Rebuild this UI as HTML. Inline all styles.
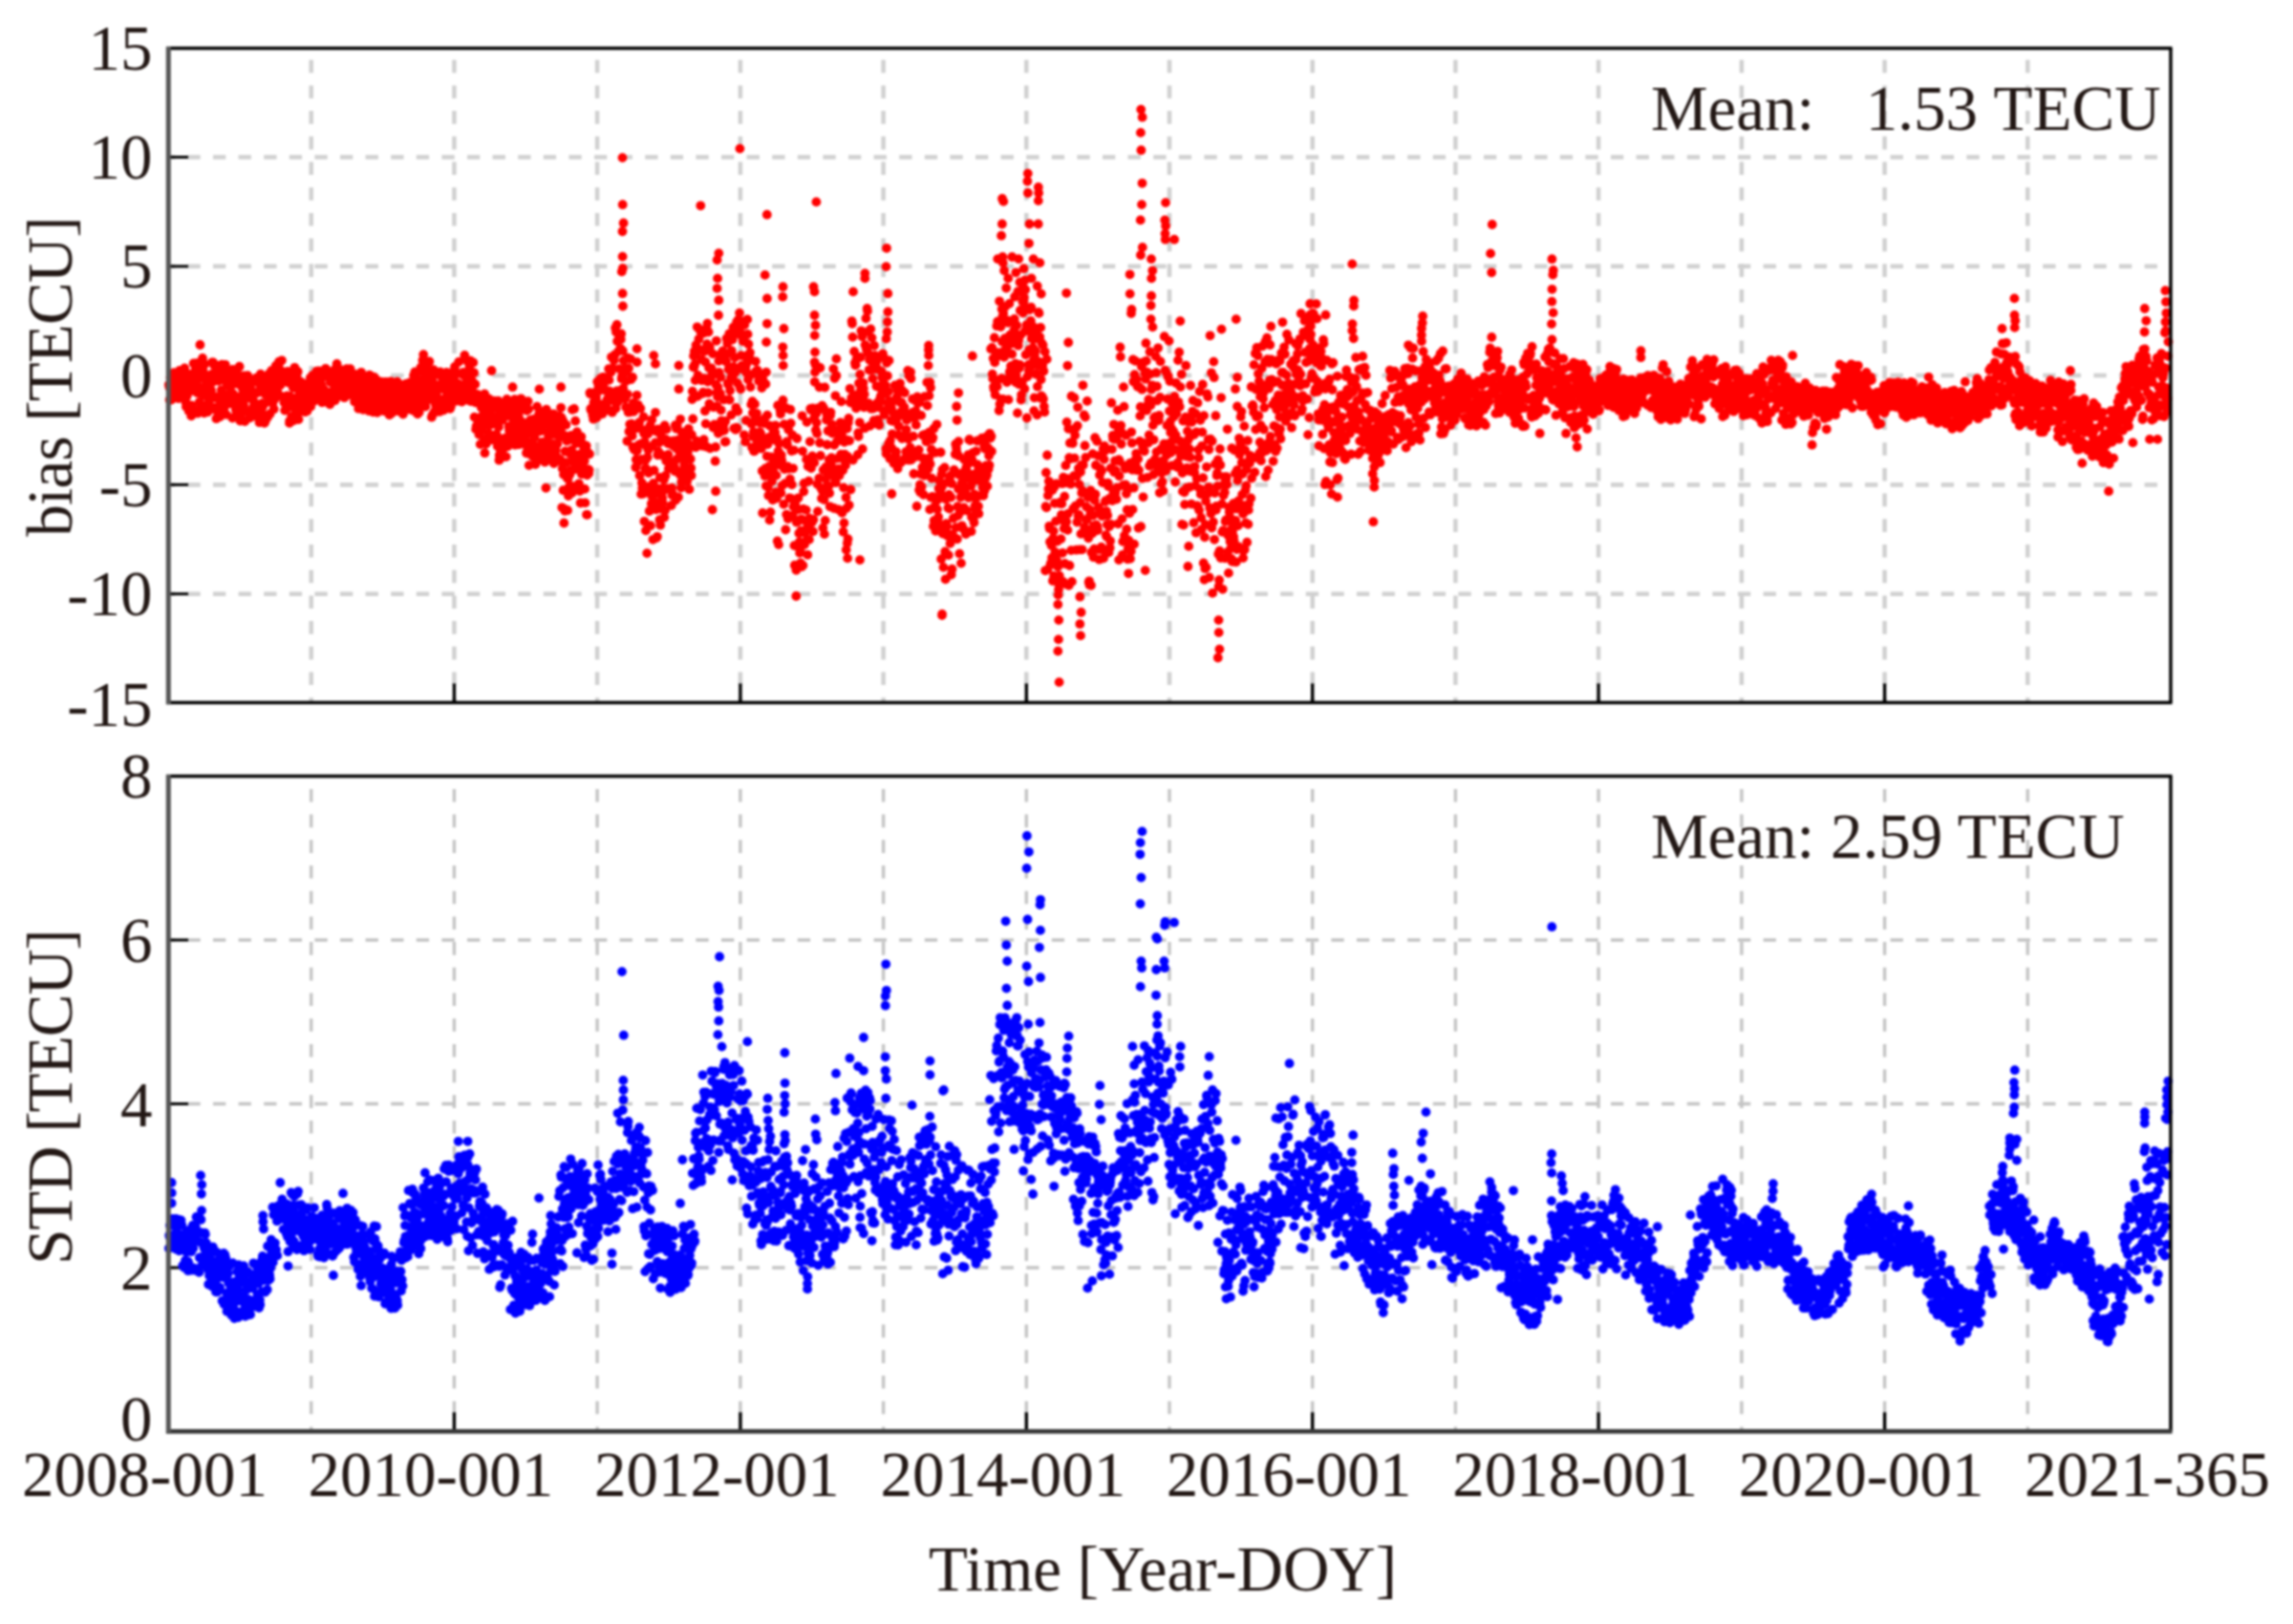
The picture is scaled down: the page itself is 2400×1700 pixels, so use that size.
<!DOCTYPE html>
<html lang="en"><head><meta charset="utf-8"><title>bias and STD time series</title>
<style>
html,body{margin:0;padding:0;background:#fff}
body{width:2400px;height:1700px;overflow:hidden}
svg{display:block;filter:blur(0.85px)}
text{font-family:"Liberation Serif",serif;font-size:67px;fill:#231815;white-space:pre}
</style></head><body>
<svg width="2400" height="1700" viewBox="0 0 2400 1700">
<rect width="2400" height="1700" fill="#fff"/>
<g id="grid-top">
<line x1="325.7" y1="50.5" x2="325.7" y2="735.5" stroke="#d0d0d0" stroke-width="4.5" stroke-dasharray="13.6 13.1" stroke-dashoffset="14.5"/>
<line x1="475.4" y1="50.5" x2="475.4" y2="735.5" stroke="#d0d0d0" stroke-width="4.5" stroke-dasharray="13.6 13.1" stroke-dashoffset="14.5"/>
<line x1="625.1" y1="50.5" x2="625.1" y2="735.5" stroke="#d0d0d0" stroke-width="4.5" stroke-dasharray="13.6 13.1" stroke-dashoffset="14.5"/>
<line x1="774.9" y1="50.5" x2="774.9" y2="735.5" stroke="#d0d0d0" stroke-width="4.5" stroke-dasharray="13.6 13.1" stroke-dashoffset="14.5"/>
<line x1="924.6" y1="50.5" x2="924.6" y2="735.5" stroke="#d0d0d0" stroke-width="4.5" stroke-dasharray="13.6 13.1" stroke-dashoffset="14.5"/>
<line x1="1074.3" y1="50.5" x2="1074.3" y2="735.5" stroke="#d0d0d0" stroke-width="4.5" stroke-dasharray="13.6 13.1" stroke-dashoffset="14.5"/>
<line x1="1224.0" y1="50.5" x2="1224.0" y2="735.5" stroke="#d0d0d0" stroke-width="4.5" stroke-dasharray="13.6 13.1" stroke-dashoffset="14.5"/>
<line x1="1373.7" y1="50.5" x2="1373.7" y2="735.5" stroke="#d0d0d0" stroke-width="4.5" stroke-dasharray="13.6 13.1" stroke-dashoffset="14.5"/>
<line x1="1523.4" y1="50.5" x2="1523.4" y2="735.5" stroke="#d0d0d0" stroke-width="4.5" stroke-dasharray="13.6 13.1" stroke-dashoffset="14.5"/>
<line x1="1673.1" y1="50.5" x2="1673.1" y2="735.5" stroke="#d0d0d0" stroke-width="4.5" stroke-dasharray="13.6 13.1" stroke-dashoffset="14.5"/>
<line x1="1822.9" y1="50.5" x2="1822.9" y2="735.5" stroke="#d0d0d0" stroke-width="4.5" stroke-dasharray="13.6 13.1" stroke-dashoffset="14.5"/>
<line x1="1972.6" y1="50.5" x2="1972.6" y2="735.5" stroke="#d0d0d0" stroke-width="4.5" stroke-dasharray="13.6 13.1" stroke-dashoffset="14.5"/>
<line x1="2122.3" y1="50.5" x2="2122.3" y2="735.5" stroke="#d0d0d0" stroke-width="4.5" stroke-dasharray="13.6 13.1" stroke-dashoffset="14.5"/>
<line x1="176.0" y1="164.5" x2="2272.0" y2="164.5" stroke="#d0d0d0" stroke-width="4.5" stroke-dasharray="13.3 13.3" stroke-dashoffset="6.2"/>
<line x1="176.0" y1="278.8" x2="2272.0" y2="278.8" stroke="#d0d0d0" stroke-width="4.5" stroke-dasharray="13.3 13.3" stroke-dashoffset="6.2"/>
<line x1="176.0" y1="393.0" x2="2272.0" y2="393.0" stroke="#d0d0d0" stroke-width="4.5" stroke-dasharray="13.3 13.3" stroke-dashoffset="6.2"/>
<line x1="176.0" y1="507.4" x2="2272.0" y2="507.4" stroke="#d0d0d0" stroke-width="4.5" stroke-dasharray="13.3 13.3" stroke-dashoffset="6.2"/>
<line x1="176.0" y1="621.7" x2="2272.0" y2="621.7" stroke="#d0d0d0" stroke-width="4.5" stroke-dasharray="13.3 13.3" stroke-dashoffset="6.2"/>
</g>
<g id="grid-bot">
<line x1="325.7" y1="812.5" x2="325.7" y2="1498.4" stroke="#c4c4c4" stroke-width="3.4" stroke-dasharray="13.6 13.1" stroke-dashoffset="13.3"/>
<line x1="475.4" y1="812.5" x2="475.4" y2="1498.4" stroke="#c4c4c4" stroke-width="3.4" stroke-dasharray="13.6 13.1" stroke-dashoffset="13.3"/>
<line x1="625.1" y1="812.5" x2="625.1" y2="1498.4" stroke="#c4c4c4" stroke-width="3.4" stroke-dasharray="13.6 13.1" stroke-dashoffset="13.3"/>
<line x1="774.9" y1="812.5" x2="774.9" y2="1498.4" stroke="#c4c4c4" stroke-width="3.4" stroke-dasharray="13.6 13.1" stroke-dashoffset="13.3"/>
<line x1="924.6" y1="812.5" x2="924.6" y2="1498.4" stroke="#c4c4c4" stroke-width="3.4" stroke-dasharray="13.6 13.1" stroke-dashoffset="13.3"/>
<line x1="1074.3" y1="812.5" x2="1074.3" y2="1498.4" stroke="#c4c4c4" stroke-width="3.4" stroke-dasharray="13.6 13.1" stroke-dashoffset="13.3"/>
<line x1="1224.0" y1="812.5" x2="1224.0" y2="1498.4" stroke="#c4c4c4" stroke-width="3.4" stroke-dasharray="13.6 13.1" stroke-dashoffset="13.3"/>
<line x1="1373.7" y1="812.5" x2="1373.7" y2="1498.4" stroke="#c4c4c4" stroke-width="3.4" stroke-dasharray="13.6 13.1" stroke-dashoffset="13.3"/>
<line x1="1523.4" y1="812.5" x2="1523.4" y2="1498.4" stroke="#c4c4c4" stroke-width="3.4" stroke-dasharray="13.6 13.1" stroke-dashoffset="13.3"/>
<line x1="1673.1" y1="812.5" x2="1673.1" y2="1498.4" stroke="#c4c4c4" stroke-width="3.4" stroke-dasharray="13.6 13.1" stroke-dashoffset="13.3"/>
<line x1="1822.9" y1="812.5" x2="1822.9" y2="1498.4" stroke="#c4c4c4" stroke-width="3.4" stroke-dasharray="13.6 13.1" stroke-dashoffset="13.3"/>
<line x1="1972.6" y1="812.5" x2="1972.6" y2="1498.4" stroke="#c4c4c4" stroke-width="3.4" stroke-dasharray="13.6 13.1" stroke-dashoffset="13.3"/>
<line x1="2122.3" y1="812.5" x2="2122.3" y2="1498.4" stroke="#c4c4c4" stroke-width="3.4" stroke-dasharray="13.6 13.1" stroke-dashoffset="13.3"/>
<line x1="176.0" y1="984.0" x2="2272.0" y2="984.0" stroke="#c4c4c4" stroke-width="3.3" stroke-dasharray="13.3 13.3" stroke-dashoffset="6.2"/>
<line x1="176.0" y1="1155.5" x2="2272.0" y2="1155.5" stroke="#c4c4c4" stroke-width="3.3" stroke-dasharray="13.3 13.3" stroke-dashoffset="6.2"/>
<line x1="176.0" y1="1327.0" x2="2272.0" y2="1327.0" stroke="#c4c4c4" stroke-width="3.3" stroke-dasharray="13.3 13.3" stroke-dashoffset="6.2"/>
</g>
<g id="ticks">
<line x1="176.0" y1="164.5" x2="197.0" y2="164.5" stroke="#000" stroke-width="3"/>
<line x1="176.0" y1="278.8" x2="197.0" y2="278.8" stroke="#000" stroke-width="3"/>
<line x1="176.0" y1="393.0" x2="197.0" y2="393.0" stroke="#000" stroke-width="3"/>
<line x1="176.0" y1="507.4" x2="197.0" y2="507.4" stroke="#000" stroke-width="3"/>
<line x1="176.0" y1="621.7" x2="197.0" y2="621.7" stroke="#000" stroke-width="3"/>
<line x1="475.4" y1="735.5" x2="475.4" y2="715.5" stroke="#000" stroke-width="3.4"/>
<line x1="774.9" y1="735.5" x2="774.9" y2="715.5" stroke="#000" stroke-width="3.4"/>
<line x1="1074.3" y1="735.5" x2="1074.3" y2="715.5" stroke="#000" stroke-width="3.4"/>
<line x1="1373.7" y1="735.5" x2="1373.7" y2="715.5" stroke="#000" stroke-width="3.4"/>
<line x1="1673.1" y1="735.5" x2="1673.1" y2="715.5" stroke="#000" stroke-width="3.4"/>
<line x1="1972.6" y1="735.5" x2="1972.6" y2="715.5" stroke="#000" stroke-width="3.4"/>
<line x1="176.0" y1="984.0" x2="197.0" y2="984.0" stroke="#000" stroke-width="3"/>
<line x1="176.0" y1="1155.5" x2="197.0" y2="1155.5" stroke="#000" stroke-width="3"/>
<line x1="176.0" y1="1327.0" x2="197.0" y2="1327.0" stroke="#000" stroke-width="3"/>
<line x1="475.4" y1="1498.4" x2="475.4" y2="1478.4" stroke="#000" stroke-width="3.4"/>
<line x1="774.9" y1="1498.4" x2="774.9" y2="1478.4" stroke="#000" stroke-width="3.4"/>
<line x1="1074.3" y1="1498.4" x2="1074.3" y2="1478.4" stroke="#000" stroke-width="3.4"/>
<line x1="1373.7" y1="1498.4" x2="1373.7" y2="1478.4" stroke="#000" stroke-width="3.4"/>
<line x1="1673.1" y1="1498.4" x2="1673.1" y2="1478.4" stroke="#000" stroke-width="3.4"/>
<line x1="1972.6" y1="1498.4" x2="1972.6" y2="1478.4" stroke="#000" stroke-width="3.4"/>
</g>
<path id="red" fill="none" stroke="#ff0000" stroke-width="9.8" stroke-linecap="round" d="M176.8 402.8h.01M177.2 404.7h.01M177.6 418.5h.01M178.0 406.5h.01M178.5 395.3h.01M178.9 399.1h.01M179.3 418.6h.01M179.7 417.2h.01M180.1 407.8h.01M180.5 415.6h.01M180.9 417.4h.01M181.3 414.9h.01M181.7 395.7h.01M182.1 390.2h.01M182.6 398.9h.01M183.0 400.3h.01M183.4 410.1h.01M183.8 393.2h.01M184.2 410.7h.01M184.6 411.5h.01M185.0 397.6h.01M185.4 394.2h.01M185.8 408.0h.01M186.2 397.6h.01M186.7 417.0h.01M187.1 397.4h.01M187.5 398.2h.01M187.9 387.9h.01M188.3 408.3h.01M188.7 410.2h.01M189.1 402.6h.01M189.5 409.2h.01M189.9 393.9h.01M190.3 388.3h.01M190.8 389.1h.01M191.2 390.0h.01M191.6 401.7h.01M192.0 415.3h.01M192.4 388.7h.01M192.8 398.7h.01M193.2 385.5h.01M193.6 411.0h.01M194.0 411.2h.01M194.4 421.0h.01M194.9 425.7h.01M195.3 404.9h.01M195.7 414.5h.01M196.1 406.8h.01M196.5 399.8h.01M196.9 399.0h.01M197.3 401.5h.01M197.7 430.4h.01M198.1 425.4h.01M198.5 394.4h.01M199.0 392.0h.01M199.4 425.2h.01M199.8 409.3h.01M200.2 401.6h.01M200.6 424.5h.01M201.0 434.1h.01M201.4 429.6h.01M201.8 401.7h.01M202.2 403.4h.01M202.6 380.4h.01M203.1 390.8h.01M203.5 393.9h.01M203.9 432.1h.01M204.3 394.4h.01M204.7 385.5h.01M205.1 390.7h.01M205.5 385.5h.01M205.9 380.1h.01M206.3 411.0h.01M206.7 403.6h.01M207.1 432.6h.01M207.6 405.2h.01M208.0 408.2h.01M208.4 411.2h.01M208.8 420.8h.01M209.2 428.0h.01M209.6 388.1h.01M210.0 395.9h.01M210.4 411.9h.01M210.8 424.0h.01M211.2 387.7h.01M211.7 392.9h.01M212.1 378.1h.01M212.5 388.1h.01M212.9 393.9h.01M213.3 406.0h.01M213.7 432.3h.01M214.1 381.6h.01M214.5 414.0h.01M214.9 408.6h.01M215.3 404.6h.01M215.8 402.2h.01M216.2 430.8h.01M216.6 412.5h.01M217.0 408.5h.01M217.4 431.2h.01M217.8 394.9h.01M218.2 422.4h.01M218.6 421.1h.01M219.0 411.9h.01M219.4 426.4h.01M219.9 401.5h.01M220.3 407.2h.01M220.7 392.3h.01M221.1 408.7h.01M221.5 415.1h.01M221.9 379.4h.01M222.3 391.4h.01M222.7 399.7h.01M223.1 379.5h.01M223.5 393.2h.01M224.0 382.3h.01M224.4 427.0h.01M224.8 416.3h.01M225.2 392.1h.01M225.6 429.0h.01M226.0 416.3h.01M226.4 438.2h.01M226.8 437.8h.01M227.2 394.3h.01M227.6 415.5h.01M228.1 425.9h.01M228.5 383.9h.01M228.9 398.8h.01M229.3 387.5h.01M229.7 382.7h.01M230.1 436.4h.01M230.5 419.1h.01M230.9 434.2h.01M231.3 416.6h.01M231.7 408.3h.01M232.2 381.7h.01M232.6 396.7h.01M233.0 390.2h.01M233.4 383.6h.01M233.8 382.4h.01M234.2 387.7h.01M234.6 394.7h.01M235.0 426.2h.01M235.4 420.7h.01M235.8 381.8h.01M236.2 415.5h.01M236.7 433.9h.01M237.1 423.1h.01M237.5 402.7h.01M237.9 390.8h.01M238.3 401.5h.01M238.7 404.0h.01M239.1 401.4h.01M239.5 390.2h.01M239.9 413.7h.01M240.3 412.2h.01M240.8 413.7h.01M241.2 398.1h.01M241.6 422.4h.01M242.0 403.8h.01M242.4 415.7h.01M242.8 395.4h.01M243.2 400.8h.01M243.6 386.8h.01M244.0 412.1h.01M244.4 397.7h.01M244.9 397.7h.01M245.3 390.1h.01M245.7 419.1h.01M246.1 399.4h.01M246.5 425.4h.01M246.9 429.1h.01M247.3 400.0h.01M247.7 426.1h.01M248.1 387.3h.01M248.5 392.3h.01M249.0 429.5h.01M249.4 402.0h.01M249.8 436.9h.01M250.2 395.7h.01M250.6 383.7h.01M251.0 415.7h.01M251.4 440.6h.01M251.8 422.9h.01M252.2 427.2h.01M252.6 414.6h.01M253.1 429.1h.01M253.5 431.4h.01M253.9 406.9h.01M254.3 400.7h.01M254.7 410.2h.01M255.1 424.2h.01M255.5 393.5h.01M255.9 394.6h.01M256.3 441.1h.01M256.7 396.2h.01M257.2 401.3h.01M257.6 393.4h.01M258.0 430.5h.01M258.4 416.3h.01M258.8 404.4h.01M259.2 393.1h.01M259.6 399.8h.01M260.0 399.2h.01M260.4 416.7h.01M260.8 396.1h.01M261.2 432.9h.01M261.7 437.4h.01M262.1 405.7h.01M262.5 402.1h.01M262.9 399.2h.01M263.3 413.7h.01M263.7 414.4h.01M264.1 410.5h.01M264.5 416.7h.01M264.9 426.4h.01M265.3 427.6h.01M265.8 420.5h.01M266.2 425.3h.01M266.6 421.8h.01M267.0 431.4h.01M267.4 424.5h.01M267.8 430.9h.01M268.2 395.7h.01M268.6 430.1h.01M269.0 429.8h.01M269.4 411.2h.01M269.9 436.9h.01M270.3 410.6h.01M270.7 428.6h.01M271.1 409.3h.01M271.5 442.2h.01M271.9 402.6h.01M272.3 437.3h.01M272.7 391.6h.01M273.1 409.6h.01M273.5 401.8h.01M274.0 432.2h.01M274.4 422.1h.01M274.8 426.1h.01M275.2 408.0h.01M275.6 422.8h.01M276.0 396.7h.01M276.4 397.6h.01M276.8 442.9h.01M277.2 422.2h.01M277.6 412.7h.01M278.1 436.1h.01M278.5 406.6h.01M278.9 404.7h.01M279.3 397.7h.01M279.7 402.5h.01M280.1 436.7h.01M280.5 418.7h.01M280.9 414.3h.01M281.3 411.3h.01M281.7 391.1h.01M282.2 418.7h.01M282.6 433.2h.01M283.0 399.8h.01M283.4 417.2h.01M283.8 396.9h.01M284.2 387.9h.01M284.6 392.6h.01M285.0 398.7h.01M285.4 422.0h.01M285.8 408.0h.01M286.3 389.6h.01M286.7 428.3h.01M287.1 412.9h.01M287.5 417.8h.01M287.9 410.9h.01M288.3 402.3h.01M288.7 383.0h.01M289.1 392.6h.01M289.5 398.7h.01M289.9 389.7h.01M290.3 409.8h.01M290.8 397.8h.01M291.2 382.8h.01M291.6 395.4h.01M292.0 378.6h.01M292.4 403.7h.01M292.8 379.4h.01M293.2 403.4h.01M293.6 401.9h.01M294.0 387.9h.01M294.4 388.4h.01M294.9 377.3h.01M295.3 415.2h.01M295.7 400.3h.01M296.1 389.9h.01M296.5 395.3h.01M296.9 393.8h.01M297.3 421.3h.01M297.7 421.8h.01M298.1 429.6h.01M298.5 394.0h.01M299.0 415.7h.01M299.4 399.3h.01M299.8 419.5h.01M300.2 393.6h.01M300.6 414.3h.01M301.0 389.0h.01M301.4 400.4h.01M301.8 395.6h.01M302.2 426.3h.01M302.6 394.5h.01M303.1 440.8h.01M303.5 415.0h.01M303.9 415.7h.01M304.3 422.7h.01M304.7 389.1h.01M305.1 435.9h.01M305.5 424.7h.01M305.9 398.7h.01M306.3 401.1h.01M306.7 405.8h.01M307.2 440.2h.01M307.6 417.1h.01M308.0 422.5h.01M308.4 384.8h.01M308.8 406.0h.01M309.2 401.7h.01M309.6 431.6h.01M310.0 425.4h.01M310.4 394.4h.01M310.8 416.8h.01M311.3 405.7h.01M311.7 389.0h.01M312.1 421.3h.01M312.5 439.1h.01M312.9 414.3h.01M313.3 423.1h.01M313.7 431.1h.01M314.1 408.2h.01M314.5 399.6h.01M314.9 406.0h.01M315.4 416.5h.01M315.8 400.4h.01M316.2 423.6h.01M316.6 402.2h.01M317.0 415.7h.01M317.4 409.8h.01M317.8 418.4h.01M318.2 430.2h.01M318.6 420.1h.01M319.0 411.3h.01M319.4 431.2h.01M319.9 410.9h.01M320.3 403.5h.01M320.7 424.8h.01M321.1 407.7h.01M321.5 430.2h.01M321.9 401.8h.01M322.3 409.3h.01M322.7 415.1h.01M323.1 413.5h.01M323.5 419.1h.01M324.0 410.9h.01M324.4 407.7h.01M324.8 395.4h.01M325.2 425.5h.01M325.6 416.6h.01M326.0 401.9h.01M326.4 396.7h.01M326.8 400.7h.01M327.2 392.8h.01M327.6 407.7h.01M328.1 420.2h.01M328.5 402.7h.01M328.9 406.5h.01M329.3 408.5h.01M329.7 396.3h.01M330.1 412.8h.01M330.5 414.6h.01M330.9 397.9h.01M331.3 388.6h.01M331.7 399.3h.01M332.2 402.8h.01M332.6 392.4h.01M333.0 409.8h.01M333.4 416.9h.01M333.8 388.5h.01M334.2 398.2h.01M334.6 391.9h.01M335.0 418.7h.01M335.4 399.6h.01M335.8 389.4h.01M336.3 402.8h.01M336.7 410.8h.01M337.1 421.2h.01M337.5 407.3h.01M337.9 410.5h.01M338.3 416.2h.01M338.7 389.6h.01M339.1 407.6h.01M339.5 388.7h.01M339.9 391.2h.01M340.4 411.3h.01M340.8 385.8h.01M341.2 417.8h.01M341.6 390.4h.01M342.0 390.5h.01M342.4 417.3h.01M342.8 394.5h.01M343.2 410.6h.01M343.6 421.5h.01M344.0 395.1h.01M344.5 419.9h.01M344.9 388.9h.01M345.3 423.3h.01M345.7 400.1h.01M346.1 395.8h.01M346.5 414.4h.01M346.9 411.7h.01M347.3 413.1h.01M347.7 395.8h.01M348.1 393.0h.01M348.5 393.1h.01M349.0 394.1h.01M349.4 408.0h.01M349.8 415.7h.01M350.2 402.0h.01M350.6 419.2h.01M351.0 392.8h.01M351.4 385.6h.01M351.8 385.7h.01M352.2 399.3h.01M352.6 380.9h.01M353.1 404.1h.01M353.5 415.4h.01M353.9 390.5h.01M354.3 407.0h.01M354.7 410.9h.01M355.1 414.1h.01M355.5 390.5h.01M355.9 405.5h.01M356.3 399.7h.01M356.7 403.9h.01M357.2 410.2h.01M357.6 392.8h.01M358.0 387.4h.01M358.4 404.0h.01M358.8 391.8h.01M359.2 412.7h.01M359.6 411.0h.01M360.0 404.7h.01M360.4 416.2h.01M360.8 397.0h.01M361.3 415.2h.01M361.7 409.1h.01M362.1 401.3h.01M362.5 390.1h.01M362.9 386.2h.01M363.3 402.0h.01M363.7 410.3h.01M364.1 399.0h.01M364.5 402.5h.01M364.9 396.3h.01M365.4 412.5h.01M365.8 411.3h.01M366.2 387.2h.01M366.6 386.1h.01M367.0 397.9h.01M367.4 405.2h.01M367.8 413.6h.01M368.2 410.1h.01M368.6 393.1h.01M369.0 395.5h.01M369.5 410.3h.01M369.9 412.8h.01M370.3 398.5h.01M370.7 409.3h.01M371.1 420.5h.01M371.5 392.0h.01M371.9 414.8h.01M372.3 409.9h.01M372.7 418.8h.01M373.1 420.3h.01M373.6 400.6h.01M374.0 393.5h.01M374.4 418.9h.01M374.8 422.1h.01M375.2 427.7h.01M375.6 403.5h.01M376.0 393.5h.01M376.4 405.3h.01M376.8 407.0h.01M377.2 406.4h.01M377.6 416.7h.01M378.1 389.8h.01M378.5 411.3h.01M378.9 412.6h.01M379.3 412.8h.01M379.7 409.9h.01M380.1 428.8h.01M380.5 403.1h.01M380.9 419.7h.01M381.3 399.7h.01M381.7 395.4h.01M382.2 425.5h.01M382.6 408.8h.01M383.0 412.4h.01M383.4 397.1h.01M383.8 418.4h.01M384.2 411.7h.01M384.6 399.1h.01M385.0 425.1h.01M385.4 403.0h.01M385.8 399.8h.01M386.3 430.2h.01M386.7 392.7h.01M387.1 427.7h.01M387.5 426.4h.01M387.9 419.8h.01M388.3 407.9h.01M388.7 393.9h.01M389.1 413.8h.01M389.5 407.3h.01M389.9 404.9h.01M390.4 431.4h.01M390.8 428.7h.01M391.2 412.2h.01M391.6 394.9h.01M392.0 422.0h.01M392.4 414.3h.01M392.8 396.3h.01M393.2 424.8h.01M393.6 409.2h.01M394.0 411.5h.01M394.5 421.9h.01M394.9 431.8h.01M395.3 398.9h.01M395.7 400.6h.01M396.1 412.2h.01M396.5 404.4h.01M396.9 407.2h.01M397.3 405.1h.01M397.7 406.0h.01M398.1 402.2h.01M398.6 399.6h.01M399.0 414.7h.01M399.4 399.8h.01M399.8 423.7h.01M400.2 407.7h.01M400.6 415.7h.01M401.0 403.0h.01M401.4 412.8h.01M401.8 430.2h.01M402.2 425.7h.01M402.6 402.9h.01M403.1 409.2h.01M403.5 400.0h.01M403.9 426.4h.01M404.3 406.1h.01M404.7 402.9h.01M405.1 430.3h.01M405.5 416.8h.01M405.9 400.2h.01M406.3 413.1h.01M406.7 429.0h.01M407.2 418.9h.01M407.6 434.4h.01M408.0 409.0h.01M408.4 423.1h.01M408.8 406.2h.01M409.2 399.3h.01M409.6 432.9h.01M410.0 418.6h.01M410.4 420.6h.01M410.8 408.8h.01M411.3 422.5h.01M411.7 424.6h.01M412.1 413.9h.01M412.5 425.0h.01M412.9 407.3h.01M413.3 423.2h.01M413.7 418.6h.01M414.1 405.9h.01M414.5 419.3h.01M414.9 423.1h.01M415.4 410.5h.01M415.8 399.7h.01M416.2 430.2h.01M416.6 421.8h.01M417.0 422.3h.01M417.4 404.0h.01M417.8 415.9h.01M418.2 402.3h.01M418.6 420.8h.01M419.0 419.6h.01M419.5 427.2h.01M419.9 416.6h.01M420.3 424.2h.01M420.7 428.6h.01M421.1 405.1h.01M421.5 419.6h.01M421.9 433.5h.01M422.3 425.2h.01M422.7 422.4h.01M423.1 419.5h.01M423.6 411.6h.01M424.0 411.3h.01M424.4 402.5h.01M424.8 401.9h.01M425.2 413.3h.01M425.6 425.6h.01M426.0 419.2h.01M426.4 411.6h.01M426.8 409.3h.01M427.2 407.9h.01M427.7 409.8h.01M428.1 416.1h.01M428.5 400.7h.01M428.9 428.5h.01M429.3 428.2h.01M429.7 421.7h.01M430.1 422.3h.01M430.5 405.9h.01M430.9 412.1h.01M431.3 426.7h.01M431.7 402.6h.01M432.2 429.6h.01M432.6 408.3h.01M433.0 393.0h.01M433.4 430.0h.01M433.8 420.5h.01M434.2 389.5h.01M434.6 390.6h.01M435.0 423.2h.01M435.4 415.2h.01M435.8 396.3h.01M436.3 415.2h.01M436.7 419.8h.01M437.1 433.4h.01M437.5 403.2h.01M437.9 411.8h.01M438.3 401.8h.01M438.7 431.5h.01M439.1 421.7h.01M439.5 407.3h.01M439.9 415.6h.01M440.4 384.6h.01M440.8 423.7h.01M441.2 411.1h.01M441.6 420.3h.01M442.0 411.3h.01M442.4 377.2h.01M442.8 389.5h.01M443.2 371.1h.01M443.6 396.9h.01M444.0 385.2h.01M444.5 411.9h.01M444.9 422.6h.01M445.3 425.5h.01M445.7 380.7h.01M446.1 401.7h.01M446.5 382.2h.01M446.9 417.0h.01M447.3 395.4h.01M447.7 399.9h.01M448.1 387.1h.01M448.6 408.7h.01M449.0 412.4h.01M449.4 378.5h.01M449.8 400.3h.01M450.2 395.4h.01M450.6 417.8h.01M451.0 397.4h.01M451.4 404.9h.01M451.8 436.7h.01M452.2 418.4h.01M452.7 434.1h.01M453.1 400.2h.01M453.5 393.7h.01M453.9 387.2h.01M454.3 406.9h.01M454.7 431.0h.01M455.1 417.7h.01M455.5 411.5h.01M455.9 423.6h.01M456.3 425.1h.01M456.8 411.7h.01M457.2 415.1h.01M457.6 416.0h.01M458.0 427.6h.01M458.4 430.9h.01M458.8 407.0h.01M459.2 418.7h.01M459.6 427.9h.01M460.0 419.8h.01M460.4 430.9h.01M460.8 389.5h.01M461.3 392.8h.01M461.7 401.9h.01M462.1 394.3h.01M462.5 424.8h.01M462.9 423.6h.01M463.3 396.7h.01M463.7 401.5h.01M464.1 407.3h.01M464.5 429.4h.01M464.9 402.7h.01M465.4 407.4h.01M465.8 428.0h.01M466.2 405.5h.01M466.6 416.0h.01M467.0 407.4h.01M467.4 389.9h.01M467.8 398.4h.01M468.2 416.4h.01M468.6 390.4h.01M469.0 424.1h.01M469.5 390.4h.01M469.9 414.4h.01M470.3 409.1h.01M470.7 405.5h.01M471.1 427.8h.01M471.5 422.5h.01M471.9 425.6h.01M472.3 404.0h.01M472.7 405.3h.01M473.1 415.7h.01M473.6 405.3h.01M474.0 402.6h.01M474.4 407.1h.01M474.8 411.7h.01M475.2 397.3h.01M475.6 388.7h.01M476.0 383.9h.01M476.4 405.4h.01M476.8 390.8h.01M477.2 419.7h.01M477.7 419.7h.01M478.1 406.3h.01M478.5 390.8h.01M478.9 412.4h.01M479.3 417.9h.01M479.7 401.6h.01M480.1 378.9h.01M480.5 407.7h.01M480.9 403.1h.01M481.3 416.1h.01M481.8 414.4h.01M482.2 418.8h.01M482.6 406.4h.01M483.0 415.9h.01M483.4 420.5h.01M483.8 404.8h.01M484.2 392.3h.01M484.6 390.0h.01M485.0 415.4h.01M485.4 392.8h.01M485.9 410.2h.01M486.3 372.0h.01M486.7 392.5h.01M487.1 394.2h.01M487.5 391.8h.01M487.9 392.6h.01M488.3 400.1h.01M488.7 390.6h.01M489.1 377.5h.01M489.5 413.5h.01M489.9 379.0h.01M490.4 402.3h.01M490.8 419.2h.01M491.2 385.8h.01M491.6 394.7h.01M492.0 391.1h.01M492.4 377.7h.01M492.8 420.1h.01M493.2 405.4h.01M493.6 397.9h.01M494.0 407.1h.01M494.5 415.1h.01M494.9 411.0h.01M495.3 379.5h.01M495.7 418.5h.01M496.1 390.2h.01M496.5 436.6h.01M496.9 401.9h.01M497.3 402.3h.01M497.7 421.3h.01M498.1 449.4h.01M498.6 446.3h.01M499.0 415.0h.01M499.4 444.9h.01M499.8 412.9h.01M500.2 441.3h.01M500.6 417.6h.01M501.0 415.8h.01M501.4 454.9h.01M501.8 422.3h.01M502.2 437.5h.01M502.7 465.1h.01M503.1 444.2h.01M503.5 445.2h.01M503.9 426.8h.01M504.3 441.2h.01M504.7 450.4h.01M505.1 434.9h.01M505.5 420.9h.01M505.9 440.1h.01M506.3 437.8h.01M506.8 459.4h.01M507.2 412.5h.01M507.6 427.0h.01M508.0 442.7h.01M508.4 445.0h.01M508.8 464.6h.01M509.2 438.0h.01M509.6 437.4h.01M510.0 418.2h.01M510.4 428.9h.01M510.9 444.8h.01M511.3 418.0h.01M511.7 417.5h.01M512.1 454.2h.01M512.5 424.2h.01M512.9 460.7h.01M513.3 429.6h.01M513.7 444.5h.01M514.1 438.0h.01M514.5 427.4h.01M515.0 435.9h.01M515.4 440.6h.01M515.8 441.0h.01M516.2 425.7h.01M516.6 439.0h.01M517.0 419.6h.01M517.4 460.6h.01M517.8 441.9h.01M518.2 457.3h.01M518.6 436.5h.01M519.0 437.4h.01M519.5 454.6h.01M519.9 462.4h.01M520.3 440.2h.01M520.7 467.1h.01M521.1 427.9h.01M521.5 419.6h.01M521.9 447.0h.01M522.3 458.6h.01M522.7 476.5h.01M523.1 468.4h.01M523.6 470.7h.01M524.0 474.2h.01M524.4 479.2h.01M524.8 461.8h.01M525.2 425.7h.01M525.6 439.9h.01M526.0 432.4h.01M526.4 436.4h.01M526.8 463.1h.01M527.2 469.4h.01M527.7 427.7h.01M528.1 467.5h.01M528.5 461.8h.01M528.9 436.3h.01M529.3 458.3h.01M529.7 478.1h.01M530.1 435.9h.01M530.5 418.0h.01M530.9 421.4h.01M531.3 467.2h.01M531.8 463.2h.01M532.2 430.7h.01M532.6 446.5h.01M533.0 450.6h.01M533.4 448.9h.01M533.8 454.0h.01M534.2 435.9h.01M534.6 458.8h.01M535.0 452.1h.01M535.4 432.0h.01M535.9 422.4h.01M536.3 452.0h.01M536.7 443.7h.01M537.1 457.3h.01M537.5 433.8h.01M537.9 432.3h.01M538.3 425.6h.01M538.7 418.1h.01M539.1 465.7h.01M539.5 464.3h.01M540.0 442.2h.01M540.4 463.2h.01M540.8 457.6h.01M541.2 436.1h.01M541.6 429.7h.01M542.0 419.9h.01M542.4 447.8h.01M542.8 436.0h.01M543.2 465.2h.01M543.6 447.9h.01M544.1 430.0h.01M544.5 455.5h.01M544.9 422.9h.01M545.3 417.3h.01M545.7 441.2h.01M546.1 457.6h.01M546.5 453.6h.01M546.9 446.8h.01M547.3 443.5h.01M547.7 419.9h.01M548.1 444.8h.01M548.6 464.7h.01M549.0 421.4h.01M549.4 458.4h.01M549.8 462.2h.01M550.2 462.3h.01M550.6 427.8h.01M551.0 474.3h.01M551.4 429.9h.01M551.8 452.6h.01M552.2 470.6h.01M552.7 420.1h.01M553.1 428.5h.01M553.5 453.3h.01M553.9 441.3h.01M554.3 442.5h.01M554.7 448.9h.01M555.1 439.7h.01M555.5 475.9h.01M555.9 452.5h.01M556.3 473.5h.01M556.8 462.7h.01M557.2 454.0h.01M557.6 477.8h.01M558.0 473.1h.01M558.4 438.9h.01M558.8 450.7h.01M559.2 478.4h.01M559.6 457.9h.01M560.0 468.9h.01M560.4 486.0h.01M560.9 481.8h.01M561.3 440.4h.01M561.7 467.4h.01M562.1 425.6h.01M562.5 444.3h.01M562.9 473.9h.01M563.3 438.8h.01M563.7 440.8h.01M564.1 433.2h.01M564.5 471.2h.01M565.0 439.2h.01M565.4 451.3h.01M565.8 451.2h.01M566.2 435.7h.01M566.6 481.4h.01M567.0 450.9h.01M567.4 463.0h.01M567.8 472.6h.01M568.2 440.8h.01M568.6 433.4h.01M569.1 480.5h.01M569.5 443.3h.01M569.9 475.4h.01M570.3 483.7h.01M570.7 429.7h.01M571.1 465.1h.01M571.5 429.0h.01M571.9 428.7h.01M572.3 442.7h.01M572.7 436.3h.01M573.1 467.0h.01M573.6 479.7h.01M574.0 456.5h.01M574.4 452.4h.01M574.8 467.5h.01M575.2 465.9h.01M575.6 446.2h.01M576.0 477.9h.01M576.4 473.5h.01M576.8 472.1h.01M577.2 455.1h.01M577.7 453.7h.01M578.1 447.8h.01M578.5 454.8h.01M578.9 464.8h.01M579.3 433.3h.01M579.7 485.0h.01M580.1 442.0h.01M580.5 436.1h.01M580.9 454.9h.01M581.3 469.6h.01M581.8 471.2h.01M582.2 443.1h.01M582.6 477.9h.01M583.0 479.5h.01M583.4 464.6h.01M583.8 446.7h.01M584.2 448.6h.01M584.6 456.2h.01M585.0 452.1h.01M585.4 435.6h.01M585.9 457.6h.01M586.3 480.9h.01M586.7 452.4h.01M587.1 449.1h.01M587.5 437.0h.01M587.9 437.7h.01M588.3 484.0h.01M588.7 490.4h.01M589.1 440.1h.01M589.5 513.2h.01M590.0 496.7h.01M590.4 532.7h.01M590.8 456.0h.01M591.2 534.8h.01M591.6 472.5h.01M592.0 456.3h.01M592.4 444.7h.01M592.8 484.1h.01M593.2 461.6h.01M593.6 500.2h.01M594.1 534.2h.01M594.5 501.3h.01M594.9 519.1h.01M595.3 460.0h.01M595.7 509.8h.01M596.1 460.3h.01M596.5 496.5h.01M596.9 475.1h.01M597.3 492.5h.01M597.7 456.0h.01M598.2 471.1h.01M598.6 516.1h.01M599.0 509.2h.01M599.4 482.0h.01M599.8 491.9h.01M600.2 483.9h.01M600.6 511.6h.01M601.0 428.0h.01M601.4 490.1h.01M601.8 456.5h.01M602.2 440.7h.01M602.7 510.2h.01M603.1 464.1h.01M603.5 478.1h.01M603.9 452.1h.01M604.3 455.5h.01M604.7 480.1h.01M605.1 491.3h.01M605.5 475.9h.01M605.9 506.3h.01M606.3 461.9h.01M606.8 514.1h.01M607.2 492.3h.01M607.6 526.5h.01M608.0 483.1h.01M608.4 457.2h.01M608.8 496.3h.01M609.2 488.5h.01M609.6 484.0h.01M610.0 473.7h.01M610.4 466.6h.01M610.9 465.4h.01M611.3 468.1h.01M611.7 482.5h.01M612.1 511.9h.01M612.5 526.4h.01M612.9 493.3h.01M613.3 470.7h.01M613.7 466.6h.01M614.1 494.4h.01M614.5 497.3h.01M615.0 493.6h.01M615.4 473.6h.01M615.8 491.4h.01M616.2 495.6h.01M616.6 492.0h.01M617.0 475.3h.01M617.4 411.2h.01M617.8 412.3h.01M618.2 428.0h.01M618.6 429.3h.01M619.1 427.3h.01M619.5 429.4h.01M619.9 413.1h.01M620.3 434.5h.01M620.7 430.9h.01M621.1 438.7h.01M621.5 421.1h.01M621.9 420.5h.01M622.3 426.7h.01M622.7 410.8h.01M623.2 423.0h.01M623.6 415.7h.01M624.0 415.9h.01M624.4 437.2h.01M624.8 425.6h.01M625.2 399.6h.01M625.6 423.0h.01M626.0 422.3h.01M626.4 404.1h.01M626.8 409.2h.01M627.3 434.3h.01M627.7 404.3h.01M628.1 404.7h.01M628.5 396.1h.01M628.9 400.7h.01M629.3 424.7h.01M629.7 426.7h.01M630.1 426.5h.01M630.5 433.2h.01M630.9 394.9h.01M631.3 430.1h.01M631.8 405.1h.01M632.2 429.5h.01M632.6 429.9h.01M633.0 395.2h.01M633.4 422.1h.01M633.8 423.4h.01M634.2 409.1h.01M634.6 423.2h.01M635.0 429.2h.01M635.4 418.1h.01M635.9 409.3h.01M636.3 428.6h.01M636.7 397.9h.01M637.1 386.1h.01M637.5 397.9h.01M637.9 409.5h.01M638.3 419.0h.01M638.7 418.6h.01M639.1 413.2h.01M639.5 389.5h.01M640.0 373.8h.01M640.4 414.5h.01M640.8 431.7h.01M641.2 385.4h.01M641.6 418.5h.01M642.0 415.2h.01M642.4 376.7h.01M642.8 377.0h.01M643.2 420.0h.01M643.6 371.3h.01M644.1 343.2h.01M644.5 427.5h.01M644.9 347.5h.01M645.3 409.5h.01M645.7 339.9h.01M646.1 357.2h.01M646.5 420.9h.01M646.9 349.2h.01M647.3 367.6h.01M647.7 409.1h.01M648.2 386.1h.01M648.6 366.6h.01M649.0 413.4h.01M649.4 364.8h.01M649.8 355.2h.01M650.2 349.4h.01M650.6 396.6h.01M651.0 393.9h.01M651.4 396.7h.01M651.8 367.2h.01M652.3 406.4h.01M652.7 377.4h.01M653.1 413.7h.01M653.5 386.1h.01M653.9 417.5h.01M654.3 413.0h.01M654.7 416.0h.01M655.1 426.3h.01M655.5 398.9h.01M655.9 389.1h.01M656.4 461.8h.01M656.8 412.8h.01M657.2 374.6h.01M657.6 431.6h.01M658.0 385.5h.01M658.4 451.8h.01M658.8 427.8h.01M659.2 444.1h.01M659.6 431.4h.01M660.0 375.7h.01M660.4 397.2h.01M660.9 443.7h.01M661.3 444.4h.01M661.7 456.2h.01M662.1 395.0h.01M662.5 468.0h.01M662.9 421.8h.01M663.3 430.8h.01M663.7 470.5h.01M664.1 470.3h.01M664.5 446.8h.01M665.0 448.6h.01M665.4 489.3h.01M665.8 481.1h.01M666.2 472.3h.01M666.6 413.8h.01M667.0 471.5h.01M667.4 483.0h.01M667.8 423.8h.01M668.2 483.5h.01M668.6 465.7h.01M669.1 442.2h.01M669.5 497.8h.01M669.9 448.2h.01M670.3 427.5h.01M670.7 464.7h.01M671.1 517.2h.01M671.5 480.9h.01M671.9 505.4h.01M672.3 511.0h.01M672.7 511.8h.01M673.2 516.9h.01M673.6 436.5h.01M674.0 453.7h.01M674.4 545.8h.01M674.8 462.4h.01M675.2 490.6h.01M675.6 481.7h.01M676.0 555.4h.01M676.4 490.6h.01M676.8 467.4h.01M677.3 449.6h.01M677.7 478.8h.01M678.1 454.2h.01M678.5 471.1h.01M678.9 495.0h.01M679.3 509.3h.01M679.7 535.0h.01M680.1 516.3h.01M680.5 445.2h.01M680.9 550.2h.01M681.4 449.5h.01M681.8 527.2h.01M682.2 439.4h.01M682.6 519.9h.01M683.0 466.9h.01M683.4 564.8h.01M683.8 506.0h.01M684.2 513.4h.01M684.6 492.5h.01M685.0 517.4h.01M685.5 527.8h.01M685.9 463.4h.01M686.3 451.4h.01M686.7 533.4h.01M687.1 563.1h.01M687.5 526.5h.01M687.9 561.8h.01M688.3 476.3h.01M688.7 449.3h.01M689.1 472.6h.01M689.5 511.7h.01M690.0 463.2h.01M690.4 544.2h.01M690.8 500.0h.01M691.2 549.7h.01M691.6 454.9h.01M692.0 532.7h.01M692.4 518.4h.01M692.8 476.5h.01M693.2 521.3h.01M693.6 526.5h.01M694.1 510.9h.01M694.5 513.5h.01M694.9 502.1h.01M695.3 541.6h.01M695.7 445.5h.01M696.1 534.3h.01M696.5 497.9h.01M696.9 460.0h.01M697.3 482.6h.01M697.7 449.4h.01M698.2 511.3h.01M698.6 511.7h.01M699.0 464.0h.01M699.4 476.0h.01M699.8 490.6h.01M700.2 464.6h.01M700.6 490.1h.01M701.0 483.2h.01M701.4 461.8h.01M701.8 489.0h.01M702.3 486.7h.01M702.7 529.0h.01M703.1 510.8h.01M703.5 518.2h.01M703.9 516.8h.01M704.3 485.0h.01M704.7 466.7h.01M705.1 486.2h.01M705.5 461.3h.01M705.9 488.6h.01M706.4 493.2h.01M706.8 445.1h.01M707.2 523.5h.01M707.6 469.1h.01M708.0 448.7h.01M708.4 480.7h.01M708.8 445.1h.01M709.2 466.6h.01M709.6 460.7h.01M710.0 520.4h.01M710.5 469.7h.01M710.9 472.2h.01M711.3 493.9h.01M711.7 496.7h.01M712.1 438.8h.01M712.5 469.8h.01M712.9 510.6h.01M713.3 504.5h.01M713.7 452.4h.01M714.1 460.7h.01M714.5 493.3h.01M715.0 476.6h.01M715.4 479.1h.01M715.8 501.3h.01M716.2 486.8h.01M716.6 480.7h.01M717.0 453.9h.01M717.4 454.6h.01M717.8 458.7h.01M718.2 468.6h.01M718.6 500.8h.01M719.1 504.0h.01M719.5 463.1h.01M719.9 473.1h.01M720.3 497.1h.01M720.7 448.8h.01M721.1 495.1h.01M721.5 512.2h.01M721.9 480.1h.01M722.3 466.7h.01M722.7 480.5h.01M723.2 490.0h.01M723.6 497.8h.01M724.0 455.1h.01M724.4 418.0h.01M724.8 409.6h.01M725.2 438.5h.01M725.6 384.3h.01M726.0 372.6h.01M726.4 384.6h.01M726.8 367.8h.01M727.3 381.3h.01M727.7 398.1h.01M728.1 468.2h.01M728.5 361.3h.01M728.9 369.1h.01M729.3 461.7h.01M729.7 342.3h.01M730.1 414.9h.01M730.5 392.9h.01M730.9 463.4h.01M731.4 355.0h.01M731.8 344.4h.01M732.2 465.5h.01M732.6 462.8h.01M733.0 345.4h.01M733.4 347.1h.01M733.8 366.3h.01M734.2 376.3h.01M734.6 398.2h.01M735.0 466.7h.01M735.5 411.9h.01M735.9 410.6h.01M736.3 348.7h.01M736.7 460.2h.01M737.1 396.2h.01M737.5 367.7h.01M737.9 430.2h.01M738.3 379.0h.01M738.7 443.6h.01M739.1 467.5h.01M739.6 343.6h.01M740.0 360.1h.01M740.4 338.6h.01M740.8 399.5h.01M741.2 411.2h.01M741.6 347.6h.01M742.0 385.1h.01M742.4 422.6h.01M742.8 363.5h.01M743.2 469.3h.01M743.6 395.3h.01M744.1 395.2h.01M744.5 385.3h.01M744.9 425.5h.01M745.3 389.0h.01M745.7 390.7h.01M746.1 370.4h.01M746.5 447.6h.01M746.9 426.2h.01M747.3 391.6h.01M747.7 444.4h.01M748.2 390.5h.01M748.6 482.7h.01M749.0 468.0h.01M749.4 402.7h.01M749.8 356.8h.01M750.2 410.9h.01M750.6 425.1h.01M751.0 415.4h.01M751.4 405.1h.01M751.8 453.6h.01M752.3 377.9h.01M752.7 390.0h.01M753.1 446.2h.01M753.5 371.4h.01M753.9 411.9h.01M754.3 394.9h.01M754.7 429.3h.01M755.1 440.4h.01M755.5 451.3h.01M755.9 442.0h.01M756.4 367.5h.01M756.8 371.2h.01M757.2 445.9h.01M757.6 418.3h.01M758.0 450.6h.01M758.4 369.5h.01M758.8 462.5h.01M759.2 441.0h.01M759.6 462.4h.01M760.0 378.5h.01M760.5 354.3h.01M760.9 370.9h.01M761.3 359.3h.01M761.7 401.3h.01M762.1 402.4h.01M762.5 386.6h.01M762.9 418.2h.01M763.3 349.3h.01M763.7 418.6h.01M764.1 408.7h.01M764.6 386.2h.01M765.0 395.6h.01M765.4 434.3h.01M765.8 367.2h.01M766.2 390.7h.01M766.6 355.6h.01M767.0 396.1h.01M767.4 342.7h.01M767.8 383.9h.01M768.2 448.4h.01M768.7 350.0h.01M769.1 374.4h.01M769.5 390.0h.01M769.9 449.7h.01M770.3 426.8h.01M770.7 447.7h.01M771.1 337.0h.01M771.5 448.2h.01M771.9 401.1h.01M772.3 430.5h.01M772.7 334.6h.01M773.2 343.0h.01M773.6 348.5h.01M774.0 327.6h.01M774.4 350.3h.01M774.8 406.0h.01M775.2 407.4h.01M775.6 372.1h.01M776.0 349.2h.01M776.4 382.7h.01M776.8 386.4h.01M777.3 353.6h.01M777.7 357.2h.01M778.1 336.7h.01M778.5 354.8h.01M778.9 455.3h.01M779.3 340.0h.01M779.7 373.0h.01M780.1 462.4h.01M780.5 384.6h.01M780.9 440.1h.01M781.4 390.2h.01M781.8 380.1h.01M782.2 334.4h.01M782.6 349.9h.01M783.0 397.3h.01M783.4 360.2h.01M783.8 376.6h.01M784.2 373.4h.01M784.6 393.0h.01M785.0 369.1h.01M785.5 405.1h.01M785.9 392.3h.01M786.3 423.4h.01M786.7 443.9h.01M787.1 468.3h.01M787.5 420.1h.01M787.9 432.3h.01M788.3 457.2h.01M788.7 452.2h.01M789.1 472.4h.01M789.6 472.2h.01M790.0 423.0h.01M790.4 438.6h.01M790.8 378.3h.01M791.2 388.7h.01M791.6 433.1h.01M792.0 432.8h.01M792.4 461.4h.01M792.8 387.6h.01M793.2 392.2h.01M793.7 440.3h.01M794.1 398.7h.01M794.5 467.8h.01M794.9 442.3h.01M795.3 452.1h.01M795.7 459.5h.01M796.1 453.8h.01M796.5 459.9h.01M796.9 469.5h.01M797.3 406.0h.01M797.8 493.0h.01M798.2 396.1h.01M798.6 440.4h.01M799.0 465.9h.01M799.4 459.5h.01M799.8 443.0h.01M800.2 438.4h.01M800.6 498.2h.01M801.0 490.5h.01M801.4 402.0h.01M801.8 508.6h.01M802.3 493.2h.01M802.7 477.6h.01M803.1 434.6h.01M803.5 465.0h.01M803.9 510.1h.01M804.3 518.7h.01M804.7 458.0h.01M805.1 488.2h.01M805.5 544.4h.01M805.9 445.7h.01M806.4 536.1h.01M806.8 495.5h.01M807.2 478.5h.01M807.6 490.2h.01M808.0 503.9h.01M808.4 490.3h.01M808.8 523.4h.01M809.2 493.1h.01M809.6 451.7h.01M810.0 483.2h.01M810.5 482.1h.01M810.9 460.5h.01M811.3 452.7h.01M811.7 445.5h.01M812.1 515.2h.01M812.5 497.6h.01M812.9 521.5h.01M813.3 459.0h.01M813.7 566.4h.01M814.1 424.4h.01M814.6 472.3h.01M815.0 570.1h.01M815.4 464.2h.01M815.8 478.3h.01M816.2 486.8h.01M816.6 429.7h.01M817.0 433.4h.01M817.4 516.1h.01M817.8 476.5h.01M818.2 482.0h.01M818.7 508.3h.01M819.1 488.0h.01M819.5 418.9h.01M819.9 427.8h.01M820.3 527.9h.01M820.7 444.1h.01M821.1 491.1h.01M821.5 506.1h.01M821.9 426.8h.01M822.3 554.5h.01M822.8 427.1h.01M823.2 538.6h.01M823.6 462.3h.01M824.0 465.8h.01M824.4 488.5h.01M824.8 543.1h.01M825.2 449.8h.01M825.6 490.6h.01M826.0 541.0h.01M826.4 521.3h.01M826.9 501.5h.01M827.3 428.7h.01M827.7 443.1h.01M828.1 522.0h.01M828.5 472.1h.01M828.9 507.4h.01M829.3 455.3h.01M829.7 539.7h.01M830.1 490.3h.01M830.5 530.4h.01M830.9 471.3h.01M831.4 571.1h.01M831.8 591.7h.01M832.2 526.3h.01M832.6 531.8h.01M833.0 530.9h.01M833.4 596.8h.01M833.8 546.7h.01M834.2 459.0h.01M834.6 546.2h.01M835.0 594.6h.01M835.5 521.3h.01M835.9 533.4h.01M836.3 558.2h.01M836.7 567.4h.01M837.1 578.9h.01M837.5 576.8h.01M837.9 589.4h.01M838.3 555.6h.01M838.7 543.3h.01M839.1 593.2h.01M839.6 435.3h.01M840.0 472.3h.01M840.4 591.9h.01M840.8 532.8h.01M841.2 514.5h.01M841.6 505.9h.01M842.0 570.1h.01M842.4 557.9h.01M842.8 545.3h.01M843.2 566.6h.01M843.7 533.9h.01M844.1 480.9h.01M844.5 441.8h.01M844.9 552.7h.01M845.3 580.8h.01M845.7 488.1h.01M846.1 550.2h.01M846.5 503.7h.01M846.9 564.9h.01M847.3 542.6h.01M847.8 462.3h.01M848.2 427.9h.01M848.6 429.1h.01M849.0 490.1h.01M849.4 480.0h.01M849.8 546.8h.01M850.2 477.4h.01M850.6 427.4h.01M851.0 556.4h.01M851.4 544.0h.01M851.9 438.2h.01M852.3 484.4h.01M852.7 399.8h.01M853.1 434.2h.01M853.5 381.8h.01M853.9 450.2h.01M854.3 433.0h.01M854.7 442.4h.01M855.1 453.7h.01M855.5 506.9h.01M855.9 535.4h.01M856.4 427.2h.01M856.8 385.0h.01M857.2 500.6h.01M857.6 405.3h.01M858.0 463.5h.01M858.4 385.0h.01M858.8 477.0h.01M859.2 510.8h.01M859.6 428.0h.01M860.0 521.8h.01M860.5 424.7h.01M860.9 513.9h.01M861.3 552.6h.01M861.7 492.0h.01M862.1 427.2h.01M862.5 523.0h.01M862.9 559.1h.01M863.3 405.5h.01M863.7 544.9h.01M864.1 501.3h.01M864.6 488.8h.01M865.0 439.5h.01M865.4 433.7h.01M865.8 465.5h.01M866.2 508.3h.01M866.6 451.0h.01M867.0 497.0h.01M867.4 508.8h.01M867.8 481.3h.01M868.2 516.3h.01M868.7 530.3h.01M869.1 434.8h.01M869.5 431.6h.01M869.9 486.3h.01M870.3 479.1h.01M870.7 444.2h.01M871.1 453.6h.01M871.5 481.1h.01M871.9 494.7h.01M872.3 386.1h.01M872.8 532.0h.01M873.2 465.8h.01M873.6 396.0h.01M874.0 501.8h.01M874.4 414.3h.01M874.8 505.2h.01M875.2 451.8h.01M875.6 451.3h.01M876.0 462.1h.01M876.4 497.8h.01M876.9 479.9h.01M877.3 533.4h.01M877.7 491.0h.01M878.1 533.6h.01M878.5 497.8h.01M878.9 457.4h.01M879.3 448.6h.01M879.7 442.3h.01M880.1 475.6h.01M880.5 420.4h.01M881.0 454.3h.01M881.4 536.8h.01M881.8 458.8h.01M882.2 492.3h.01M882.6 556.7h.01M883.0 510.5h.01M883.4 547.5h.01M883.8 462.8h.01M884.2 475.7h.01M884.6 483.4h.01M885.0 487.1h.01M885.5 520.7h.01M885.9 532.1h.01M886.3 460.7h.01M886.7 448.5h.01M887.1 477.8h.01M887.5 564.2h.01M887.9 442.3h.01M888.3 437.9h.01M888.7 528.8h.01M889.1 461.3h.01M889.6 406.8h.01M890.0 421.3h.01M890.4 512.5h.01M890.8 421.5h.01M891.2 416.4h.01M891.6 336.2h.01M892.0 338.8h.01M892.4 352.9h.01M892.8 481.5h.01M893.2 421.5h.01M893.7 421.3h.01M894.1 368.0h.01M894.5 413.7h.01M894.9 379.9h.01M895.3 382.3h.01M895.7 381.9h.01M896.1 427.3h.01M896.5 376.0h.01M896.9 415.1h.01M897.3 419.0h.01M897.8 476.0h.01M898.2 453.2h.01M898.6 456.8h.01M899.0 401.2h.01M899.4 415.2h.01M899.8 442.3h.01M900.2 391.9h.01M900.6 374.0h.01M901.0 408.0h.01M901.4 346.3h.01M901.9 419.8h.01M902.3 352.3h.01M902.7 470.0h.01M903.1 416.8h.01M903.5 400.8h.01M903.9 406.6h.01M904.3 426.3h.01M904.7 412.7h.01M905.1 448.2h.01M905.5 361.1h.01M906.0 361.8h.01M906.4 333.3h.01M906.8 365.0h.01M907.2 366.6h.01M907.6 323.0h.01M908.0 325.6h.01M908.4 347.1h.01M908.8 369.9h.01M909.2 422.2h.01M909.6 387.3h.01M910.1 376.8h.01M910.5 445.8h.01M910.9 374.5h.01M911.3 344.4h.01M911.7 427.9h.01M912.1 378.3h.01M912.5 353.6h.01M912.9 386.9h.01M913.3 396.4h.01M913.7 386.7h.01M914.1 427.5h.01M914.6 440.1h.01M915.0 361.8h.01M915.4 443.0h.01M915.8 372.2h.01M916.2 426.0h.01M916.6 380.3h.01M917.0 378.7h.01M917.4 404.3h.01M917.8 378.0h.01M918.2 421.8h.01M918.7 439.4h.01M919.1 386.7h.01M919.5 442.2h.01M919.9 426.4h.01M920.3 445.1h.01M920.7 404.2h.01M921.1 417.4h.01M921.5 420.6h.01M921.9 414.5h.01M922.3 407.1h.01M922.8 389.0h.01M923.2 395.2h.01M923.6 373.8h.01M924.0 370.3h.01M924.4 396.3h.01M924.8 374.0h.01M925.2 430.2h.01M925.6 434.1h.01M926.0 412.0h.01M926.4 394.3h.01M926.9 403.4h.01M927.3 469.7h.01M927.7 475.0h.01M928.1 379.9h.01M928.5 428.7h.01M928.9 393.5h.01M929.3 421.8h.01M929.7 410.2h.01M930.1 464.1h.01M930.5 377.4h.01M931.0 419.7h.01M931.4 480.1h.01M931.8 461.2h.01M932.2 467.6h.01M932.6 440.4h.01M933.0 427.0h.01M933.4 469.3h.01M933.8 454.3h.01M934.2 420.4h.01M934.6 440.9h.01M935.1 432.1h.01M935.5 485.0h.01M935.9 482.2h.01M936.3 439.1h.01M936.7 403.5h.01M937.1 485.3h.01M937.5 476.4h.01M937.9 472.9h.01M938.3 438.5h.01M938.7 415.7h.01M939.2 408.6h.01M939.6 490.5h.01M940.0 403.4h.01M940.4 455.5h.01M940.8 446.2h.01M941.2 410.4h.01M941.6 432.8h.01M942.0 401.3h.01M942.4 421.4h.01M942.8 484.4h.01M943.2 431.0h.01M943.7 421.4h.01M944.1 459.1h.01M944.5 409.0h.01M944.9 458.4h.01M945.3 429.5h.01M945.7 435.0h.01M946.1 481.0h.01M946.5 426.1h.01M946.9 411.1h.01M947.3 456.8h.01M947.8 454.2h.01M948.2 472.9h.01M948.6 449.8h.01M949.0 439.7h.01M949.4 481.3h.01M949.8 433.2h.01M950.2 387.9h.01M950.6 459.6h.01M951.0 433.9h.01M951.4 393.3h.01M951.9 481.6h.01M952.3 470.1h.01M952.7 468.5h.01M953.1 389.5h.01M953.5 396.3h.01M953.9 481.3h.01M954.3 474.7h.01M954.7 436.8h.01M955.1 417.7h.01M955.5 431.7h.01M956.0 456.7h.01M956.4 496.0h.01M956.8 437.5h.01M957.2 474.4h.01M957.6 419.0h.01M958.0 477.3h.01M958.4 430.2h.01M958.8 444.7h.01M959.2 435.6h.01M959.6 477.9h.01M960.1 415.4h.01M960.5 477.1h.01M960.9 422.0h.01M961.3 420.7h.01M961.7 470.9h.01M962.1 512.9h.01M962.5 421.2h.01M962.9 507.4h.01M963.3 515.2h.01M963.7 496.3h.01M964.2 434.9h.01M964.6 509.5h.01M965.0 494.6h.01M965.4 489.2h.01M965.8 455.7h.01M966.2 479.7h.01M966.6 517.8h.01M967.0 497.5h.01M967.4 497.8h.01M967.8 415.1h.01M968.3 484.3h.01M968.7 454.6h.01M969.1 496.3h.01M969.5 462.2h.01M969.9 481.6h.01M970.3 400.3h.01M970.7 424.6h.01M971.1 460.6h.01M971.5 490.9h.01M971.9 366.2h.01M972.3 479.6h.01M972.8 452.3h.01M973.2 533.4h.01M973.6 485.7h.01M974.0 405.8h.01M974.4 520.7h.01M974.8 470.5h.01M975.2 500.7h.01M975.6 460.0h.01M976.0 519.8h.01M976.4 458.1h.01M976.9 550.9h.01M977.3 448.7h.01M977.7 545.0h.01M978.1 530.4h.01M978.5 522.2h.01M978.9 473.8h.01M979.3 555.8h.01M979.7 550.0h.01M980.1 524.2h.01M980.5 444.3h.01M981.0 533.1h.01M981.4 544.5h.01M981.8 522.8h.01M982.2 541.1h.01M982.6 511.4h.01M983.0 502.7h.01M983.4 518.0h.01M983.8 550.0h.01M984.2 514.0h.01M984.6 473.5h.01M985.1 585.2h.01M985.5 496.6h.01M985.9 509.6h.01M986.3 491.6h.01M986.7 558.6h.01M987.1 519.5h.01M987.5 593.9h.01M987.9 555.1h.01M988.3 550.0h.01M988.7 489.4h.01M989.2 577.4h.01M989.6 606.4h.01M990.0 522.6h.01M990.4 548.1h.01M990.8 557.4h.01M991.2 550.8h.01M991.6 560.9h.01M992.0 504.8h.01M992.4 531.7h.01M992.8 581.1h.01M993.3 517.9h.01M993.7 532.6h.01M994.1 499.6h.01M994.5 568.9h.01M994.9 497.8h.01M995.3 520.5h.01M995.7 601.5h.01M996.1 506.2h.01M996.5 595.7h.01M996.9 559.6h.01M997.4 561.6h.01M997.8 542.5h.01M998.2 542.1h.01M998.6 491.9h.01M999.0 562.4h.01M999.4 493.3h.01M999.8 475.5h.01M1000.2 464.9h.01M1000.6 552.2h.01M1001.0 469.0h.01M1001.4 473.3h.01M1001.9 564.3h.01M1002.3 530.2h.01M1002.7 539.9h.01M1003.1 511.8h.01M1003.5 477.4h.01M1003.9 497.1h.01M1004.3 579.6h.01M1004.7 536.4h.01M1005.1 532.8h.01M1005.5 520.6h.01M1006.0 589.6h.01M1006.4 506.0h.01M1006.8 550.3h.01M1007.2 506.4h.01M1007.6 509.7h.01M1008.0 494.8h.01M1008.4 553.8h.01M1008.8 531.3h.01M1009.2 481.1h.01M1009.6 498.5h.01M1010.1 516.7h.01M1010.5 516.1h.01M1010.9 559.0h.01M1011.3 489.5h.01M1011.7 534.4h.01M1012.1 494.0h.01M1012.5 500.6h.01M1012.9 496.1h.01M1013.3 476.2h.01M1013.7 521.1h.01M1014.2 460.4h.01M1014.6 460.0h.01M1015.0 499.3h.01M1015.4 461.0h.01M1015.8 484.0h.01M1016.2 508.7h.01M1016.6 556.2h.01M1017.0 541.2h.01M1017.4 481.4h.01M1017.8 497.0h.01M1018.3 473.9h.01M1018.7 543.5h.01M1019.1 503.6h.01M1019.5 547.0h.01M1019.9 517.5h.01M1020.3 529.7h.01M1020.7 532.8h.01M1021.1 521.8h.01M1021.5 472.4h.01M1021.9 530.6h.01M1022.4 530.1h.01M1022.8 461.5h.01M1023.2 486.4h.01M1023.6 493.2h.01M1024.0 529.9h.01M1024.4 537.7h.01M1024.8 494.0h.01M1025.2 499.8h.01M1025.6 503.3h.01M1026.0 518.9h.01M1026.4 493.2h.01M1026.9 498.6h.01M1027.3 502.5h.01M1027.7 458.7h.01M1028.1 496.0h.01M1028.5 510.4h.01M1028.9 495.1h.01M1029.3 518.8h.01M1029.7 508.4h.01M1030.1 467.4h.01M1030.5 513.5h.01M1031.0 469.7h.01M1031.4 466.3h.01M1031.8 500.0h.01M1032.2 487.3h.01M1032.6 457.2h.01M1033.0 497.3h.01M1033.4 508.9h.01M1033.8 488.6h.01M1034.2 469.0h.01M1034.6 491.0h.01M1035.1 477.0h.01M1035.5 487.0h.01M1035.9 453.8h.01M1036.3 473.9h.01M1036.7 458.6h.01M1037.1 365.2h.01M1037.5 456.8h.01M1037.9 472.5h.01M1038.3 364.0h.01M1038.7 391.6h.01M1039.2 396.4h.01M1039.6 375.1h.01M1040.0 404.9h.01M1040.4 407.2h.01M1040.8 353.5h.01M1041.2 379.4h.01M1041.6 413.2h.01M1042.0 397.8h.01M1042.4 371.9h.01M1042.8 398.4h.01M1043.3 341.2h.01M1043.7 404.5h.01M1044.1 336.6h.01M1044.5 369.1h.01M1044.9 372.7h.01M1045.3 370.1h.01M1045.7 429.8h.01M1046.1 315.3h.01M1046.5 423.0h.01M1046.9 337.8h.01M1047.4 342.1h.01M1047.8 417.9h.01M1048.2 396.2h.01M1048.6 323.6h.01M1049.0 357.7h.01M1049.4 331.1h.01M1049.8 417.9h.01M1050.2 328.0h.01M1050.6 367.6h.01M1051.0 373.9h.01M1051.5 354.4h.01M1051.9 354.3h.01M1052.3 320.8h.01M1052.7 365.8h.01M1053.1 335.3h.01M1053.5 397.2h.01M1053.9 400.0h.01M1054.3 335.5h.01M1054.7 362.2h.01M1055.1 337.8h.01M1055.5 418.4h.01M1056.0 358.0h.01M1056.4 317.9h.01M1056.8 389.2h.01M1057.2 350.6h.01M1057.6 359.6h.01M1058.0 383.2h.01M1058.4 359.7h.01M1058.8 336.6h.01M1059.2 370.7h.01M1059.6 397.1h.01M1060.1 335.5h.01M1060.5 384.4h.01M1060.9 337.7h.01M1061.3 345.7h.01M1061.7 333.9h.01M1062.1 310.7h.01M1062.5 351.9h.01M1062.9 380.6h.01M1063.3 400.4h.01M1063.7 392.7h.01M1064.2 340.7h.01M1064.6 355.2h.01M1065.0 432.4h.01M1065.4 305.1h.01M1065.8 361.7h.01M1066.2 356.3h.01M1066.6 402.2h.01M1067.0 385.3h.01M1067.4 381.8h.01M1067.8 325.0h.01M1068.3 350.6h.01M1068.7 418.5h.01M1069.1 413.3h.01M1069.5 305.2h.01M1069.9 399.7h.01M1070.3 315.7h.01M1070.7 327.6h.01M1071.1 300.8h.01M1071.5 315.6h.01M1071.9 311.4h.01M1072.4 406.9h.01M1072.8 346.8h.01M1073.2 303.2h.01M1073.6 371.3h.01M1074.0 322.5h.01M1074.4 340.2h.01M1074.8 437.5h.01M1075.2 394.4h.01M1075.6 342.4h.01M1076.0 343.1h.01M1076.5 381.9h.01M1076.9 388.0h.01M1077.3 366.1h.01M1077.7 324.3h.01M1078.1 345.9h.01M1078.5 323.4h.01M1078.9 336.0h.01M1079.3 321.7h.01M1079.7 354.3h.01M1080.1 349.3h.01M1080.6 341.4h.01M1081.0 364.0h.01M1081.4 382.2h.01M1081.8 377.2h.01M1082.2 430.1h.01M1082.6 416.3h.01M1083.0 372.0h.01M1083.4 354.6h.01M1083.8 367.4h.01M1084.2 391.7h.01M1084.6 343.7h.01M1085.1 348.8h.01M1085.5 434.3h.01M1085.9 404.7h.01M1086.3 379.5h.01M1086.7 382.9h.01M1087.1 327.0h.01M1087.5 327.9h.01M1087.9 378.9h.01M1088.3 352.8h.01M1088.7 416.5h.01M1089.2 342.9h.01M1089.6 397.2h.01M1090.0 414.5h.01M1090.4 359.3h.01M1090.8 415.3h.01M1091.2 382.8h.01M1091.6 361.3h.01M1092.0 417.6h.01M1092.4 388.5h.01M1092.8 425.5h.01M1093.3 431.4h.01M1093.7 368.3h.01M1094.1 597.3h.01M1094.5 530.2h.01M1094.9 494.7h.01M1095.3 531.4h.01M1095.7 376.1h.01M1096.1 476.5h.01M1096.5 596.1h.01M1096.9 518.7h.01M1097.4 511.7h.01M1097.8 503.8h.01M1098.2 550.8h.01M1098.6 553.2h.01M1099.0 567.2h.01M1099.4 591.4h.01M1099.8 589.6h.01M1100.2 568.6h.01M1100.6 571.1h.01M1101.0 584.0h.01M1101.5 513.0h.01M1101.9 608.0h.01M1102.3 563.5h.01M1102.7 555.9h.01M1103.1 602.8h.01M1103.5 509.8h.01M1103.9 526.8h.01M1104.3 577.9h.01M1104.7 583.9h.01M1105.1 545.6h.01M1105.6 506.5h.01M1106.0 586.4h.01M1106.4 605.3h.01M1106.8 566.6h.01M1107.2 593.3h.01M1107.6 622.9h.01M1108.0 617.2h.01M1108.4 611.7h.01M1108.8 602.7h.01M1109.2 527.0h.01M1109.7 525.7h.01M1110.1 608.4h.01M1110.5 564.1h.01M1110.9 539.0h.01M1111.3 527.4h.01M1111.7 506.2h.01M1112.1 578.8h.01M1112.5 608.8h.01M1112.9 499.7h.01M1113.3 545.3h.01M1113.7 553.2h.01M1114.2 519.7h.01M1114.6 590.0h.01M1115.0 505.3h.01M1115.4 487.2h.01M1115.8 611.6h.01M1116.2 546.3h.01M1116.6 441.9h.01M1117.0 501.1h.01M1117.4 554.9h.01M1117.8 537.8h.01M1118.3 448.8h.01M1118.7 612.9h.01M1119.1 479.1h.01M1119.5 592.0h.01M1119.9 463.7h.01M1120.3 480.3h.01M1120.7 506.7h.01M1121.1 576.1h.01M1121.5 414.7h.01M1121.9 608.9h.01M1122.4 462.7h.01M1122.8 464.1h.01M1123.2 532.5h.01M1123.6 450.4h.01M1124.0 498.1h.01M1124.4 416.5h.01M1124.8 479.6h.01M1125.2 455.6h.01M1125.6 529.7h.01M1126.0 447.9h.01M1126.5 575.7h.01M1126.9 498.5h.01M1127.3 546.5h.01M1127.7 445.6h.01M1128.1 426.3h.01M1128.5 539.9h.01M1128.9 490.2h.01M1129.3 538.9h.01M1129.7 507.2h.01M1130.1 575.4h.01M1130.6 525.9h.01M1131.0 494.0h.01M1131.4 558.9h.01M1131.8 486.9h.01M1132.2 516.0h.01M1132.6 575.3h.01M1133.0 513.6h.01M1133.4 403.3h.01M1133.8 486.8h.01M1134.2 557.0h.01M1134.7 434.5h.01M1135.1 551.9h.01M1135.5 466.5h.01M1135.9 436.6h.01M1136.3 479.0h.01M1136.7 543.8h.01M1137.1 530.5h.01M1137.5 544.1h.01M1137.9 419.9h.01M1138.3 560.7h.01M1138.8 520.5h.01M1139.2 563.3h.01M1139.6 609.4h.01M1140.0 608.3h.01M1140.4 612.3h.01M1140.8 533.5h.01M1141.2 538.6h.01M1141.6 513.5h.01M1142.0 612.8h.01M1142.4 578.2h.01M1142.8 553.8h.01M1143.3 558.3h.01M1143.7 475.1h.01M1144.1 539.5h.01M1144.5 583.2h.01M1144.9 550.2h.01M1145.3 574.6h.01M1145.7 523.9h.01M1146.1 458.2h.01M1146.5 517.5h.01M1146.9 487.0h.01M1147.4 549.5h.01M1147.8 551.7h.01M1148.2 461.9h.01M1148.6 551.0h.01M1149.0 555.0h.01M1149.4 477.1h.01M1149.8 531.2h.01M1150.2 575.2h.01M1150.6 585.7h.01M1151.0 497.2h.01M1151.5 534.2h.01M1151.9 490.7h.01M1152.3 538.0h.01M1152.7 572.7h.01M1153.1 492.7h.01M1153.5 540.2h.01M1153.9 505.1h.01M1154.3 575.4h.01M1154.7 469.8h.01M1155.1 584.4h.01M1155.6 480.9h.01M1156.0 467.0h.01M1156.4 472.0h.01M1156.8 525.1h.01M1157.2 524.2h.01M1157.6 560.1h.01M1158.0 535.1h.01M1158.4 561.9h.01M1158.8 549.1h.01M1159.2 539.5h.01M1159.7 505.7h.01M1160.1 509.0h.01M1160.5 578.4h.01M1160.9 551.2h.01M1161.3 521.8h.01M1161.7 573.5h.01M1162.1 566.3h.01M1162.5 490.1h.01M1162.9 548.9h.01M1163.3 421.7h.01M1163.8 470.3h.01M1164.2 524.1h.01M1164.6 455.9h.01M1165.0 459.4h.01M1165.4 516.0h.01M1165.8 444.3h.01M1166.2 494.2h.01M1166.6 459.9h.01M1167.0 482.5h.01M1167.4 516.0h.01M1167.8 492.6h.01M1168.3 458.7h.01M1168.7 522.6h.01M1169.1 457.0h.01M1169.5 510.3h.01M1169.9 429.4h.01M1170.3 548.3h.01M1170.7 451.4h.01M1171.1 481.1h.01M1171.5 498.3h.01M1171.9 482.9h.01M1172.4 363.5h.01M1172.8 373.5h.01M1173.2 445.4h.01M1173.6 464.8h.01M1174.0 452.6h.01M1174.4 543.1h.01M1174.8 580.9h.01M1175.2 566.9h.01M1175.6 508.0h.01M1176.0 405.1h.01M1176.5 425.7h.01M1176.9 560.6h.01M1177.3 487.8h.01M1177.7 490.5h.01M1178.1 507.4h.01M1178.5 455.7h.01M1178.9 516.8h.01M1179.3 553.9h.01M1179.7 533.7h.01M1180.1 585.4h.01M1180.6 574.8h.01M1181.0 512.1h.01M1181.4 565.6h.01M1181.8 570.7h.01M1182.2 537.2h.01M1182.6 484.9h.01M1183.0 584.9h.01M1183.4 486.1h.01M1183.8 577.1h.01M1184.2 452.3h.01M1184.7 463.7h.01M1185.1 491.9h.01M1185.5 533.4h.01M1185.9 376.5h.01M1186.3 399.5h.01M1186.7 510.7h.01M1187.1 569.6h.01M1187.5 392.1h.01M1187.9 482.0h.01M1188.3 377.9h.01M1188.8 487.0h.01M1189.2 474.8h.01M1189.6 396.9h.01M1190.0 492.2h.01M1190.4 404.0h.01M1190.8 404.8h.01M1191.2 480.4h.01M1191.6 552.7h.01M1192.0 492.2h.01M1192.4 404.9h.01M1192.9 461.9h.01M1193.3 435.4h.01M1193.7 425.9h.01M1194.1 551.2h.01M1194.5 380.0h.01M1194.9 383.7h.01M1195.3 407.7h.01M1195.7 500.8h.01M1196.1 467.8h.01M1196.5 520.3h.01M1196.9 427.8h.01M1197.4 463.8h.01M1197.8 472.3h.01M1198.2 390.7h.01M1198.6 378.3h.01M1199.0 396.9h.01M1199.4 359.2h.01M1199.8 377.9h.01M1200.2 429.6h.01M1200.6 389.6h.01M1201.0 499.9h.01M1201.5 423.4h.01M1201.9 463.5h.01M1202.3 418.2h.01M1202.7 455.4h.01M1203.1 487.7h.01M1203.5 368.2h.01M1203.9 391.6h.01M1204.3 424.4h.01M1204.7 484.7h.01M1205.1 407.7h.01M1205.6 419.9h.01M1206.0 403.3h.01M1206.4 342.4h.01M1206.8 445.1h.01M1207.2 496.9h.01M1207.6 460.3h.01M1208.0 437.2h.01M1208.4 487.1h.01M1208.8 481.0h.01M1209.2 436.1h.01M1209.7 373.1h.01M1210.1 390.2h.01M1210.5 473.1h.01M1210.9 404.5h.01M1211.3 419.3h.01M1211.7 486.2h.01M1212.1 364.3h.01M1212.5 492.2h.01M1212.9 440.0h.01M1213.3 434.9h.01M1213.8 515.8h.01M1214.2 416.0h.01M1214.6 378.4h.01M1215.0 470.1h.01M1215.4 506.2h.01M1215.8 495.0h.01M1216.2 482.7h.01M1216.6 504.2h.01M1217.0 486.6h.01M1217.4 513.9h.01M1217.9 483.5h.01M1218.3 464.6h.01M1218.7 352.2h.01M1219.1 472.2h.01M1219.5 387.6h.01M1219.9 492.3h.01M1220.3 492.8h.01M1220.7 389.9h.01M1221.1 476.5h.01M1221.5 445.4h.01M1222.0 417.7h.01M1222.4 394.2h.01M1222.8 393.8h.01M1223.2 464.5h.01M1223.6 356.9h.01M1224.0 430.3h.01M1224.4 399.1h.01M1224.8 441.5h.01M1225.2 452.7h.01M1225.6 473.8h.01M1226.0 448.2h.01M1226.5 487.4h.01M1226.9 422.1h.01M1227.3 461.3h.01M1227.7 433.0h.01M1228.1 451.1h.01M1228.5 436.4h.01M1228.9 470.4h.01M1229.3 415.0h.01M1229.7 429.5h.01M1230.1 504.5h.01M1230.6 455.4h.01M1231.0 401.0h.01M1231.4 433.0h.01M1231.8 471.1h.01M1232.2 489.1h.01M1232.6 484.4h.01M1233.0 377.1h.01M1233.4 420.8h.01M1233.8 487.1h.01M1234.2 368.7h.01M1234.7 425.8h.01M1235.1 461.7h.01M1235.5 405.1h.01M1235.9 477.4h.01M1236.3 471.0h.01M1236.7 391.8h.01M1237.1 548.9h.01M1237.5 495.0h.01M1237.9 514.4h.01M1238.3 440.6h.01M1238.8 549.6h.01M1239.2 468.4h.01M1239.6 515.4h.01M1240.0 528.1h.01M1240.4 512.9h.01M1240.8 436.7h.01M1241.2 382.7h.01M1241.6 477.6h.01M1242.0 510.6h.01M1242.4 489.8h.01M1242.9 451.4h.01M1243.3 461.0h.01M1243.7 441.5h.01M1244.1 492.8h.01M1244.5 458.6h.01M1244.9 470.0h.01M1245.3 509.9h.01M1245.7 478.7h.01M1246.1 403.5h.01M1246.5 439.2h.01M1247.0 527.6h.01M1247.4 441.9h.01M1247.8 493.9h.01M1248.2 430.7h.01M1248.6 419.2h.01M1249.0 489.2h.01M1249.4 547.2h.01M1249.8 455.0h.01M1250.2 494.8h.01M1250.6 488.3h.01M1251.1 508.4h.01M1251.5 432.9h.01M1251.9 557.7h.01M1252.3 452.3h.01M1252.7 501.1h.01M1253.1 529.5h.01M1253.5 421.7h.01M1253.9 530.7h.01M1254.3 470.9h.01M1254.7 479.3h.01M1255.1 534.1h.01M1255.6 409.8h.01M1256.0 511.8h.01M1256.4 439.8h.01M1256.8 517.4h.01M1257.2 542.0h.01M1257.6 554.3h.01M1258.0 466.8h.01M1258.4 452.4h.01M1258.8 402.5h.01M1259.2 500.2h.01M1259.7 589.4h.01M1260.1 435.1h.01M1260.5 606.8h.01M1260.9 562.4h.01M1261.3 595.2h.01M1261.7 549.2h.01M1262.1 524.6h.01M1262.5 593.9h.01M1262.9 488.8h.01M1263.3 412.3h.01M1263.8 517.0h.01M1264.2 415.5h.01M1264.6 460.2h.01M1265.0 509.8h.01M1265.4 470.5h.01M1265.8 604.5h.01M1266.2 531.7h.01M1266.6 351.3h.01M1267.0 459.6h.01M1267.4 537.5h.01M1267.9 390.3h.01M1268.3 552.6h.01M1268.7 461.8h.01M1269.1 620.9h.01M1269.5 533.9h.01M1269.9 546.5h.01M1270.3 378.6h.01M1270.7 395.2h.01M1271.1 564.8h.01M1271.5 516.1h.01M1272.0 485.7h.01M1272.4 435.2h.01M1272.8 533.7h.01M1273.2 529.8h.01M1273.6 497.9h.01M1274.0 495.2h.01M1274.4 508.9h.01M1274.8 481.5h.01M1275.2 580.0h.01M1275.6 614.0h.01M1276.1 607.2h.01M1276.5 576.6h.01M1276.9 470.0h.01M1277.3 486.8h.01M1277.7 584.1h.01M1278.1 416.3h.01M1278.5 344.6h.01M1278.9 527.6h.01M1279.3 556.9h.01M1279.7 616.8h.01M1280.2 555.3h.01M1280.6 518.6h.01M1281.0 507.3h.01M1281.4 499.2h.01M1281.8 515.4h.01M1282.2 584.4h.01M1282.6 545.9h.01M1283.0 544.5h.01M1283.4 502.1h.01M1283.8 499.2h.01M1284.2 507.3h.01M1284.7 449.3h.01M1285.1 577.8h.01M1285.5 560.5h.01M1285.9 599.9h.01M1286.3 530.9h.01M1286.7 536.1h.01M1287.1 541.0h.01M1287.5 566.9h.01M1287.9 555.1h.01M1288.3 573.9h.01M1288.8 585.0h.01M1289.2 469.2h.01M1289.6 587.8h.01M1290.0 556.6h.01M1290.4 550.0h.01M1290.8 527.1h.01M1291.2 562.0h.01M1291.6 566.3h.01M1292.0 471.2h.01M1292.4 526.6h.01M1292.9 495.6h.01M1293.3 544.9h.01M1293.7 588.4h.01M1294.1 532.6h.01M1294.5 575.0h.01M1294.9 492.1h.01M1295.3 502.9h.01M1295.7 550.4h.01M1296.1 524.5h.01M1296.5 572.4h.01M1297.0 458.8h.01M1297.4 475.7h.01M1297.8 468.6h.01M1298.2 463.6h.01M1298.6 436.4h.01M1299.0 463.2h.01M1299.4 430.8h.01M1299.8 484.2h.01M1300.2 517.8h.01M1300.6 496.1h.01M1301.1 537.9h.01M1301.5 576.6h.01M1301.9 529.2h.01M1302.3 446.1h.01M1302.7 575.2h.01M1303.1 471.2h.01M1303.5 513.2h.01M1303.9 547.5h.01M1304.3 508.5h.01M1304.7 491.5h.01M1305.2 567.7h.01M1305.6 484.3h.01M1306.0 461.2h.01M1306.4 548.8h.01M1306.8 533.9h.01M1307.2 527.4h.01M1307.6 481.9h.01M1308.0 484.8h.01M1308.4 476.8h.01M1308.8 478.5h.01M1309.2 521.5h.01M1309.7 405.0h.01M1310.1 500.5h.01M1310.5 424.9h.01M1310.9 479.3h.01M1311.3 424.0h.01M1311.7 426.0h.01M1312.1 431.6h.01M1312.5 381.9h.01M1312.9 479.2h.01M1313.3 494.4h.01M1313.8 370.0h.01M1314.2 449.6h.01M1314.6 407.5h.01M1315.0 436.3h.01M1315.4 364.0h.01M1315.8 364.5h.01M1316.2 407.3h.01M1316.6 372.4h.01M1317.0 391.3h.01M1317.4 435.2h.01M1317.9 399.1h.01M1318.3 474.1h.01M1318.7 462.9h.01M1319.1 415.4h.01M1319.5 445.2h.01M1319.9 482.4h.01M1320.3 474.5h.01M1320.7 385.5h.01M1321.1 467.4h.01M1321.5 362.3h.01M1322.0 417.5h.01M1322.4 411.0h.01M1322.8 449.5h.01M1323.2 426.7h.01M1323.6 403.4h.01M1324.0 379.0h.01M1324.4 357.7h.01M1324.8 498.8h.01M1325.2 471.9h.01M1325.6 403.7h.01M1326.1 353.7h.01M1326.5 376.2h.01M1326.9 470.0h.01M1327.3 492.1h.01M1327.7 463.5h.01M1328.1 406.7h.01M1328.5 379.9h.01M1328.9 398.0h.01M1329.3 361.0h.01M1329.7 457.0h.01M1330.2 341.7h.01M1330.6 376.5h.01M1331.0 397.3h.01M1331.4 469.1h.01M1331.8 378.5h.01M1332.2 423.4h.01M1332.6 482.8h.01M1333.0 400.5h.01M1333.4 445.9h.01M1333.8 379.1h.01M1334.3 465.5h.01M1334.7 419.5h.01M1335.1 472.6h.01M1335.5 447.0h.01M1335.9 380.9h.01M1336.3 428.7h.01M1336.7 469.1h.01M1337.1 399.3h.01M1337.5 377.1h.01M1337.9 413.6h.01M1338.3 451.8h.01M1338.8 453.8h.01M1339.2 436.6h.01M1339.6 377.8h.01M1340.0 449.1h.01M1340.4 459.3h.01M1340.8 426.0h.01M1341.2 369.6h.01M1341.6 390.0h.01M1342.0 403.2h.01M1342.4 337.3h.01M1342.9 389.9h.01M1343.3 413.2h.01M1343.7 418.8h.01M1344.1 363.3h.01M1344.5 435.5h.01M1344.9 370.8h.01M1345.3 424.3h.01M1345.7 440.9h.01M1346.1 432.5h.01M1346.5 392.6h.01M1347.0 350.0h.01M1347.4 406.9h.01M1347.8 420.0h.01M1348.2 409.1h.01M1348.6 401.2h.01M1349.0 355.8h.01M1349.4 435.6h.01M1349.8 420.7h.01M1350.2 414.5h.01M1350.6 410.8h.01M1351.1 381.2h.01M1351.5 410.7h.01M1351.9 447.7h.01M1352.3 431.8h.01M1352.7 382.6h.01M1353.1 383.4h.01M1353.5 377.6h.01M1353.9 384.4h.01M1354.3 423.8h.01M1354.7 402.4h.01M1355.2 435.3h.01M1355.6 386.7h.01M1356.0 359.6h.01M1356.4 376.6h.01M1356.8 391.8h.01M1357.2 416.0h.01M1357.6 401.0h.01M1358.0 370.5h.01M1358.4 362.0h.01M1358.8 387.5h.01M1359.3 398.3h.01M1359.7 390.9h.01M1360.1 356.9h.01M1360.5 354.8h.01M1360.9 403.8h.01M1361.3 391.7h.01M1361.7 328.2h.01M1362.1 430.7h.01M1362.5 402.2h.01M1362.9 428.1h.01M1363.4 414.1h.01M1363.8 419.6h.01M1364.2 347.8h.01M1364.6 348.0h.01M1365.0 417.5h.01M1365.4 335.7h.01M1365.8 368.9h.01M1366.2 351.4h.01M1366.6 401.7h.01M1367.0 379.4h.01M1367.4 332.8h.01M1367.9 347.9h.01M1368.3 417.7h.01M1368.7 345.1h.01M1369.1 455.1h.01M1369.5 378.1h.01M1369.9 369.5h.01M1370.3 437.1h.01M1370.7 364.9h.01M1371.1 355.2h.01M1371.5 333.6h.01M1372.0 350.0h.01M1372.4 395.7h.01M1372.8 366.2h.01M1373.2 391.2h.01M1373.6 370.4h.01M1374.0 327.8h.01M1374.4 361.2h.01M1374.8 328.5h.01M1375.2 333.7h.01M1375.6 396.0h.01M1376.1 410.4h.01M1376.5 373.6h.01M1376.9 407.0h.01M1377.3 364.7h.01M1377.7 318.1h.01M1378.1 379.8h.01M1378.5 333.6h.01M1378.9 399.2h.01M1379.3 409.9h.01M1379.7 433.3h.01M1380.2 439.5h.01M1380.6 404.2h.01M1381.0 373.8h.01M1381.4 364.4h.01M1381.8 379.5h.01M1382.2 383.0h.01M1382.6 367.7h.01M1383.0 383.4h.01M1383.4 439.9h.01M1383.8 375.1h.01M1384.3 454.7h.01M1384.7 428.3h.01M1385.1 355.7h.01M1385.5 359.6h.01M1385.9 469.6h.01M1386.3 423.7h.01M1386.7 507.2h.01M1387.1 407.0h.01M1387.5 401.2h.01M1387.9 504.0h.01M1388.4 434.8h.01M1388.8 377.1h.01M1389.2 437.6h.01M1389.6 444.1h.01M1390.0 438.9h.01M1390.4 447.7h.01M1390.8 399.5h.01M1391.2 465.7h.01M1391.6 397.0h.01M1392.0 483.5h.01M1392.5 473.9h.01M1392.9 426.6h.01M1393.3 429.2h.01M1393.7 517.1h.01M1394.1 380.9h.01M1394.5 408.0h.01M1394.9 426.2h.01M1395.3 379.7h.01M1395.7 442.2h.01M1396.1 452.9h.01M1396.5 461.0h.01M1397.0 470.4h.01M1397.4 425.8h.01M1397.8 466.1h.01M1398.2 430.9h.01M1398.6 474.9h.01M1399.0 439.3h.01M1399.4 502.0h.01M1399.8 393.8h.01M1400.2 470.2h.01M1400.6 439.8h.01M1401.1 421.2h.01M1401.5 458.5h.01M1401.9 467.1h.01M1402.3 443.9h.01M1402.7 448.9h.01M1403.1 413.8h.01M1403.5 437.3h.01M1403.9 472.0h.01M1404.3 454.7h.01M1404.7 436.6h.01M1405.2 461.4h.01M1405.6 422.7h.01M1406.0 413.3h.01M1406.4 474.6h.01M1406.8 446.9h.01M1407.2 479.9h.01M1407.6 417.4h.01M1408.0 480.9h.01M1408.4 461.0h.01M1408.8 394.1h.01M1409.3 387.4h.01M1409.7 415.0h.01M1410.1 408.0h.01M1410.5 415.3h.01M1410.9 425.8h.01M1411.3 393.7h.01M1411.7 445.7h.01M1412.1 413.4h.01M1412.5 411.7h.01M1412.9 453.7h.01M1413.4 433.6h.01M1413.8 428.8h.01M1414.2 475.5h.01M1414.6 399.7h.01M1415.0 436.9h.01M1415.4 395.9h.01M1415.8 446.5h.01M1416.2 410.3h.01M1416.6 425.5h.01M1417.0 398.2h.01M1417.5 425.4h.01M1417.9 401.5h.01M1418.3 440.3h.01M1418.7 396.1h.01M1419.1 404.0h.01M1419.5 442.0h.01M1419.9 404.8h.01M1420.3 419.5h.01M1420.7 449.4h.01M1421.1 432.6h.01M1421.6 475.5h.01M1422.0 431.3h.01M1422.4 386.9h.01M1422.8 436.8h.01M1423.2 461.6h.01M1423.6 386.4h.01M1424.0 472.6h.01M1424.4 416.7h.01M1424.8 387.7h.01M1425.2 439.5h.01M1425.6 385.7h.01M1426.1 411.4h.01M1426.5 453.1h.01M1426.9 463.3h.01M1427.3 459.7h.01M1427.7 461.7h.01M1428.1 451.0h.01M1428.5 384.6h.01M1428.9 423.4h.01M1429.3 444.3h.01M1429.7 392.9h.01M1430.2 411.3h.01M1430.6 428.0h.01M1431.0 449.6h.01M1431.4 410.9h.01M1431.8 461.0h.01M1432.2 451.9h.01M1432.6 471.1h.01M1433.0 470.2h.01M1433.4 448.0h.01M1433.8 429.3h.01M1434.3 457.3h.01M1434.7 438.6h.01M1435.1 431.8h.01M1435.5 457.6h.01M1435.9 470.4h.01M1436.3 432.4h.01M1436.7 479.9h.01M1437.1 473.7h.01M1437.5 454.4h.01M1437.9 463.2h.01M1438.4 452.4h.01M1438.8 456.5h.01M1439.2 431.2h.01M1439.6 465.6h.01M1440.0 436.1h.01M1440.4 452.8h.01M1440.8 447.2h.01M1441.2 474.6h.01M1441.6 483.7h.01M1442.0 433.5h.01M1442.5 476.2h.01M1442.9 442.0h.01M1443.3 436.7h.01M1443.7 463.2h.01M1444.1 473.0h.01M1444.5 484.2h.01M1444.9 461.6h.01M1445.3 442.2h.01M1445.7 470.3h.01M1446.1 450.8h.01M1446.6 422.5h.01M1447.0 457.6h.01M1447.4 446.7h.01M1447.8 453.1h.01M1448.2 441.1h.01M1448.6 456.4h.01M1449.0 449.0h.01M1449.4 444.5h.01M1449.8 414.0h.01M1450.2 435.9h.01M1450.6 452.1h.01M1451.1 439.5h.01M1451.5 440.7h.01M1451.9 471.9h.01M1452.3 465.3h.01M1452.7 462.2h.01M1453.1 444.6h.01M1453.5 434.2h.01M1453.9 446.4h.01M1454.3 443.2h.01M1454.7 387.7h.01M1455.2 442.3h.01M1455.6 395.7h.01M1456.0 452.1h.01M1456.4 450.9h.01M1456.8 406.7h.01M1457.2 440.5h.01M1457.6 431.9h.01M1458.0 441.4h.01M1458.4 464.8h.01M1458.8 439.6h.01M1459.3 433.8h.01M1459.7 388.6h.01M1460.1 421.2h.01M1460.5 391.2h.01M1460.9 433.8h.01M1461.3 405.6h.01M1461.7 391.7h.01M1462.1 393.8h.01M1462.5 457.9h.01M1462.9 442.4h.01M1463.4 415.4h.01M1463.8 460.1h.01M1464.2 420.3h.01M1464.6 443.4h.01M1465.0 438.2h.01M1465.4 420.5h.01M1465.8 435.1h.01M1466.2 398.4h.01M1466.6 444.7h.01M1467.0 395.4h.01M1467.5 403.8h.01M1467.9 457.4h.01M1468.3 402.7h.01M1468.7 413.8h.01M1469.1 450.0h.01M1469.5 450.2h.01M1469.9 452.3h.01M1470.3 385.9h.01M1470.7 389.6h.01M1471.1 415.5h.01M1471.6 468.6h.01M1472.0 411.7h.01M1472.4 455.6h.01M1472.8 450.1h.01M1473.2 385.3h.01M1473.6 391.2h.01M1474.0 442.4h.01M1474.4 422.8h.01M1474.8 407.5h.01M1475.2 453.7h.01M1475.7 408.0h.01M1476.1 445.6h.01M1476.5 364.3h.01M1476.9 429.1h.01M1477.3 462.3h.01M1477.7 429.2h.01M1478.1 386.5h.01M1478.5 374.7h.01M1478.9 418.2h.01M1479.3 364.5h.01M1479.7 423.5h.01M1480.2 428.2h.01M1480.6 413.0h.01M1481.0 404.9h.01M1481.4 414.8h.01M1481.8 388.2h.01M1482.2 436.7h.01M1482.6 456.8h.01M1483.0 412.6h.01M1483.4 453.8h.01M1483.8 427.4h.01M1484.3 421.1h.01M1484.7 443.9h.01M1485.1 453.2h.01M1485.5 410.5h.01M1485.9 403.0h.01M1486.3 460.6h.01M1486.7 404.5h.01M1487.1 388.1h.01M1487.5 421.0h.01M1487.9 357.3h.01M1488.4 395.4h.01M1488.8 417.4h.01M1489.2 396.3h.01M1489.6 368.0h.01M1490.0 437.9h.01M1490.4 405.9h.01M1490.8 417.9h.01M1491.2 411.0h.01M1491.6 383.6h.01M1492.0 447.5h.01M1492.5 389.0h.01M1492.9 376.2h.01M1493.3 413.4h.01M1493.7 391.6h.01M1494.1 398.4h.01M1494.5 411.6h.01M1494.9 389.7h.01M1495.3 387.8h.01M1495.7 431.4h.01M1496.1 384.2h.01M1496.6 379.9h.01M1497.0 434.2h.01M1497.4 409.6h.01M1497.8 388.1h.01M1498.2 388.7h.01M1498.6 432.0h.01M1499.0 415.8h.01M1499.4 397.4h.01M1499.8 398.9h.01M1500.2 416.7h.01M1500.7 390.6h.01M1501.1 411.5h.01M1501.5 421.8h.01M1501.9 406.4h.01M1502.3 429.2h.01M1502.7 426.7h.01M1503.1 377.9h.01M1503.5 418.9h.01M1503.9 431.4h.01M1504.3 426.4h.01M1504.8 421.4h.01M1505.2 414.4h.01M1505.6 375.0h.01M1506.0 392.6h.01M1506.4 409.4h.01M1506.8 422.9h.01M1507.2 398.8h.01M1507.6 370.3h.01M1508.0 454.1h.01M1508.4 402.1h.01M1508.8 446.9h.01M1509.3 429.2h.01M1509.7 438.4h.01M1510.1 367.5h.01M1510.5 434.2h.01M1510.9 453.8h.01M1511.3 422.0h.01M1511.7 437.2h.01M1512.1 450.2h.01M1512.5 386.1h.01M1512.9 411.0h.01M1513.4 407.3h.01M1513.8 386.0h.01M1514.2 407.2h.01M1514.6 428.3h.01M1515.0 419.8h.01M1515.4 428.3h.01M1515.8 423.4h.01M1516.2 404.2h.01M1516.6 404.9h.01M1517.0 435.2h.01M1517.5 416.3h.01M1517.9 414.9h.01M1518.3 445.1h.01M1518.7 430.4h.01M1519.1 417.7h.01M1519.5 412.7h.01M1519.9 440.7h.01M1520.3 423.3h.01M1520.7 429.6h.01M1521.1 414.7h.01M1521.6 426.7h.01M1522.0 401.8h.01M1522.4 420.9h.01M1522.8 439.8h.01M1523.2 410.3h.01M1523.6 420.7h.01M1524.0 418.1h.01M1524.4 426.9h.01M1524.8 433.6h.01M1525.2 409.4h.01M1525.7 396.9h.01M1526.1 405.5h.01M1526.5 410.4h.01M1526.9 410.2h.01M1527.3 409.8h.01M1527.7 397.3h.01M1528.1 417.0h.01M1528.5 397.9h.01M1528.9 404.6h.01M1529.3 390.7h.01M1529.8 397.1h.01M1530.2 421.8h.01M1530.6 428.1h.01M1531.0 426.9h.01M1531.4 409.2h.01M1531.8 424.4h.01M1532.2 412.4h.01M1532.6 408.9h.01M1533.0 437.7h.01M1533.4 402.3h.01M1533.9 418.7h.01M1534.3 438.7h.01M1534.7 420.4h.01M1535.1 428.0h.01M1535.5 396.8h.01M1535.9 419.3h.01M1536.3 414.6h.01M1536.7 439.8h.01M1537.1 444.7h.01M1537.5 410.2h.01M1537.9 412.7h.01M1538.4 430.3h.01M1538.8 445.4h.01M1539.2 404.9h.01M1539.6 425.7h.01M1540.0 411.7h.01M1540.4 401.5h.01M1540.8 434.0h.01M1541.2 411.7h.01M1541.6 440.1h.01M1542.0 401.9h.01M1542.5 413.0h.01M1542.9 429.3h.01M1543.3 401.4h.01M1543.7 409.2h.01M1544.1 444.3h.01M1544.5 421.4h.01M1544.9 413.3h.01M1545.3 445.9h.01M1545.7 424.6h.01M1546.1 424.1h.01M1546.6 431.3h.01M1547.0 424.2h.01M1547.4 398.8h.01M1547.8 439.3h.01M1548.2 433.2h.01M1548.6 440.6h.01M1549.0 413.3h.01M1549.4 419.0h.01M1549.8 443.1h.01M1550.2 426.1h.01M1550.7 425.4h.01M1551.1 403.4h.01M1551.5 426.3h.01M1551.9 412.8h.01M1552.3 426.5h.01M1552.7 442.2h.01M1553.1 428.8h.01M1553.5 394.5h.01M1553.9 426.6h.01M1554.3 413.3h.01M1554.8 445.0h.01M1555.2 400.1h.01M1555.6 425.1h.01M1556.0 400.7h.01M1556.4 417.8h.01M1556.8 381.6h.01M1557.2 414.3h.01M1557.6 384.9h.01M1558.0 413.4h.01M1558.4 420.6h.01M1558.9 412.5h.01M1559.3 368.8h.01M1559.7 364.5h.01M1560.1 401.3h.01M1560.5 396.8h.01M1560.9 378.6h.01M1561.3 353.0h.01M1561.7 409.4h.01M1562.1 379.5h.01M1562.5 412.8h.01M1563.0 373.2h.01M1563.4 402.9h.01M1563.8 394.6h.01M1564.2 410.2h.01M1564.6 382.8h.01M1565.0 411.8h.01M1565.4 432.9h.01M1565.8 377.3h.01M1566.2 379.6h.01M1566.6 394.2h.01M1567.0 374.5h.01M1567.5 367.8h.01M1567.9 419.8h.01M1568.3 423.9h.01M1568.7 426.6h.01M1569.1 403.9h.01M1569.5 432.2h.01M1569.9 387.6h.01M1570.3 396.1h.01M1570.7 402.4h.01M1571.1 384.3h.01M1571.6 418.1h.01M1572.0 402.3h.01M1572.4 421.0h.01M1572.8 415.8h.01M1573.2 407.5h.01M1573.6 428.2h.01M1574.0 425.0h.01M1574.4 400.4h.01M1574.8 397.4h.01M1575.2 424.3h.01M1575.7 402.7h.01M1576.1 405.9h.01M1576.5 417.1h.01M1576.9 403.7h.01M1577.3 412.4h.01M1577.7 428.0h.01M1578.1 418.8h.01M1578.5 407.8h.01M1578.9 407.1h.01M1579.3 415.8h.01M1579.8 431.6h.01M1580.2 391.8h.01M1580.6 415.4h.01M1581.0 419.4h.01M1581.4 394.8h.01M1581.8 397.3h.01M1582.2 387.3h.01M1582.6 420.3h.01M1583.0 421.3h.01M1583.4 422.4h.01M1583.9 421.8h.01M1584.3 422.4h.01M1584.7 436.6h.01M1585.1 403.5h.01M1585.5 417.2h.01M1585.9 443.1h.01M1586.3 427.7h.01M1586.7 404.8h.01M1587.1 409.6h.01M1587.5 400.6h.01M1588.0 403.5h.01M1588.4 414.4h.01M1588.8 397.7h.01M1589.2 437.8h.01M1589.6 429.1h.01M1590.0 424.1h.01M1590.4 441.6h.01M1590.8 414.7h.01M1591.2 443.0h.01M1591.6 410.7h.01M1592.1 402.0h.01M1592.5 417.3h.01M1592.9 418.2h.01M1593.3 410.7h.01M1593.7 446.3h.01M1594.1 394.6h.01M1594.5 445.0h.01M1594.9 379.4h.01M1595.3 381.7h.01M1595.7 427.1h.01M1596.1 446.1h.01M1596.6 401.2h.01M1597.0 374.8h.01M1597.4 404.9h.01M1597.8 379.1h.01M1598.2 391.5h.01M1598.6 416.5h.01M1599.0 369.8h.01M1599.4 377.3h.01M1599.8 418.2h.01M1600.2 378.6h.01M1600.7 388.6h.01M1601.1 381.5h.01M1601.5 372.1h.01M1601.9 369.9h.01M1602.3 416.1h.01M1602.7 433.8h.01M1603.1 436.5h.01M1603.5 363.0h.01M1603.9 427.3h.01M1604.3 414.6h.01M1604.8 435.4h.01M1605.2 413.9h.01M1605.6 434.2h.01M1606.0 423.0h.01M1606.4 386.9h.01M1606.8 435.3h.01M1607.2 384.5h.01M1607.6 403.3h.01M1608.0 381.1h.01M1608.4 395.3h.01M1608.9 414.7h.01M1609.3 423.1h.01M1609.7 422.7h.01M1610.1 432.5h.01M1610.5 400.7h.01M1610.9 414.0h.01M1611.3 416.9h.01M1611.7 408.3h.01M1612.1 413.9h.01M1612.5 409.8h.01M1613.0 398.1h.01M1613.4 406.5h.01M1613.8 388.1h.01M1614.2 410.4h.01M1614.6 391.8h.01M1615.0 428.5h.01M1615.4 395.4h.01M1615.8 406.7h.01M1616.2 398.6h.01M1616.6 395.1h.01M1617.1 373.8h.01M1617.5 411.4h.01M1617.9 429.0h.01M1618.3 395.1h.01M1618.7 401.7h.01M1619.1 389.3h.01M1619.5 370.1h.01M1619.9 388.6h.01M1620.3 369.5h.01M1620.7 365.4h.01M1621.1 378.6h.01M1621.6 406.3h.01M1622.0 364.3h.01M1622.4 396.4h.01M1622.8 395.7h.01M1623.2 392.3h.01M1623.6 410.8h.01M1624.0 415.3h.01M1624.4 393.6h.01M1624.8 399.0h.01M1625.2 418.6h.01M1625.7 418.8h.01M1626.1 381.0h.01M1626.5 416.8h.01M1626.9 381.9h.01M1627.3 369.5h.01M1627.7 399.7h.01M1628.1 391.3h.01M1628.5 434.7h.01M1628.9 382.1h.01M1629.3 383.5h.01M1629.8 409.4h.01M1630.2 415.2h.01M1630.6 394.4h.01M1631.0 391.5h.01M1631.4 390.3h.01M1631.8 422.9h.01M1632.2 395.7h.01M1632.6 412.2h.01M1633.0 375.4h.01M1633.4 391.5h.01M1633.9 404.9h.01M1634.3 397.1h.01M1634.7 419.3h.01M1635.1 432.2h.01M1635.5 431.6h.01M1635.9 428.1h.01M1636.3 375.5h.01M1636.7 399.4h.01M1637.1 385.9h.01M1637.5 404.8h.01M1638.0 437.3h.01M1638.4 422.2h.01M1638.8 412.6h.01M1639.2 401.8h.01M1639.6 400.6h.01M1640.0 396.7h.01M1640.4 403.6h.01M1640.8 424.7h.01M1641.2 425.9h.01M1641.6 419.7h.01M1642.1 418.2h.01M1642.5 437.7h.01M1642.9 383.7h.01M1643.3 437.5h.01M1643.7 414.2h.01M1644.1 442.4h.01M1644.5 438.7h.01M1644.9 419.6h.01M1645.3 406.5h.01M1645.7 422.8h.01M1646.2 394.4h.01M1646.6 384.7h.01M1647.0 379.7h.01M1647.4 425.6h.01M1647.8 447.7h.01M1648.2 435.5h.01M1648.6 385.5h.01M1649.0 397.9h.01M1649.4 406.7h.01M1649.8 409.5h.01M1650.2 404.6h.01M1650.7 381.2h.01M1651.1 384.3h.01M1651.5 405.2h.01M1651.9 388.7h.01M1652.3 413.5h.01M1652.7 408.9h.01M1653.1 443.6h.01M1653.5 440.2h.01M1653.9 419.5h.01M1654.3 412.0h.01M1654.8 390.2h.01M1655.2 434.6h.01M1655.6 394.2h.01M1656.0 409.7h.01M1656.4 441.9h.01M1656.8 381.4h.01M1657.2 425.0h.01M1657.6 400.4h.01M1658.0 439.7h.01M1658.4 422.5h.01M1658.9 391.4h.01M1659.3 432.1h.01M1659.7 392.0h.01M1660.1 406.7h.01M1660.5 396.4h.01M1660.9 386.9h.01M1661.3 399.7h.01M1661.7 415.8h.01M1662.1 420.4h.01M1662.5 416.5h.01M1663.0 420.6h.01M1663.4 398.0h.01M1663.8 416.5h.01M1664.2 400.7h.01M1664.6 427.2h.01M1665.0 411.0h.01M1665.4 428.1h.01M1665.8 406.5h.01M1666.2 413.0h.01M1666.6 406.3h.01M1667.1 415.3h.01M1667.5 433.5h.01M1667.9 422.2h.01M1668.3 423.7h.01M1668.7 418.0h.01M1669.1 418.6h.01M1669.5 429.3h.01M1669.9 429.2h.01M1670.3 412.2h.01M1670.7 422.0h.01M1671.2 420.3h.01M1671.6 415.2h.01M1672.0 406.7h.01M1672.4 416.8h.01M1672.8 403.1h.01M1673.2 414.0h.01M1673.6 430.0h.01M1674.0 429.1h.01M1674.4 420.9h.01M1674.8 396.5h.01M1675.3 400.3h.01M1675.7 420.4h.01M1676.1 399.0h.01M1676.5 400.5h.01M1676.9 416.9h.01M1677.3 408.8h.01M1677.7 397.1h.01M1678.1 411.4h.01M1678.5 401.6h.01M1678.9 412.1h.01M1679.3 418.8h.01M1679.8 394.0h.01M1680.2 419.2h.01M1680.6 413.7h.01M1681.0 392.7h.01M1681.4 397.3h.01M1681.8 419.6h.01M1682.2 416.2h.01M1682.6 411.1h.01M1683.0 424.4h.01M1683.4 397.3h.01M1683.9 390.6h.01M1684.3 407.1h.01M1684.7 412.4h.01M1685.1 383.7h.01M1685.5 398.1h.01M1685.9 407.6h.01M1686.3 390.0h.01M1686.7 410.3h.01M1687.1 406.2h.01M1687.5 407.8h.01M1688.0 418.3h.01M1688.4 402.9h.01M1688.8 426.3h.01M1689.2 385.9h.01M1689.6 396.1h.01M1690.0 399.9h.01M1690.4 401.4h.01M1690.8 392.1h.01M1691.2 417.1h.01M1691.6 416.5h.01M1692.1 386.8h.01M1692.5 412.2h.01M1692.9 412.4h.01M1693.3 422.1h.01M1693.7 406.4h.01M1694.1 403.3h.01M1694.5 429.7h.01M1694.9 413.2h.01M1695.3 424.1h.01M1695.7 412.6h.01M1696.2 428.4h.01M1696.6 406.9h.01M1697.0 417.7h.01M1697.4 398.8h.01M1697.8 410.4h.01M1698.2 398.3h.01M1698.6 419.8h.01M1699.0 436.0h.01M1699.4 396.8h.01M1699.8 399.3h.01M1700.3 416.7h.01M1700.7 421.9h.01M1701.1 435.3h.01M1701.5 418.3h.01M1701.9 415.0h.01M1702.3 412.2h.01M1702.7 403.6h.01M1703.1 427.8h.01M1703.5 416.6h.01M1703.9 401.6h.01M1704.4 403.3h.01M1704.8 398.1h.01M1705.2 401.1h.01M1705.6 411.8h.01M1706.0 418.6h.01M1706.4 410.3h.01M1706.8 398.8h.01M1707.2 414.6h.01M1707.6 415.3h.01M1708.0 397.6h.01M1708.4 420.4h.01M1708.9 414.7h.01M1709.3 430.6h.01M1709.7 406.8h.01M1710.1 421.3h.01M1710.5 422.1h.01M1710.9 432.9h.01M1711.3 422.9h.01M1711.7 405.6h.01M1712.1 410.7h.01M1712.5 406.2h.01M1713.0 427.1h.01M1713.4 420.1h.01M1713.8 405.6h.01M1714.2 408.9h.01M1714.6 412.3h.01M1715.0 416.1h.01M1715.4 401.8h.01M1715.8 401.8h.01M1716.2 414.7h.01M1716.6 417.5h.01M1717.1 395.7h.01M1717.5 421.3h.01M1717.9 396.4h.01M1718.3 411.4h.01M1718.7 414.6h.01M1719.1 395.8h.01M1719.5 401.3h.01M1719.9 404.8h.01M1720.3 400.0h.01M1720.7 421.5h.01M1721.2 406.8h.01M1721.6 396.6h.01M1722.0 395.0h.01M1722.4 407.2h.01M1722.8 404.3h.01M1723.2 408.9h.01M1723.6 407.4h.01M1724.0 405.5h.01M1724.4 424.1h.01M1724.8 393.1h.01M1725.3 407.1h.01M1725.7 405.8h.01M1726.1 399.1h.01M1726.5 397.0h.01M1726.9 397.3h.01M1727.3 400.3h.01M1727.7 407.1h.01M1728.1 426.6h.01M1728.5 398.3h.01M1728.9 394.5h.01M1729.4 407.9h.01M1729.8 419.0h.01M1730.2 409.4h.01M1730.6 397.8h.01M1731.0 392.8h.01M1731.4 395.9h.01M1731.8 422.2h.01M1732.2 425.3h.01M1732.6 405.6h.01M1733.0 394.8h.01M1733.5 414.5h.01M1733.9 408.0h.01M1734.3 429.7h.01M1734.7 420.9h.01M1735.1 398.4h.01M1735.5 436.3h.01M1735.9 416.0h.01M1736.3 399.9h.01M1736.7 411.8h.01M1737.1 395.8h.01M1737.5 424.9h.01M1738.0 437.5h.01M1738.4 439.0h.01M1738.8 417.9h.01M1739.2 426.1h.01M1739.6 422.3h.01M1740.0 385.2h.01M1740.4 406.5h.01M1740.8 381.8h.01M1741.2 420.0h.01M1741.6 433.7h.01M1742.1 426.9h.01M1742.5 409.3h.01M1742.9 417.7h.01M1743.3 401.0h.01M1743.7 400.6h.01M1744.1 437.1h.01M1744.5 389.0h.01M1744.9 426.0h.01M1745.3 420.1h.01M1745.7 428.4h.01M1746.2 407.0h.01M1746.6 399.1h.01M1747.0 408.3h.01M1747.4 433.7h.01M1747.8 429.6h.01M1748.2 407.8h.01M1748.6 439.5h.01M1749.0 411.5h.01M1749.4 435.3h.01M1749.8 427.3h.01M1750.3 405.0h.01M1750.7 407.2h.01M1751.1 405.1h.01M1751.5 415.4h.01M1751.9 428.4h.01M1752.3 435.1h.01M1752.7 422.6h.01M1753.1 423.4h.01M1753.5 407.5h.01M1753.9 405.5h.01M1754.4 429.6h.01M1754.8 434.1h.01M1755.2 428.7h.01M1755.6 438.8h.01M1756.0 431.3h.01M1756.4 422.1h.01M1756.8 427.1h.01M1757.2 415.3h.01M1757.6 426.6h.01M1758.0 404.0h.01M1758.5 418.5h.01M1758.9 402.2h.01M1759.3 413.1h.01M1759.7 405.3h.01M1760.1 415.8h.01M1760.5 412.2h.01M1760.9 428.4h.01M1761.3 430.7h.01M1761.7 430.1h.01M1762.1 407.0h.01M1762.5 429.7h.01M1763.0 416.7h.01M1763.4 432.7h.01M1763.8 410.4h.01M1764.2 429.1h.01M1764.6 425.5h.01M1765.0 420.1h.01M1765.4 406.5h.01M1765.8 409.4h.01M1766.2 402.0h.01M1766.6 415.1h.01M1767.1 403.6h.01M1767.5 396.2h.01M1767.9 423.0h.01M1768.3 407.1h.01M1768.7 411.2h.01M1769.1 403.6h.01M1769.5 384.2h.01M1769.9 384.3h.01M1770.3 404.6h.01M1770.7 402.3h.01M1771.2 406.7h.01M1771.6 384.8h.01M1772.0 398.7h.01M1772.4 391.7h.01M1772.8 384.2h.01M1773.2 436.2h.01M1773.6 404.0h.01M1774.0 433.9h.01M1774.4 398.2h.01M1774.8 414.7h.01M1775.3 428.2h.01M1775.7 413.7h.01M1776.1 399.0h.01M1776.5 385.7h.01M1776.9 401.6h.01M1777.3 420.9h.01M1777.7 423.5h.01M1778.1 425.3h.01M1778.5 413.9h.01M1778.9 409.7h.01M1779.4 415.1h.01M1779.8 394.8h.01M1780.2 396.8h.01M1780.6 413.9h.01M1781.0 399.9h.01M1781.4 381.9h.01M1781.8 413.9h.01M1782.2 413.2h.01M1782.6 393.4h.01M1783.0 405.4h.01M1783.5 408.7h.01M1783.9 415.0h.01M1784.3 410.8h.01M1784.7 415.9h.01M1785.1 412.5h.01M1785.5 397.5h.01M1785.9 380.5h.01M1786.3 386.1h.01M1786.7 376.2h.01M1787.1 393.8h.01M1787.6 386.4h.01M1788.0 382.2h.01M1788.4 404.8h.01M1788.8 386.5h.01M1789.2 411.3h.01M1789.6 388.0h.01M1790.0 379.5h.01M1790.4 404.8h.01M1790.8 410.3h.01M1791.2 406.0h.01M1791.6 393.7h.01M1792.1 380.7h.01M1792.5 412.8h.01M1792.9 406.1h.01M1793.3 394.5h.01M1793.7 376.6h.01M1794.1 412.7h.01M1794.5 389.8h.01M1794.9 422.8h.01M1795.3 408.0h.01M1795.7 388.3h.01M1796.2 417.3h.01M1796.6 419.8h.01M1797.0 416.5h.01M1797.4 390.3h.01M1797.8 410.3h.01M1798.2 422.3h.01M1798.6 391.8h.01M1799.0 420.7h.01M1799.4 427.6h.01M1799.8 407.6h.01M1800.3 389.5h.01M1800.7 420.1h.01M1801.1 411.3h.01M1801.5 413.8h.01M1801.9 385.9h.01M1802.3 415.6h.01M1802.7 402.3h.01M1803.1 436.1h.01M1803.5 422.0h.01M1803.9 395.7h.01M1804.4 415.3h.01M1804.8 410.2h.01M1805.2 434.9h.01M1805.6 432.9h.01M1806.0 383.9h.01M1806.4 418.9h.01M1806.8 390.0h.01M1807.2 416.7h.01M1807.6 397.1h.01M1808.0 420.8h.01M1808.5 398.7h.01M1808.9 425.3h.01M1809.3 402.2h.01M1809.7 420.7h.01M1810.1 414.5h.01M1810.5 392.3h.01M1810.9 420.6h.01M1811.3 391.5h.01M1811.7 426.4h.01M1812.1 416.8h.01M1812.6 409.6h.01M1813.0 392.3h.01M1813.4 413.8h.01M1813.8 418.2h.01M1814.2 419.8h.01M1814.6 430.7h.01M1815.0 418.7h.01M1815.4 403.8h.01M1815.8 387.7h.01M1816.2 407.7h.01M1816.7 393.7h.01M1817.1 423.3h.01M1817.5 387.4h.01M1817.9 411.7h.01M1818.3 400.7h.01M1818.7 427.8h.01M1819.1 396.7h.01M1819.5 422.6h.01M1819.9 390.4h.01M1820.3 390.7h.01M1820.7 415.5h.01M1821.2 396.3h.01M1821.6 413.4h.01M1822.0 413.4h.01M1822.4 416.6h.01M1822.8 408.8h.01M1823.2 401.2h.01M1823.6 415.4h.01M1824.0 429.5h.01M1824.4 406.2h.01M1824.8 435.1h.01M1825.3 403.8h.01M1825.7 401.4h.01M1826.1 424.4h.01M1826.5 417.0h.01M1826.9 404.2h.01M1827.3 396.3h.01M1827.7 402.1h.01M1828.1 434.2h.01M1828.5 410.1h.01M1828.9 408.3h.01M1829.4 406.7h.01M1829.8 430.6h.01M1830.2 406.2h.01M1830.6 402.2h.01M1831.0 426.4h.01M1831.4 432.5h.01M1831.8 423.4h.01M1832.2 396.6h.01M1832.6 408.2h.01M1833.0 427.9h.01M1833.5 423.6h.01M1833.9 433.6h.01M1834.3 407.5h.01M1834.7 429.0h.01M1835.1 419.1h.01M1835.5 406.2h.01M1835.9 419.3h.01M1836.3 425.3h.01M1836.7 421.4h.01M1837.1 422.7h.01M1837.6 435.2h.01M1838.0 400.5h.01M1838.4 427.6h.01M1838.8 391.1h.01M1839.2 416.9h.01M1839.6 423.3h.01M1840.0 401.6h.01M1840.4 414.2h.01M1840.8 415.5h.01M1841.2 398.2h.01M1841.7 438.2h.01M1842.1 406.6h.01M1842.5 399.8h.01M1842.9 409.6h.01M1843.3 422.8h.01M1843.7 408.8h.01M1844.1 442.9h.01M1844.5 407.8h.01M1844.9 401.7h.01M1845.3 384.2h.01M1845.8 412.3h.01M1846.2 392.1h.01M1846.6 441.1h.01M1847.0 425.9h.01M1847.4 409.9h.01M1847.8 426.3h.01M1848.2 431.8h.01M1848.6 388.0h.01M1849.0 407.9h.01M1849.4 438.2h.01M1849.8 441.2h.01M1850.3 415.0h.01M1850.7 417.9h.01M1851.1 432.5h.01M1851.5 387.8h.01M1851.9 385.6h.01M1852.3 415.2h.01M1852.7 432.3h.01M1853.1 416.7h.01M1853.5 432.0h.01M1853.9 377.2h.01M1854.4 387.1h.01M1854.8 400.9h.01M1855.2 386.6h.01M1855.6 398.0h.01M1856.0 380.7h.01M1856.4 382.4h.01M1856.8 399.2h.01M1857.2 413.2h.01M1857.6 405.5h.01M1858.0 385.1h.01M1858.5 427.5h.01M1858.9 418.6h.01M1859.3 418.1h.01M1859.7 412.3h.01M1860.1 394.3h.01M1860.5 407.0h.01M1860.9 397.0h.01M1861.3 377.1h.01M1861.7 391.6h.01M1862.1 408.8h.01M1862.6 382.3h.01M1863.0 378.4h.01M1863.4 378.6h.01M1863.8 387.0h.01M1864.2 414.4h.01M1864.6 421.7h.01M1865.0 439.7h.01M1865.4 384.7h.01M1865.8 382.3h.01M1866.2 420.4h.01M1866.7 432.7h.01M1867.1 437.9h.01M1867.5 400.2h.01M1867.9 438.0h.01M1868.3 417.3h.01M1868.7 406.8h.01M1869.1 444.2h.01M1869.5 394.3h.01M1869.9 437.3h.01M1870.3 420.9h.01M1870.8 427.3h.01M1871.2 414.4h.01M1871.6 411.1h.01M1872.0 418.1h.01M1872.4 425.2h.01M1872.8 409.7h.01M1873.2 422.2h.01M1873.6 437.2h.01M1874.0 442.3h.01M1874.4 443.9h.01M1874.9 399.9h.01M1875.3 408.0h.01M1875.7 442.3h.01M1876.1 416.8h.01M1876.5 418.6h.01M1876.9 404.6h.01M1877.3 433.6h.01M1877.7 428.2h.01M1878.1 417.2h.01M1878.5 411.6h.01M1878.9 423.5h.01M1879.4 431.0h.01M1879.8 416.1h.01M1880.2 406.4h.01M1880.6 418.6h.01M1881.0 424.8h.01M1881.4 404.9h.01M1881.8 415.1h.01M1882.2 425.8h.01M1882.6 410.0h.01M1883.0 410.5h.01M1883.5 409.9h.01M1883.9 420.9h.01M1884.3 431.3h.01M1884.7 408.0h.01M1885.1 426.3h.01M1885.5 428.4h.01M1885.9 431.8h.01M1886.3 430.1h.01M1886.7 417.3h.01M1887.1 406.4h.01M1887.6 430.7h.01M1888.0 435.7h.01M1888.4 412.7h.01M1888.8 419.7h.01M1889.2 422.2h.01M1889.6 401.2h.01M1890.0 405.4h.01M1890.4 425.4h.01M1890.8 416.0h.01M1891.2 424.7h.01M1891.7 412.7h.01M1892.1 406.6h.01M1892.5 423.0h.01M1892.9 434.5h.01M1893.3 409.9h.01M1893.7 418.9h.01M1894.1 406.2h.01M1894.5 428.1h.01M1894.9 408.4h.01M1895.3 414.1h.01M1895.8 415.9h.01M1896.2 415.1h.01M1896.6 422.8h.01M1897.0 413.0h.01M1897.4 411.4h.01M1897.8 411.2h.01M1898.2 447.7h.01M1898.6 419.6h.01M1899.0 421.5h.01M1899.4 443.2h.01M1899.9 442.8h.01M1900.3 408.7h.01M1900.7 446.4h.01M1901.1 444.2h.01M1901.5 413.6h.01M1901.9 415.3h.01M1902.3 430.7h.01M1902.7 426.2h.01M1903.1 432.1h.01M1903.5 431.0h.01M1903.9 424.9h.01M1904.4 425.8h.01M1904.8 425.8h.01M1905.2 411.1h.01M1905.6 426.5h.01M1906.0 410.0h.01M1906.4 424.1h.01M1906.8 422.1h.01M1907.2 419.1h.01M1907.6 421.2h.01M1908.0 409.4h.01M1908.5 429.1h.01M1908.9 431.7h.01M1909.3 429.4h.01M1909.7 438.0h.01M1910.1 419.4h.01M1910.5 411.5h.01M1910.9 409.3h.01M1911.3 414.9h.01M1911.7 414.6h.01M1912.1 410.2h.01M1912.6 414.6h.01M1913.0 420.9h.01M1913.4 436.6h.01M1913.8 427.3h.01M1914.2 432.8h.01M1914.6 411.2h.01M1915.0 430.0h.01M1915.4 410.7h.01M1915.8 434.0h.01M1916.2 423.2h.01M1916.7 428.3h.01M1917.1 412.3h.01M1917.5 413.1h.01M1917.9 417.3h.01M1918.3 427.5h.01M1918.7 433.3h.01M1919.1 410.6h.01M1919.5 412.8h.01M1919.9 431.6h.01M1920.3 423.2h.01M1920.8 416.6h.01M1921.2 434.2h.01M1921.6 415.6h.01M1922.0 395.1h.01M1922.4 416.5h.01M1922.8 418.7h.01M1923.2 427.3h.01M1923.6 426.6h.01M1924.0 406.6h.01M1924.4 397.5h.01M1924.9 425.5h.01M1925.3 404.7h.01M1925.7 381.7h.01M1926.1 395.3h.01M1926.5 412.4h.01M1926.9 418.5h.01M1927.3 420.3h.01M1927.7 398.9h.01M1928.1 401.9h.01M1928.5 398.0h.01M1929.0 405.0h.01M1929.4 422.7h.01M1929.8 383.9h.01M1930.2 418.6h.01M1930.6 388.8h.01M1931.0 408.0h.01M1931.4 408.4h.01M1931.8 386.1h.01M1932.2 423.5h.01M1932.6 404.4h.01M1933.0 412.6h.01M1933.5 401.0h.01M1933.9 404.4h.01M1934.3 404.8h.01M1934.7 395.1h.01M1935.1 422.6h.01M1935.5 417.9h.01M1935.9 390.7h.01M1936.3 401.5h.01M1936.7 390.4h.01M1937.1 408.1h.01M1937.6 381.4h.01M1938.0 414.2h.01M1938.4 390.0h.01M1938.8 427.0h.01M1939.2 406.8h.01M1939.6 386.1h.01M1940.0 400.1h.01M1940.4 404.5h.01M1940.8 395.9h.01M1941.2 408.2h.01M1941.7 382.9h.01M1942.1 413.0h.01M1942.5 398.2h.01M1942.9 392.3h.01M1943.3 398.3h.01M1943.7 402.9h.01M1944.1 391.0h.01M1944.5 397.5h.01M1944.9 382.8h.01M1945.3 399.6h.01M1945.8 417.1h.01M1946.2 401.5h.01M1946.6 399.3h.01M1947.0 412.5h.01M1947.4 406.4h.01M1947.8 421.1h.01M1948.2 425.3h.01M1948.6 418.7h.01M1949.0 400.8h.01M1949.4 399.4h.01M1949.9 402.4h.01M1950.3 425.4h.01M1950.7 395.0h.01M1951.1 411.9h.01M1951.5 396.4h.01M1951.9 417.4h.01M1952.3 400.5h.01M1952.7 416.5h.01M1953.1 392.8h.01M1953.5 390.0h.01M1954.0 408.0h.01M1954.4 414.8h.01M1954.8 417.6h.01M1955.2 410.6h.01M1955.6 410.1h.01M1956.0 410.6h.01M1956.4 417.1h.01M1956.8 398.8h.01M1957.2 425.4h.01M1957.6 416.5h.01M1958.1 394.8h.01M1958.5 431.6h.01M1958.9 397.8h.01M1959.3 412.2h.01M1959.7 429.1h.01M1960.1 412.7h.01M1960.5 434.3h.01M1960.9 435.0h.01M1961.3 424.0h.01M1961.7 429.2h.01M1962.1 434.1h.01M1962.6 434.4h.01M1963.0 416.0h.01M1963.4 439.7h.01M1963.8 428.8h.01M1964.2 413.2h.01M1964.6 410.7h.01M1965.0 427.6h.01M1965.4 444.5h.01M1965.8 415.3h.01M1966.2 410.8h.01M1966.7 418.8h.01M1967.1 419.5h.01M1967.5 418.0h.01M1967.9 410.2h.01M1968.3 443.6h.01M1968.7 420.9h.01M1969.1 426.6h.01M1969.5 411.2h.01M1969.9 413.6h.01M1970.3 422.1h.01M1970.8 413.2h.01M1971.2 430.8h.01M1971.6 417.0h.01M1972.0 403.6h.01M1972.4 432.2h.01M1972.8 431.3h.01M1973.2 411.2h.01M1973.6 427.9h.01M1974.0 405.0h.01M1974.4 421.8h.01M1974.9 423.3h.01M1975.3 426.7h.01M1975.7 403.8h.01M1976.1 402.4h.01M1976.5 412.7h.01M1976.9 426.0h.01M1977.3 416.5h.01M1977.7 400.4h.01M1978.1 421.8h.01M1978.5 419.7h.01M1979.0 408.1h.01M1979.4 412.9h.01M1979.8 405.3h.01M1980.2 425.3h.01M1980.6 406.4h.01M1981.0 418.6h.01M1981.4 420.0h.01M1981.8 415.9h.01M1982.2 400.8h.01M1982.6 407.2h.01M1983.1 410.1h.01M1983.5 409.2h.01M1983.9 407.9h.01M1984.3 426.0h.01M1984.7 409.4h.01M1985.1 418.1h.01M1985.5 414.5h.01M1985.9 419.4h.01M1986.3 408.8h.01M1986.7 400.1h.01M1987.2 417.2h.01M1987.6 409.9h.01M1988.0 401.0h.01M1988.4 416.0h.01M1988.8 424.2h.01M1989.2 405.9h.01M1989.6 421.7h.01M1990.0 426.0h.01M1990.4 403.0h.01M1990.8 430.1h.01M1991.2 424.6h.01M1991.7 427.7h.01M1992.1 434.6h.01M1992.5 415.8h.01M1992.9 401.0h.01M1993.3 418.5h.01M1993.7 405.2h.01M1994.1 404.9h.01M1994.5 419.0h.01M1994.9 405.7h.01M1995.3 436.9h.01M1995.8 413.9h.01M1996.2 403.6h.01M1996.6 412.3h.01M1997.0 435.2h.01M1997.4 426.3h.01M1997.8 432.0h.01M1998.2 409.3h.01M1998.6 413.8h.01M1999.0 410.9h.01M1999.4 404.2h.01M1999.9 418.4h.01M2000.3 400.0h.01M2000.7 419.1h.01M2001.1 417.2h.01M2001.5 401.9h.01M2001.9 428.0h.01M2002.3 401.0h.01M2002.7 414.1h.01M2003.1 434.2h.01M2003.5 429.9h.01M2004.0 428.7h.01M2004.4 408.4h.01M2004.8 422.2h.01M2005.2 425.8h.01M2005.6 412.5h.01M2006.0 410.5h.01M2006.4 426.4h.01M2006.8 416.6h.01M2007.2 411.4h.01M2007.6 431.9h.01M2008.1 421.7h.01M2008.5 430.5h.01M2008.9 425.1h.01M2009.3 413.4h.01M2009.7 432.2h.01M2010.1 424.9h.01M2010.5 408.7h.01M2010.9 430.7h.01M2011.3 431.8h.01M2011.7 404.9h.01M2012.2 408.4h.01M2012.6 405.9h.01M2013.0 408.9h.01M2013.4 425.8h.01M2013.8 420.7h.01M2014.2 407.9h.01M2014.6 418.5h.01M2015.0 420.3h.01M2015.4 407.2h.01M2015.8 410.2h.01M2016.3 411.1h.01M2016.7 406.2h.01M2017.1 418.2h.01M2017.5 430.7h.01M2017.9 434.3h.01M2018.3 424.1h.01M2018.7 394.8h.01M2019.1 419.3h.01M2019.5 431.3h.01M2019.9 430.0h.01M2020.3 408.5h.01M2020.8 414.1h.01M2021.2 439.9h.01M2021.6 417.6h.01M2022.0 421.9h.01M2022.4 402.7h.01M2022.8 437.8h.01M2023.2 429.4h.01M2023.6 426.5h.01M2024.0 409.1h.01M2024.4 408.9h.01M2024.9 417.1h.01M2025.3 412.9h.01M2025.7 418.6h.01M2026.1 421.9h.01M2026.5 413.4h.01M2026.9 406.2h.01M2027.3 421.4h.01M2027.7 423.2h.01M2028.1 442.7h.01M2028.5 411.2h.01M2029.0 414.8h.01M2029.4 420.2h.01M2029.8 432.0h.01M2030.2 416.7h.01M2030.6 439.3h.01M2031.0 423.3h.01M2031.4 422.6h.01M2031.8 440.0h.01M2032.2 427.9h.01M2032.6 434.1h.01M2033.1 441.0h.01M2033.5 435.1h.01M2033.9 428.2h.01M2034.3 412.3h.01M2034.7 427.0h.01M2035.1 427.3h.01M2035.5 411.0h.01M2035.9 422.4h.01M2036.3 416.9h.01M2036.7 443.6h.01M2037.2 443.6h.01M2037.6 435.5h.01M2038.0 442.6h.01M2038.4 424.7h.01M2038.8 420.7h.01M2039.2 411.3h.01M2039.6 424.3h.01M2040.0 411.7h.01M2040.4 414.7h.01M2040.8 427.6h.01M2041.3 418.1h.01M2041.7 412.4h.01M2042.1 409.7h.01M2042.5 442.5h.01M2042.9 422.3h.01M2043.3 448.8h.01M2043.7 413.7h.01M2044.1 416.1h.01M2044.5 432.9h.01M2044.9 412.0h.01M2045.4 408.7h.01M2045.8 416.5h.01M2046.2 419.3h.01M2046.6 427.5h.01M2047.0 412.1h.01M2047.4 441.2h.01M2047.8 440.2h.01M2048.2 417.6h.01M2048.6 437.7h.01M2049.0 435.4h.01M2049.4 428.8h.01M2049.9 417.5h.01M2050.3 419.7h.01M2050.7 441.2h.01M2051.1 427.2h.01M2051.5 447.9h.01M2051.9 427.5h.01M2052.3 439.9h.01M2052.7 439.7h.01M2053.1 410.0h.01M2053.5 445.6h.01M2054.0 422.2h.01M2054.4 422.6h.01M2054.8 436.3h.01M2055.2 413.7h.01M2055.6 442.1h.01M2056.0 442.8h.01M2056.4 434.3h.01M2056.8 422.6h.01M2057.2 425.0h.01M2057.6 440.4h.01M2058.1 437.7h.01M2058.5 423.8h.01M2058.9 429.5h.01M2059.3 432.2h.01M2059.7 440.4h.01M2060.1 430.5h.01M2060.5 415.4h.01M2060.9 432.4h.01M2061.3 428.6h.01M2061.7 436.7h.01M2062.2 427.1h.01M2062.6 432.2h.01M2063.0 415.8h.01M2063.4 419.6h.01M2063.8 423.7h.01M2064.2 424.7h.01M2064.6 419.6h.01M2065.0 410.8h.01M2065.4 414.4h.01M2065.8 425.7h.01M2066.3 413.9h.01M2066.7 422.0h.01M2067.1 413.2h.01M2067.5 430.1h.01M2067.9 410.6h.01M2068.3 409.0h.01M2068.7 400.5h.01M2069.1 405.8h.01M2069.5 396.5h.01M2069.9 403.5h.01M2070.4 438.2h.01M2070.8 401.3h.01M2071.2 413.8h.01M2071.6 412.6h.01M2072.0 436.0h.01M2072.4 401.2h.01M2072.8 427.3h.01M2073.2 432.0h.01M2073.6 409.3h.01M2074.0 417.8h.01M2074.4 405.2h.01M2074.9 405.8h.01M2075.3 419.5h.01M2075.7 431.6h.01M2076.1 406.5h.01M2076.5 433.4h.01M2076.9 406.8h.01M2077.3 407.9h.01M2077.7 416.7h.01M2078.1 412.9h.01M2078.5 424.8h.01M2079.0 416.1h.01M2079.4 407.4h.01M2079.8 433.2h.01M2080.2 417.7h.01M2080.6 422.9h.01M2081.0 406.2h.01M2081.4 401.7h.01M2081.8 397.4h.01M2082.2 387.3h.01M2082.6 418.9h.01M2083.1 409.5h.01M2083.5 406.5h.01M2083.9 384.8h.01M2084.3 424.9h.01M2084.7 401.9h.01M2085.1 403.8h.01M2085.5 403.1h.01M2085.9 406.3h.01M2086.3 401.3h.01M2086.7 408.7h.01M2087.2 420.1h.01M2087.6 417.7h.01M2088.0 379.4h.01M2088.4 382.5h.01M2088.8 388.1h.01M2089.2 394.8h.01M2089.6 368.5h.01M2090.0 384.5h.01M2090.4 392.1h.01M2090.8 387.0h.01M2091.3 407.4h.01M2091.7 404.6h.01M2092.1 418.8h.01M2092.5 385.4h.01M2092.9 408.5h.01M2093.3 417.3h.01M2093.7 424.1h.01M2094.1 404.7h.01M2094.5 370.5h.01M2094.9 388.0h.01M2095.4 423.8h.01M2095.8 359.7h.01M2096.2 394.2h.01M2096.6 384.5h.01M2097.0 396.2h.01M2097.4 359.8h.01M2097.8 370.8h.01M2098.2 417.1h.01M2098.6 410.1h.01M2099.0 410.0h.01M2099.5 414.4h.01M2099.9 358.8h.01M2100.3 379.6h.01M2100.7 379.4h.01M2101.1 382.2h.01M2101.5 389.1h.01M2101.9 412.6h.01M2102.3 410.3h.01M2102.7 393.5h.01M2103.1 403.7h.01M2103.5 373.8h.01M2104.0 395.0h.01M2104.4 377.7h.01M2104.8 377.3h.01M2105.2 407.2h.01M2105.6 405.6h.01M2106.0 375.2h.01M2106.4 408.8h.01M2106.8 398.3h.01M2107.2 402.8h.01M2107.6 419.0h.01M2108.1 377.5h.01M2108.5 422.3h.01M2108.9 434.8h.01M2109.3 373.2h.01M2109.7 432.6h.01M2110.1 439.4h.01M2110.5 418.8h.01M2110.9 381.4h.01M2111.3 422.1h.01M2111.7 410.5h.01M2112.2 431.2h.01M2112.6 382.9h.01M2113.0 405.5h.01M2113.4 384.1h.01M2113.8 445.5h.01M2114.2 389.2h.01M2114.6 399.0h.01M2115.0 405.9h.01M2115.4 410.4h.01M2115.8 421.1h.01M2116.3 410.9h.01M2116.7 434.8h.01M2117.1 394.8h.01M2117.5 414.2h.01M2117.9 403.5h.01M2118.3 442.3h.01M2118.7 400.9h.01M2119.1 421.5h.01M2119.5 441.4h.01M2119.9 395.7h.01M2120.4 411.0h.01M2120.8 406.7h.01M2121.2 418.7h.01M2121.6 422.3h.01M2122.0 429.5h.01M2122.4 409.5h.01M2122.8 437.2h.01M2123.2 405.6h.01M2123.6 427.8h.01M2124.0 398.3h.01M2124.5 435.7h.01M2124.9 416.9h.01M2125.3 429.3h.01M2125.7 435.2h.01M2126.1 436.6h.01M2126.5 445.8h.01M2126.9 437.3h.01M2127.3 429.8h.01M2127.7 413.0h.01M2128.1 422.4h.01M2128.6 406.9h.01M2129.0 422.4h.01M2129.4 420.2h.01M2129.8 420.8h.01M2130.2 408.8h.01M2130.6 401.5h.01M2131.0 416.1h.01M2131.4 433.2h.01M2131.8 435.4h.01M2132.2 405.2h.01M2132.6 432.4h.01M2133.1 434.1h.01M2133.5 437.0h.01M2133.9 423.5h.01M2134.3 445.5h.01M2134.7 436.3h.01M2135.1 413.3h.01M2135.5 452.2h.01M2135.9 417.0h.01M2136.3 433.2h.01M2136.7 412.1h.01M2137.2 404.1h.01M2137.6 408.0h.01M2138.0 414.7h.01M2138.4 406.6h.01M2138.8 452.2h.01M2139.2 405.6h.01M2139.6 442.5h.01M2140.0 432.4h.01M2140.4 422.4h.01M2140.8 411.0h.01M2141.3 408.0h.01M2141.7 448.1h.01M2142.1 439.1h.01M2142.5 413.3h.01M2142.9 409.5h.01M2143.3 431.4h.01M2143.7 424.6h.01M2144.1 441.9h.01M2144.5 428.9h.01M2144.9 441.5h.01M2145.4 441.0h.01M2145.8 407.5h.01M2146.2 398.2h.01M2146.6 420.9h.01M2147.0 431.9h.01M2147.4 402.6h.01M2147.8 412.2h.01M2148.2 440.8h.01M2148.6 421.0h.01M2149.0 405.7h.01M2149.5 415.5h.01M2149.9 402.3h.01M2150.3 410.9h.01M2150.7 435.6h.01M2151.1 416.4h.01M2151.5 419.3h.01M2151.9 408.3h.01M2152.3 408.7h.01M2152.7 433.6h.01M2153.1 422.2h.01M2153.6 402.5h.01M2154.0 449.9h.01M2154.4 441.7h.01M2154.8 400.0h.01M2155.2 437.1h.01M2155.6 409.9h.01M2156.0 424.4h.01M2156.4 413.6h.01M2156.8 425.7h.01M2157.2 415.1h.01M2157.7 432.2h.01M2158.1 450.7h.01M2158.5 437.4h.01M2158.9 419.6h.01M2159.3 451.2h.01M2159.7 401.9h.01M2160.1 426.1h.01M2160.5 407.1h.01M2160.9 405.7h.01M2161.3 450.0h.01M2161.7 414.8h.01M2162.2 446.8h.01M2162.6 430.5h.01M2163.0 421.2h.01M2163.4 424.0h.01M2163.8 450.1h.01M2164.2 435.7h.01M2164.6 405.4h.01M2165.0 437.6h.01M2165.4 408.8h.01M2165.8 410.4h.01M2166.3 456.6h.01M2166.7 441.3h.01M2167.1 455.5h.01M2167.5 408.8h.01M2167.9 456.0h.01M2168.3 460.6h.01M2168.7 446.6h.01M2169.1 424.5h.01M2169.5 435.7h.01M2169.9 429.1h.01M2170.4 424.0h.01M2170.8 443.2h.01M2171.2 419.2h.01M2171.6 418.9h.01M2172.0 436.2h.01M2172.4 427.0h.01M2172.8 435.4h.01M2173.2 468.3h.01M2173.6 455.8h.01M2174.0 464.2h.01M2174.5 470.5h.01M2174.9 468.1h.01M2175.3 442.3h.01M2175.7 419.4h.01M2176.1 448.9h.01M2176.5 432.9h.01M2176.9 468.5h.01M2177.3 438.4h.01M2177.7 423.7h.01M2178.1 429.8h.01M2178.6 461.9h.01M2179.0 435.1h.01M2179.4 441.5h.01M2179.8 427.4h.01M2180.2 422.9h.01M2180.6 451.4h.01M2181.0 439.2h.01M2181.4 417.4h.01M2181.8 464.8h.01M2182.2 452.9h.01M2182.7 430.5h.01M2183.1 441.6h.01M2183.5 449.5h.01M2183.9 433.4h.01M2184.3 451.6h.01M2184.7 436.8h.01M2185.1 471.4h.01M2185.5 437.9h.01M2185.9 431.9h.01M2186.3 442.3h.01M2186.8 434.3h.01M2187.2 452.8h.01M2187.6 436.9h.01M2188.0 453.1h.01M2188.4 449.0h.01M2188.8 450.0h.01M2189.2 427.5h.01M2189.6 463.9h.01M2190.0 477.5h.01M2190.4 456.3h.01M2190.8 475.4h.01M2191.3 421.9h.01M2191.7 451.2h.01M2192.1 448.3h.01M2192.5 463.4h.01M2192.9 436.0h.01M2193.3 431.8h.01M2193.7 469.8h.01M2194.1 429.7h.01M2194.5 425.5h.01M2194.9 428.8h.01M2195.4 475.4h.01M2195.8 467.2h.01M2196.2 434.7h.01M2196.6 434.0h.01M2197.0 475.1h.01M2197.4 478.4h.01M2197.8 446.8h.01M2198.2 467.1h.01M2198.6 473.7h.01M2199.0 459.7h.01M2199.5 460.4h.01M2199.9 438.7h.01M2200.3 442.9h.01M2200.7 463.0h.01M2201.1 431.8h.01M2201.5 484.4h.01M2201.9 484.0h.01M2202.3 473.4h.01M2202.7 454.6h.01M2203.1 458.3h.01M2203.6 464.3h.01M2204.0 480.7h.01M2204.4 466.1h.01M2204.8 461.6h.01M2205.2 476.3h.01M2205.6 441.0h.01M2206.0 483.4h.01M2206.4 453.6h.01M2206.8 479.2h.01M2207.2 461.8h.01M2207.7 485.9h.01M2208.1 443.3h.01M2208.5 444.8h.01M2208.9 461.7h.01M2209.3 430.2h.01M2209.7 460.0h.01M2210.1 457.4h.01M2210.5 462.9h.01M2210.9 454.4h.01M2211.3 443.3h.01M2211.8 436.3h.01M2212.2 479.6h.01M2212.6 459.5h.01M2213.0 448.1h.01M2213.4 457.2h.01M2213.8 455.7h.01M2214.2 456.8h.01M2214.6 440.4h.01M2215.0 428.5h.01M2215.4 443.2h.01M2215.8 448.7h.01M2216.3 445.2h.01M2216.7 420.8h.01M2217.1 458.8h.01M2217.5 432.9h.01M2217.9 459.7h.01M2218.3 415.7h.01M2218.7 429.5h.01M2219.1 426.9h.01M2219.5 431.3h.01M2219.9 436.6h.01M2220.4 406.0h.01M2220.8 438.8h.01M2221.2 440.8h.01M2221.6 404.2h.01M2222.0 450.6h.01M2222.4 419.4h.01M2222.8 439.0h.01M2223.2 409.9h.01M2223.6 438.5h.01M2224.0 396.9h.01M2224.5 391.0h.01M2224.9 440.1h.01M2225.3 383.8h.01M2225.7 443.1h.01M2226.1 407.1h.01M2226.5 404.4h.01M2226.9 412.7h.01M2227.3 440.0h.01M2227.7 432.4h.01M2228.1 446.3h.01M2228.6 437.7h.01M2229.0 412.6h.01M2229.4 401.2h.01M2229.8 430.0h.01M2230.2 388.7h.01M2230.6 400.0h.01M2231.0 385.1h.01M2231.4 433.0h.01M2231.8 382.4h.01M2232.2 394.6h.01M2232.7 413.6h.01M2233.1 410.5h.01M2233.5 416.2h.01M2233.9 412.6h.01M2234.3 418.7h.01M2234.7 391.1h.01M2235.1 414.6h.01M2235.5 390.8h.01M2235.9 421.6h.01M2236.3 426.0h.01M2236.8 406.9h.01M2237.2 404.3h.01M2237.6 395.9h.01M2238.0 403.4h.01M2238.4 414.2h.01M2238.8 375.9h.01M2239.2 385.3h.01M2239.6 372.6h.01M2240.0 381.0h.01M2240.4 391.3h.01M2240.9 402.6h.01M2241.3 419.0h.01M2241.7 394.5h.01M2242.1 389.8h.01M2242.5 439.0h.01M2242.9 435.7h.01M2243.3 365.9h.01M2243.7 394.8h.01M2244.1 393.1h.01M2244.5 394.8h.01M2244.9 365.3h.01M2245.4 405.2h.01M2245.8 386.9h.01M2246.2 373.2h.01M2246.6 387.8h.01M2247.0 377.8h.01M2247.4 396.8h.01M2247.8 411.2h.01M2248.2 397.8h.01M2248.6 395.2h.01M2249.0 388.8h.01M2249.5 426.7h.01M2249.9 413.0h.01M2250.3 394.1h.01M2250.7 415.7h.01M2251.1 398.7h.01M2251.5 421.6h.01M2251.9 397.2h.01M2252.3 439.6h.01M2252.7 400.0h.01M2253.1 392.5h.01M2253.6 416.2h.01M2254.0 438.6h.01M2254.4 426.0h.01M2254.8 417.1h.01M2255.2 429.9h.01M2255.6 382.3h.01M2256.0 431.5h.01M2256.4 423.4h.01M2256.8 433.9h.01M2257.2 390.8h.01M2257.7 374.7h.01M2258.1 423.7h.01M2258.5 375.5h.01M2258.9 413.4h.01M2259.3 405.1h.01M2259.7 382.1h.01M2260.1 378.2h.01M2260.5 425.8h.01M2260.9 424.0h.01M2261.3 435.2h.01M2261.8 383.0h.01M2262.2 370.1h.01M2262.6 407.5h.01M2263.0 403.8h.01M2263.4 371.5h.01M2263.8 395.3h.01M2264.2 392.2h.01M2264.6 390.0h.01M2265.0 436.1h.01M2265.4 414.7h.01M2265.9 348.3h.01M2266.3 423.1h.01M2266.7 385.4h.01M2267.1 413.2h.01M2267.5 406.2h.01M2267.9 424.1h.01M2268.3 430.9h.01M2268.7 417.3h.01M2269.1 372.8h.01M2269.5 357.8h.01M209.4 361.0h.01M212.0 375.0h.01M514.5 388.0h.01M536.5 405.2h.01M564.5 407.4h.01M587.1 405.2h.01M587.1 426.8h.01M599.0 428.9h.01M507.4 474.2h.01M522.4 481.7h.01M553.7 487.1h.01M571.4 510.8h.01M588.2 531.3h.01M590.3 547.5h.01M614.7 538.9h.01M200.2 435.4h.01M243.3 437.5h.01M254.1 439.7h.01M277.8 440.8h.01M303.0 442.9h.01M614.0 538.8h.01M677.2 579.1h.01M684.2 372.1h.01M686.0 380.9h.01M666.7 365.1h.01M666.7 379.1h.01M710.5 382.6h.01M710.5 407.2h.01M833.3 624.0h.01M900.0 586.1h.01M733.3 215.3h.01M802.8 224.7h.01M854.4 211.4h.01M774.4 155.6h.01M745.6 533.5h.01M749.1 514.2h.01M798.2 537.0h.01M933.3 517.0h.01M959.6 530.0h.01M986.0 644.0h.01M875.4 375.6h.01M875.4 393.2h.01M893.0 305.4h.01M905.3 291.4h.01M905.3 286.1h.01M686.0 431.8h.01M651.5 165.1h.01M651.7 214.2h.01M652.6 233.5h.01M651.5 242.3h.01M651.6 268.6h.01M651.8 280.9h.01M650.8 284.4h.01M651.6 307.2h.01M651.9 320.5h.01M752.3 265.1h.01M750.6 272.1h.01M751.1 291.4h.01M750.6 301.9h.01M752.3 314.2h.01M752.0 330.0h.01M800.7 287.9h.01M802.9 312.5h.01M802.9 338.8h.01M802.1 358.1h.01M802.0 389.6h.01M819.5 300.2h.01M819.2 310.7h.01M820.4 344.0h.01M819.3 363.3h.01M819.6 372.1h.01M819.7 382.6h.01M851.5 300.2h.01M852.5 305.4h.01M852.5 330.0h.01M853.5 340.5h.01M852.7 351.1h.01M853.0 368.6h.01M852.6 379.1h.01M853.0 389.6h.01M928.0 259.8h.01M927.5 279.1h.01M929.3 307.2h.01M929.3 326.5h.01M928.9 337.0h.01M928.6 347.5h.01M927.6 354.6h.01M972.0 361.6h.01M972.1 372.1h.01M971.6 382.6h.01M973.3 400.2h.01M972.4 414.2h.01M886.8 568.6h.01M885.7 575.6h.01M887.1 584.4h.01M986.1 643.0h.01M1017.8 372.7h.01M1116.2 306.8h.01M1118.2 358.5h.01M1117.4 382.8h.01M1181.2 600.3h.01M1198.7 597.1h.01M1235.3 336.1h.01M1244.2 571.9h.01M1243.4 593.0h.01M1171.1 586.1h.01M1293.8 334.1h.01M1295.0 395.0h.01M1293.0 407.2h.01M1295.0 425.5h.01M1301.1 584.1h.01M1044.2 271.1h.01M1051.1 283.3h.01M1055.2 291.4h.01M1059.3 269.0h.01M1063.3 285.3h.01M1067.4 295.4h.01M1071.5 281.2h.01M1079.6 291.4h.01M1081.6 271.1h.01M1085.7 299.5h.01M1089.8 307.6h.01M1053.2 301.5h.01M1066.2 271.1h.01M1072.7 293.4h.01M1003.2 411.3h.01M1001.2 425.5h.01M1001.7 439.8h.01M1003.3 462.1h.01M1049.0 208.0h.01M1050.3 210.9h.01M1048.9 234.5h.01M1048.1 246.7h.01M1049.4 269.0h.01M1049.8 275.1h.01M1075.8 181.6h.01M1075.4 189.8h.01M1075.9 202.0h.01M1077.5 234.5h.01M1077.0 254.8h.01M1086.8 195.9h.01M1087.1 202.0h.01M1086.8 210.1h.01M1086.7 234.5h.01M1088.4 275.1h.01M1107.3 632.8h.01M1108.2 649.1h.01M1107.9 669.4h.01M1107.3 681.6h.01M1108.6 714.1h.01M1130.3 624.7h.01M1131.6 641.0h.01M1130.3 653.2h.01M1131.0 665.4h.01M1182.6 287.3h.01M1182.7 307.6h.01M1184.4 323.9h.01M1184.0 328.0h.01M1194.2 114.6h.01M1195.6 122.7h.01M1193.9 138.9h.01M1194.4 157.2h.01M1195.5 191.8h.01M1195.0 214.1h.01M1193.7 230.4h.01M1195.8 258.9h.01M1193.9 267.0h.01M1205.0 271.1h.01M1206.3 283.3h.01M1205.2 291.4h.01M1205.1 309.7h.01M1204.6 319.8h.01M1204.6 334.1h.01M1220.0 212.1h.01M1219.2 230.4h.01M1220.1 236.5h.01M1219.5 244.6h.01M1219.7 250.7h.01M1229.1 250.7h.01M1275.5 649.1h.01M1275.7 662.1h.01M1276.4 679.6h.01M1274.8 688.5h.01M1387.5 329.7h.01M1380.5 466.6h.01M1392.2 507.6h.01M1400.4 500.5h.01M1399.9 520.4h.01M1394.6 484.2h.01M1437.4 546.2h.01M1611.7 453.7h.01M1639.1 453.7h.01M1649.6 445.6h.01M1649.6 458.4h.01M1650.8 467.8h.01M1661.3 449.1h.01M1717.4 367.2h.01M1717.4 374.2h.01M1771.3 377.7h.01M1780.6 438.5h.01M1371.2 318.0h.01M1371.2 329.7h.01M1371.9 341.4h.01M1474.1 361.3h.01M1419.1 374.2h.01M1426.2 373.0h.01M1415.3 276.4h.01M1417.1 314.5h.01M1416.9 320.4h.01M1415.5 339.1h.01M1415.3 346.1h.01M1416.7 354.3h.01M1438.4 488.8h.01M1436.7 495.9h.01M1438.5 502.9h.01M1438.3 509.9h.01M1489.1 330.9h.01M1488.7 337.9h.01M1487.9 343.8h.01M1487.8 350.8h.01M1561.8 235.0h.01M1560.1 265.4h.01M1561.2 285.3h.01M1624.4 271.2h.01M1625.8 282.9h.01M1625.3 287.6h.01M1624.5 302.8h.01M1624.3 315.7h.01M1625.6 327.4h.01M1624.0 339.1h.01M1624.4 355.5h.01M1876.2 372.1h.01M1911.8 449.3h.01M1896.6 465.7h.01M1897.1 452.9h.01M2056.9 399.7h.01M2095.5 344.0h.01M2108.4 312.4h.01M2154.0 457.5h.01M2158.7 462.2h.01M2166.9 388.0h.01M2167.6 402.5h.01M2176.3 470.4h.01M2179.3 484.9h.01M2207.1 514.2h.01M2232.4 463.4h.01M2250.0 459.9h.01M2258.2 459.9h.01M1994.9 434.1h.01M2108.5 330.0h.01M2109.2 335.8h.01M2108.7 342.9h.01M2244.8 323.0h.01M2246.3 335.8h.01M2244.6 347.5h.01M2266.4 304.2h.01M2267.0 316.0h.01M2267.4 327.7h.01M2266.5 337.0h.01M2266.7 346.4h.01"/>
<path id="blue" fill="none" stroke="#0000ff" stroke-width="9.8" stroke-linecap="round" d="M176.8 1306.8h.01M177.2 1293.3h.01M177.6 1294.6h.01M178.0 1282.8h.01M178.5 1306.2h.01M178.9 1302.5h.01M179.3 1276.9h.01M179.7 1300.6h.01M180.1 1294.2h.01M180.5 1293.2h.01M180.9 1275.9h.01M181.3 1282.8h.01M181.7 1282.1h.01M182.1 1296.5h.01M182.6 1305.4h.01M183.0 1291.8h.01M183.4 1298.9h.01M183.8 1295.4h.01M184.2 1276.0h.01M184.6 1307.7h.01M185.0 1289.3h.01M185.4 1280.6h.01M185.8 1298.4h.01M186.2 1307.6h.01M186.7 1276.6h.01M187.1 1307.0h.01M187.5 1309.4h.01M187.9 1277.3h.01M188.3 1304.7h.01M188.7 1300.2h.01M189.1 1280.4h.01M189.5 1277.4h.01M189.9 1292.8h.01M190.3 1282.4h.01M190.8 1301.5h.01M191.2 1324.9h.01M191.6 1324.5h.01M192.0 1293.6h.01M192.4 1308.3h.01M192.8 1326.9h.01M193.2 1291.8h.01M193.6 1322.5h.01M194.0 1319.5h.01M194.4 1310.1h.01M194.9 1290.3h.01M195.3 1288.3h.01M195.7 1296.6h.01M196.1 1310.3h.01M196.5 1320.3h.01M196.9 1330.2h.01M197.3 1321.7h.01M197.7 1300.8h.01M198.1 1293.2h.01M198.5 1328.1h.01M199.0 1304.8h.01M199.4 1304.4h.01M199.8 1303.1h.01M200.2 1310.2h.01M200.6 1285.8h.01M201.0 1301.9h.01M201.4 1295.8h.01M201.8 1282.6h.01M202.2 1306.7h.01M202.6 1327.3h.01M203.1 1297.8h.01M203.5 1288.4h.01M203.9 1329.7h.01M204.3 1290.9h.01M204.7 1284.3h.01M205.1 1297.7h.01M205.5 1273.9h.01M205.9 1292.6h.01M206.3 1291.8h.01M206.7 1289.5h.01M207.1 1275.6h.01M207.6 1275.9h.01M208.0 1328.5h.01M208.4 1331.9h.01M208.8 1316.5h.01M209.2 1275.2h.01M209.6 1300.3h.01M210.0 1290.1h.01M210.4 1276.8h.01M210.8 1316.2h.01M211.2 1324.6h.01M211.7 1290.7h.01M212.1 1319.8h.01M212.5 1315.7h.01M212.9 1302.8h.01M213.3 1304.7h.01M213.7 1306.7h.01M214.1 1318.4h.01M214.5 1290.7h.01M214.9 1292.1h.01M215.3 1312.6h.01M215.8 1300.9h.01M216.2 1306.8h.01M216.6 1322.0h.01M217.0 1324.5h.01M217.4 1319.0h.01M217.8 1329.1h.01M218.2 1344.5h.01M218.6 1329.7h.01M219.0 1335.3h.01M219.4 1315.1h.01M219.9 1323.1h.01M220.3 1317.7h.01M220.7 1330.5h.01M221.1 1324.6h.01M221.5 1340.4h.01M221.9 1346.6h.01M222.3 1329.7h.01M222.7 1305.3h.01M223.1 1343.2h.01M223.5 1307.4h.01M224.0 1322.6h.01M224.4 1343.5h.01M224.8 1333.0h.01M225.2 1338.1h.01M225.6 1347.2h.01M226.0 1352.4h.01M226.4 1339.8h.01M226.8 1333.7h.01M227.2 1311.1h.01M227.6 1352.3h.01M228.1 1319.8h.01M228.5 1325.6h.01M228.9 1350.0h.01M229.3 1324.0h.01M229.7 1331.9h.01M230.1 1347.6h.01M230.5 1331.1h.01M230.9 1324.1h.01M231.3 1336.5h.01M231.7 1317.3h.01M232.2 1312.7h.01M232.6 1361.7h.01M233.0 1330.4h.01M233.4 1337.1h.01M233.8 1363.3h.01M234.2 1312.0h.01M234.6 1365.3h.01M235.0 1336.7h.01M235.4 1313.5h.01M235.8 1318.4h.01M236.2 1316.7h.01M236.7 1360.7h.01M237.1 1353.6h.01M237.5 1372.8h.01M237.9 1327.1h.01M238.3 1358.3h.01M238.7 1333.3h.01M239.1 1342.7h.01M239.5 1326.1h.01M239.9 1371.0h.01M240.3 1361.3h.01M240.8 1355.4h.01M241.2 1346.3h.01M241.6 1342.2h.01M242.0 1352.4h.01M242.4 1376.7h.01M242.8 1364.7h.01M243.2 1322.6h.01M243.6 1322.1h.01M244.0 1365.8h.01M244.4 1359.3h.01M244.9 1370.6h.01M245.3 1380.0h.01M245.7 1351.2h.01M246.1 1363.2h.01M246.5 1341.6h.01M246.9 1353.6h.01M247.3 1344.3h.01M247.7 1372.8h.01M248.1 1331.1h.01M248.5 1351.5h.01M249.0 1349.8h.01M249.4 1379.1h.01M249.8 1324.2h.01M250.2 1341.5h.01M250.6 1336.3h.01M251.0 1329.0h.01M251.4 1334.4h.01M251.8 1342.8h.01M252.2 1331.1h.01M252.6 1361.0h.01M253.1 1376.6h.01M253.5 1331.1h.01M253.9 1357.2h.01M254.3 1363.0h.01M254.7 1362.5h.01M255.1 1325.2h.01M255.5 1370.9h.01M255.9 1338.5h.01M256.3 1342.0h.01M256.7 1377.8h.01M257.2 1359.0h.01M257.6 1363.0h.01M258.0 1350.4h.01M258.4 1345.8h.01M258.8 1376.9h.01M259.2 1345.9h.01M259.6 1331.5h.01M260.0 1360.2h.01M260.4 1332.8h.01M260.8 1368.0h.01M261.2 1363.2h.01M261.7 1366.1h.01M262.1 1376.1h.01M262.5 1361.4h.01M262.9 1347.3h.01M263.3 1342.2h.01M263.7 1347.7h.01M264.1 1364.7h.01M264.5 1348.5h.01M264.9 1334.4h.01M265.3 1322.3h.01M265.8 1367.6h.01M266.2 1344.7h.01M266.6 1363.6h.01M267.0 1337.9h.01M267.4 1324.0h.01M267.8 1324.6h.01M268.2 1363.3h.01M268.6 1324.5h.01M269.0 1342.0h.01M269.4 1355.1h.01M269.9 1329.3h.01M270.3 1355.0h.01M270.7 1343.4h.01M271.1 1369.1h.01M271.5 1360.3h.01M271.9 1360.8h.01M272.3 1365.7h.01M272.7 1333.7h.01M273.1 1327.4h.01M273.5 1320.8h.01M274.0 1352.1h.01M274.4 1318.5h.01M274.8 1314.9h.01M275.2 1317.4h.01M275.6 1331.9h.01M276.0 1321.8h.01M276.4 1318.3h.01M276.8 1340.1h.01M277.2 1321.0h.01M277.6 1352.5h.01M278.1 1316.7h.01M278.5 1336.2h.01M278.9 1327.4h.01M279.3 1320.2h.01M279.7 1350.0h.01M280.1 1304.5h.01M280.5 1339.0h.01M280.9 1340.3h.01M281.3 1319.5h.01M281.7 1332.5h.01M282.2 1335.3h.01M282.6 1338.8h.01M283.0 1320.2h.01M283.4 1327.0h.01M283.8 1297.7h.01M284.2 1309.9h.01M284.6 1320.5h.01M285.0 1316.6h.01M285.4 1263.7h.01M285.8 1321.4h.01M286.3 1271.6h.01M286.7 1265.5h.01M287.1 1306.3h.01M287.5 1264.0h.01M287.9 1301.1h.01M288.3 1311.0h.01M288.7 1311.3h.01M289.1 1308.2h.01M289.5 1270.3h.01M289.9 1278.2h.01M290.3 1314.4h.01M290.8 1276.6h.01M291.2 1262.3h.01M291.6 1277.0h.01M292.0 1270.2h.01M292.4 1269.1h.01M292.8 1261.4h.01M293.2 1275.5h.01M293.6 1269.4h.01M294.0 1261.6h.01M294.4 1265.0h.01M294.9 1275.5h.01M295.3 1255.4h.01M295.7 1266.5h.01M296.1 1270.2h.01M296.5 1286.9h.01M296.9 1258.6h.01M297.3 1287.1h.01M297.7 1263.3h.01M298.1 1260.9h.01M298.5 1269.8h.01M299.0 1271.0h.01M299.4 1287.6h.01M299.8 1291.6h.01M300.2 1260.3h.01M300.6 1279.6h.01M301.0 1294.7h.01M301.4 1263.8h.01M301.8 1274.6h.01M302.2 1285.5h.01M302.6 1282.1h.01M303.1 1294.8h.01M303.5 1299.5h.01M303.9 1273.0h.01M304.3 1281.3h.01M304.7 1248.5h.01M305.1 1295.6h.01M305.5 1266.4h.01M305.9 1250.3h.01M306.3 1282.4h.01M306.7 1303.9h.01M307.2 1261.6h.01M307.6 1299.3h.01M308.0 1252.3h.01M308.4 1288.3h.01M308.8 1270.3h.01M309.2 1279.2h.01M309.6 1274.2h.01M310.0 1288.0h.01M310.4 1307.0h.01M310.8 1308.1h.01M311.3 1249.5h.01M311.7 1278.8h.01M312.1 1247.1h.01M312.5 1261.6h.01M312.9 1283.5h.01M313.3 1305.0h.01M313.7 1273.9h.01M314.1 1273.7h.01M314.5 1278.0h.01M314.9 1303.8h.01M315.4 1261.1h.01M315.8 1305.3h.01M316.2 1291.5h.01M316.6 1288.2h.01M317.0 1275.2h.01M317.4 1267.2h.01M317.8 1294.8h.01M318.2 1309.2h.01M318.6 1267.1h.01M319.0 1292.7h.01M319.4 1300.7h.01M319.9 1292.7h.01M320.3 1266.6h.01M320.7 1286.2h.01M321.1 1281.7h.01M321.5 1281.4h.01M321.9 1264.3h.01M322.3 1287.7h.01M322.7 1293.1h.01M323.1 1279.4h.01M323.5 1276.6h.01M324.0 1294.9h.01M324.4 1307.9h.01M324.8 1299.2h.01M325.2 1294.2h.01M325.6 1291.2h.01M326.0 1288.1h.01M326.4 1273.1h.01M326.8 1285.5h.01M327.2 1292.4h.01M327.6 1288.7h.01M328.1 1280.7h.01M328.5 1293.1h.01M328.9 1264.3h.01M329.3 1292.5h.01M329.7 1291.3h.01M330.1 1284.4h.01M330.5 1281.0h.01M330.9 1275.4h.01M331.3 1294.1h.01M331.7 1289.7h.01M332.2 1278.5h.01M332.6 1313.2h.01M333.0 1315.1h.01M333.4 1298.3h.01M333.8 1295.7h.01M334.2 1307.6h.01M334.6 1315.6h.01M335.0 1284.7h.01M335.4 1293.8h.01M335.8 1300.7h.01M336.3 1303.1h.01M336.7 1292.5h.01M337.1 1272.2h.01M337.5 1273.1h.01M337.9 1290.5h.01M338.3 1304.1h.01M338.7 1275.1h.01M339.1 1316.5h.01M339.5 1275.4h.01M339.9 1287.1h.01M340.4 1279.8h.01M340.8 1305.0h.01M341.2 1271.5h.01M341.6 1311.0h.01M342.0 1260.9h.01M342.4 1264.1h.01M342.8 1298.8h.01M343.2 1277.0h.01M343.6 1268.3h.01M344.0 1292.2h.01M344.5 1292.6h.01M344.9 1272.5h.01M345.3 1293.6h.01M345.7 1302.4h.01M346.1 1286.5h.01M346.5 1270.6h.01M346.9 1284.2h.01M347.3 1282.5h.01M347.7 1297.3h.01M348.1 1314.9h.01M348.5 1280.6h.01M349.0 1269.9h.01M349.4 1293.2h.01M349.8 1291.3h.01M350.2 1311.3h.01M350.6 1287.1h.01M351.0 1288.5h.01M351.4 1302.6h.01M351.8 1300.2h.01M352.2 1303.7h.01M352.6 1308.9h.01M353.1 1302.4h.01M353.5 1286.1h.01M353.9 1306.6h.01M354.3 1275.7h.01M354.7 1275.0h.01M355.1 1306.6h.01M355.5 1267.4h.01M355.9 1289.0h.01M356.3 1275.0h.01M356.7 1286.4h.01M357.2 1294.0h.01M357.6 1275.6h.01M358.0 1298.8h.01M358.4 1271.5h.01M358.8 1291.2h.01M359.2 1290.2h.01M359.6 1274.7h.01M360.0 1300.6h.01M360.4 1279.8h.01M360.8 1273.4h.01M361.3 1272.2h.01M361.7 1302.3h.01M362.1 1283.2h.01M362.5 1291.5h.01M362.9 1278.4h.01M363.3 1264.8h.01M363.7 1302.3h.01M364.1 1295.6h.01M364.5 1288.0h.01M364.9 1292.4h.01M365.4 1268.5h.01M365.8 1272.9h.01M366.2 1271.5h.01M366.6 1280.5h.01M367.0 1266.8h.01M367.4 1296.1h.01M367.8 1290.8h.01M368.2 1289.4h.01M368.6 1293.5h.01M369.0 1285.2h.01M369.5 1269.3h.01M369.9 1284.5h.01M370.3 1316.1h.01M370.7 1292.8h.01M371.1 1320.7h.01M371.5 1302.8h.01M371.9 1276.9h.01M372.3 1305.6h.01M372.7 1293.7h.01M373.1 1310.0h.01M373.6 1303.7h.01M374.0 1309.1h.01M374.4 1324.4h.01M374.8 1328.7h.01M375.2 1305.4h.01M375.6 1296.0h.01M376.0 1329.2h.01M376.4 1294.2h.01M376.8 1325.7h.01M377.2 1336.0h.01M377.6 1283.2h.01M378.1 1311.1h.01M378.5 1313.3h.01M378.9 1296.5h.01M379.3 1291.7h.01M379.7 1283.8h.01M380.1 1321.6h.01M380.5 1313.8h.01M380.9 1300.4h.01M381.3 1310.0h.01M381.7 1305.0h.01M382.2 1314.0h.01M382.6 1313.4h.01M383.0 1332.6h.01M383.4 1321.5h.01M383.8 1325.3h.01M384.2 1327.3h.01M384.6 1326.4h.01M385.0 1317.7h.01M385.4 1328.2h.01M385.8 1334.2h.01M386.3 1292.0h.01M386.7 1323.6h.01M387.1 1338.4h.01M387.5 1341.6h.01M387.9 1289.7h.01M388.3 1309.8h.01M388.7 1297.1h.01M389.1 1348.5h.01M389.5 1329.1h.01M389.9 1317.8h.01M390.4 1324.6h.01M390.8 1299.6h.01M391.2 1350.1h.01M391.6 1283.4h.01M392.0 1356.9h.01M392.4 1296.6h.01M392.8 1336.1h.01M393.2 1301.1h.01M393.6 1326.1h.01M394.0 1284.0h.01M394.5 1304.7h.01M394.9 1317.0h.01M395.3 1356.2h.01M395.7 1304.2h.01M396.1 1334.4h.01M396.5 1357.5h.01M396.9 1309.6h.01M397.3 1318.3h.01M397.7 1332.7h.01M398.1 1352.0h.01M398.6 1343.7h.01M399.0 1313.3h.01M399.4 1333.7h.01M399.8 1341.3h.01M400.2 1327.4h.01M400.6 1312.7h.01M401.0 1343.5h.01M401.4 1314.0h.01M401.8 1347.4h.01M402.2 1311.7h.01M402.6 1312.8h.01M403.1 1364.8h.01M403.5 1363.7h.01M403.9 1331.6h.01M404.3 1337.2h.01M404.7 1334.0h.01M405.1 1352.1h.01M405.5 1355.1h.01M405.9 1351.8h.01M406.3 1349.2h.01M406.7 1327.9h.01M407.2 1336.6h.01M407.6 1345.2h.01M408.0 1357.9h.01M408.4 1335.2h.01M408.8 1350.2h.01M409.2 1357.2h.01M409.6 1323.4h.01M410.0 1315.2h.01M410.4 1341.3h.01M410.8 1364.1h.01M411.3 1339.0h.01M411.7 1356.4h.01M412.1 1317.0h.01M412.5 1366.6h.01M412.9 1334.6h.01M413.3 1369.4h.01M413.7 1333.8h.01M414.1 1355.3h.01M414.5 1342.8h.01M414.9 1359.1h.01M415.4 1330.9h.01M415.8 1361.6h.01M416.2 1366.3h.01M416.6 1339.3h.01M417.0 1332.2h.01M417.4 1342.2h.01M417.8 1336.9h.01M418.2 1316.2h.01M418.6 1313.2h.01M419.0 1310.3h.01M419.5 1330.9h.01M419.9 1351.4h.01M420.3 1319.3h.01M420.7 1339.5h.01M421.1 1345.9h.01M421.5 1346.1h.01M421.9 1264.1h.01M422.3 1310.4h.01M422.7 1300.9h.01M423.1 1298.6h.01M423.6 1272.8h.01M424.0 1282.8h.01M424.4 1294.3h.01M424.8 1316.5h.01M425.2 1271.8h.01M425.6 1313.0h.01M426.0 1299.3h.01M426.4 1296.9h.01M426.8 1315.4h.01M427.2 1293.2h.01M427.7 1304.8h.01M428.1 1293.6h.01M428.5 1299.2h.01M428.9 1259.8h.01M429.3 1284.4h.01M429.7 1308.6h.01M430.1 1274.7h.01M430.5 1306.5h.01M430.9 1261.2h.01M431.3 1285.0h.01M431.7 1245.0h.01M432.2 1248.8h.01M432.6 1277.1h.01M433.0 1297.4h.01M433.4 1274.0h.01M433.8 1268.9h.01M434.2 1249.6h.01M434.6 1258.3h.01M435.0 1303.3h.01M435.4 1254.1h.01M435.8 1290.4h.01M436.3 1270.1h.01M436.7 1304.0h.01M437.1 1274.2h.01M437.5 1297.1h.01M437.9 1281.3h.01M438.3 1312.4h.01M438.7 1301.6h.01M439.1 1287.3h.01M439.5 1260.5h.01M439.9 1299.0h.01M440.4 1307.0h.01M440.8 1283.3h.01M441.2 1258.4h.01M441.6 1296.7h.01M442.0 1261.8h.01M442.4 1293.6h.01M442.8 1286.5h.01M443.2 1243.6h.01M443.6 1270.0h.01M444.0 1250.3h.01M444.5 1270.9h.01M444.9 1227.7h.01M445.3 1294.3h.01M445.7 1264.3h.01M446.1 1262.1h.01M446.5 1271.4h.01M446.9 1252.7h.01M447.3 1285.3h.01M447.7 1237.1h.01M448.1 1280.0h.01M448.6 1248.3h.01M449.0 1266.2h.01M449.4 1267.8h.01M449.8 1235.2h.01M450.2 1288.2h.01M450.6 1258.0h.01M451.0 1293.4h.01M451.4 1266.3h.01M451.8 1272.6h.01M452.2 1277.8h.01M452.7 1254.4h.01M453.1 1283.3h.01M453.5 1282.9h.01M453.9 1236.0h.01M454.3 1270.6h.01M454.7 1246.5h.01M455.1 1276.5h.01M455.5 1248.3h.01M455.9 1264.0h.01M456.3 1289.0h.01M456.8 1269.1h.01M457.2 1240.9h.01M457.6 1297.3h.01M458.0 1254.4h.01M458.4 1238.0h.01M458.8 1233.3h.01M459.2 1277.1h.01M459.6 1267.6h.01M460.0 1242.5h.01M460.4 1248.5h.01M460.8 1239.9h.01M461.3 1272.7h.01M461.7 1259.1h.01M462.1 1289.7h.01M462.5 1282.3h.01M462.9 1276.0h.01M463.3 1281.5h.01M463.7 1282.1h.01M464.1 1252.3h.01M464.5 1262.0h.01M464.9 1223.5h.01M465.4 1295.4h.01M465.8 1250.2h.01M466.2 1290.9h.01M466.6 1219.9h.01M467.0 1237.2h.01M467.4 1279.8h.01M467.8 1287.9h.01M468.2 1296.6h.01M468.6 1299.8h.01M469.0 1282.4h.01M469.5 1226.0h.01M469.9 1275.5h.01M470.3 1222.9h.01M470.7 1288.8h.01M471.1 1270.1h.01M471.5 1287.0h.01M471.9 1288.1h.01M472.3 1243.6h.01M472.7 1225.4h.01M473.1 1263.2h.01M473.6 1250.6h.01M474.0 1243.7h.01M474.4 1221.3h.01M474.8 1224.4h.01M475.2 1279.2h.01M475.6 1253.0h.01M476.0 1272.7h.01M476.4 1254.8h.01M476.8 1244.2h.01M477.2 1241.9h.01M477.7 1273.0h.01M478.1 1286.3h.01M478.5 1219.1h.01M478.9 1254.6h.01M479.3 1221.6h.01M479.7 1228.5h.01M480.1 1224.6h.01M480.5 1219.8h.01M480.9 1246.8h.01M481.3 1238.3h.01M481.8 1223.7h.01M482.2 1214.5h.01M482.6 1247.1h.01M483.0 1217.8h.01M483.4 1269.6h.01M483.8 1241.8h.01M484.2 1221.6h.01M484.6 1261.7h.01M485.0 1261.1h.01M485.4 1287.2h.01M485.9 1215.6h.01M486.3 1209.3h.01M486.7 1236.9h.01M487.1 1247.7h.01M487.5 1244.3h.01M487.9 1209.3h.01M488.3 1279.1h.01M488.7 1254.0h.01M489.1 1294.1h.01M489.5 1218.9h.01M489.9 1234.8h.01M490.4 1309.3h.01M490.8 1264.4h.01M491.2 1222.4h.01M491.6 1207.9h.01M492.0 1228.5h.01M492.4 1295.7h.01M492.8 1246.0h.01M493.2 1244.4h.01M493.6 1280.0h.01M494.0 1248.4h.01M494.5 1303.7h.01M494.9 1248.5h.01M495.3 1270.0h.01M495.7 1276.0h.01M496.1 1229.9h.01M496.5 1246.0h.01M496.9 1227.2h.01M497.3 1248.8h.01M497.7 1235.1h.01M498.1 1276.4h.01M498.6 1223.7h.01M499.0 1292.6h.01M499.4 1248.0h.01M499.8 1312.0h.01M500.2 1276.6h.01M500.6 1275.9h.01M501.0 1289.2h.01M501.4 1290.5h.01M501.8 1262.4h.01M502.2 1258.0h.01M502.7 1263.6h.01M503.1 1261.4h.01M503.5 1278.2h.01M503.9 1277.8h.01M504.3 1259.3h.01M504.7 1293.3h.01M505.1 1242.6h.01M505.5 1270.8h.01M505.9 1310.4h.01M506.3 1283.7h.01M506.8 1288.3h.01M507.2 1317.7h.01M507.6 1250.0h.01M508.0 1279.1h.01M508.4 1281.0h.01M508.8 1296.0h.01M509.2 1264.5h.01M509.6 1285.5h.01M510.0 1298.8h.01M510.4 1287.4h.01M510.9 1280.1h.01M511.3 1291.4h.01M511.7 1314.2h.01M512.1 1328.7h.01M512.5 1270.7h.01M512.9 1290.9h.01M513.3 1312.3h.01M513.7 1268.9h.01M514.1 1275.0h.01M514.5 1284.2h.01M515.0 1316.1h.01M515.4 1288.7h.01M515.8 1325.0h.01M516.2 1303.2h.01M516.6 1302.8h.01M517.0 1326.1h.01M517.4 1289.5h.01M517.8 1304.8h.01M518.2 1273.2h.01M518.6 1306.3h.01M519.0 1278.5h.01M519.5 1309.8h.01M519.9 1266.1h.01M520.3 1324.1h.01M520.7 1268.1h.01M521.1 1276.2h.01M521.5 1266.9h.01M521.9 1307.6h.01M522.3 1284.9h.01M522.7 1325.5h.01M523.1 1347.5h.01M523.6 1279.5h.01M524.0 1344.9h.01M524.4 1273.6h.01M524.8 1273.5h.01M525.2 1323.8h.01M525.6 1270.7h.01M526.0 1311.0h.01M526.4 1287.9h.01M526.8 1300.6h.01M527.2 1292.7h.01M527.7 1300.4h.01M528.1 1313.7h.01M528.5 1334.7h.01M528.9 1286.2h.01M529.3 1293.3h.01M529.7 1326.8h.01M530.1 1314.7h.01M530.5 1308.4h.01M530.9 1281.1h.01M531.3 1312.2h.01M531.8 1303.4h.01M532.2 1281.4h.01M532.6 1329.6h.01M533.0 1311.2h.01M533.4 1315.5h.01M533.8 1317.3h.01M534.2 1370.8h.01M534.6 1287.8h.01M535.0 1317.4h.01M535.4 1348.6h.01M535.9 1321.3h.01M536.3 1350.9h.01M536.7 1329.8h.01M537.1 1318.7h.01M537.5 1348.1h.01M537.9 1366.3h.01M538.3 1323.2h.01M538.7 1354.0h.01M539.1 1335.5h.01M539.5 1374.6h.01M540.0 1316.6h.01M540.4 1355.6h.01M540.8 1341.2h.01M541.2 1339.9h.01M541.6 1325.0h.01M542.0 1345.0h.01M542.4 1348.6h.01M542.8 1339.9h.01M543.2 1358.7h.01M543.6 1368.5h.01M544.1 1372.5h.01M544.5 1323.3h.01M544.9 1356.5h.01M545.3 1311.0h.01M545.7 1346.3h.01M546.1 1340.5h.01M546.5 1362.0h.01M546.9 1329.6h.01M547.3 1337.1h.01M547.7 1358.6h.01M548.1 1327.9h.01M548.6 1313.0h.01M549.0 1317.8h.01M549.4 1337.3h.01M549.8 1365.7h.01M550.2 1351.8h.01M550.6 1358.1h.01M551.0 1361.6h.01M551.4 1328.2h.01M551.8 1329.4h.01M552.2 1346.8h.01M552.7 1316.2h.01M553.1 1349.9h.01M553.5 1330.2h.01M553.9 1331.2h.01M554.3 1366.7h.01M554.7 1319.6h.01M555.1 1330.9h.01M555.5 1359.8h.01M555.9 1335.7h.01M556.3 1359.7h.01M556.8 1362.1h.01M557.2 1355.5h.01M557.6 1332.2h.01M558.0 1349.1h.01M558.4 1341.3h.01M558.8 1319.3h.01M559.2 1334.6h.01M559.6 1358.6h.01M560.0 1337.6h.01M560.4 1331.4h.01M560.9 1361.2h.01M561.3 1329.3h.01M561.7 1317.1h.01M562.1 1358.0h.01M562.5 1317.3h.01M562.9 1347.1h.01M563.3 1317.6h.01M563.7 1338.6h.01M564.1 1335.3h.01M564.5 1335.2h.01M565.0 1333.5h.01M565.4 1336.5h.01M565.8 1343.5h.01M566.2 1352.3h.01M566.6 1317.8h.01M567.0 1337.5h.01M567.4 1321.8h.01M567.8 1333.2h.01M568.2 1353.3h.01M568.6 1307.5h.01M569.1 1312.8h.01M569.5 1337.8h.01M569.9 1323.2h.01M570.3 1361.4h.01M570.7 1316.1h.01M571.1 1304.8h.01M571.5 1323.1h.01M571.9 1300.0h.01M572.3 1317.9h.01M572.7 1336.9h.01M573.1 1302.4h.01M573.6 1320.1h.01M574.0 1340.3h.01M574.4 1307.1h.01M574.8 1341.3h.01M575.2 1357.4h.01M575.6 1295.4h.01M576.0 1299.4h.01M576.4 1312.9h.01M576.8 1330.2h.01M577.2 1325.6h.01M577.7 1301.7h.01M578.1 1317.6h.01M578.5 1309.8h.01M578.9 1327.1h.01M579.3 1326.3h.01M579.7 1296.5h.01M580.1 1345.1h.01M580.5 1330.9h.01M580.9 1330.9h.01M581.3 1323.0h.01M581.8 1287.6h.01M582.2 1286.7h.01M582.6 1285.1h.01M583.0 1292.0h.01M583.4 1298.2h.01M583.8 1296.8h.01M584.2 1274.0h.01M584.6 1273.4h.01M585.0 1252.4h.01M585.4 1308.5h.01M585.9 1246.4h.01M586.3 1322.9h.01M586.7 1307.6h.01M587.1 1229.9h.01M587.5 1232.2h.01M587.9 1309.6h.01M588.3 1298.5h.01M588.7 1265.5h.01M589.1 1325.8h.01M589.5 1243.1h.01M590.0 1274.2h.01M590.4 1221.1h.01M590.8 1259.8h.01M591.2 1286.4h.01M591.6 1294.3h.01M592.0 1234.0h.01M592.4 1255.5h.01M592.8 1222.1h.01M593.2 1257.1h.01M593.6 1274.3h.01M594.1 1271.1h.01M594.5 1253.8h.01M594.9 1273.5h.01M595.3 1284.5h.01M595.7 1291.9h.01M596.1 1236.6h.01M596.5 1231.6h.01M596.9 1256.2h.01M597.3 1213.3h.01M597.7 1265.3h.01M598.2 1241.9h.01M598.6 1252.2h.01M599.0 1291.3h.01M599.4 1218.6h.01M599.8 1256.5h.01M600.2 1233.9h.01M600.6 1243.3h.01M601.0 1245.5h.01M603.1 1235.5h.01M603.5 1255.1h.01M603.9 1311.5h.01M604.3 1227.7h.01M604.7 1225.2h.01M605.1 1261.1h.01M605.5 1279.8h.01M605.9 1224.1h.01M606.3 1229.1h.01M606.8 1248.5h.01M607.2 1243.1h.01M607.6 1246.2h.01M608.0 1260.6h.01M608.4 1239.8h.01M608.8 1272.9h.01M609.2 1218.0h.01M609.6 1256.2h.01M610.0 1261.9h.01M610.4 1246.3h.01M610.9 1240.2h.01M611.3 1316.3h.01M611.7 1258.9h.01M612.1 1235.1h.01M612.5 1303.4h.01M612.9 1250.2h.01M613.3 1307.5h.01M613.7 1314.3h.01M614.1 1283.6h.01M614.5 1228.7h.01M615.0 1291.2h.01M615.4 1243.7h.01M615.8 1286.9h.01M616.2 1255.8h.01M616.6 1304.1h.01M617.0 1276.1h.01M617.4 1287.6h.01M617.8 1270.5h.01M618.2 1304.1h.01M618.6 1295.3h.01M619.1 1272.7h.01M619.5 1319.4h.01M619.9 1295.8h.01M620.3 1277.6h.01M620.7 1302.1h.01M621.1 1318.2h.01M621.5 1287.7h.01M621.9 1278.6h.01M622.3 1295.1h.01M622.7 1243.7h.01M623.2 1296.8h.01M623.6 1268.3h.01M624.0 1293.5h.01M624.4 1271.7h.01M624.8 1286.3h.01M625.2 1247.3h.01M625.6 1294.2h.01M626.0 1219.5h.01M626.4 1285.7h.01M626.8 1279.3h.01M627.3 1266.4h.01M627.7 1230.2h.01M628.1 1255.3h.01M628.5 1229.1h.01M628.9 1234.7h.01M629.3 1266.9h.01M629.7 1260.2h.01M630.1 1244.3h.01M630.5 1258.1h.01M630.9 1259.7h.01M631.3 1248.1h.01M631.8 1277.2h.01M632.2 1266.2h.01M632.6 1274.2h.01M633.0 1259.5h.01M633.4 1262.9h.01M633.8 1241.8h.01M634.2 1258.0h.01M634.6 1262.6h.01M635.0 1258.2h.01M635.4 1264.8h.01M635.9 1255.6h.01M636.3 1289.4h.01M636.7 1253.5h.01M637.1 1271.2h.01M637.5 1266.4h.01M637.9 1278.0h.01M638.3 1276.6h.01M638.7 1255.8h.01M639.1 1268.9h.01M639.5 1237.3h.01M640.0 1239.5h.01M640.4 1261.6h.01M640.8 1244.0h.01M641.2 1226.1h.01M641.6 1267.2h.01M642.0 1273.2h.01M642.4 1260.0h.01M642.8 1215.7h.01M643.2 1235.7h.01M643.6 1274.4h.01M644.1 1238.0h.01M644.5 1286.9h.01M644.9 1244.0h.01M645.3 1210.3h.01M645.7 1214.8h.01M646.1 1270.7h.01M646.5 1165.3h.01M646.9 1218.3h.01M647.3 1208.4h.01M647.7 1269.2h.01M648.2 1234.5h.01M648.6 1255.7h.01M649.0 1229.0h.01M649.4 1174.4h.01M649.8 1242.7h.01M650.2 1241.4h.01M650.6 1256.9h.01M651.0 1230.2h.01M651.4 1231.1h.01M651.8 1162.0h.01M652.3 1216.5h.01M652.7 1240.5h.01M653.1 1217.6h.01M653.5 1229.9h.01M653.9 1207.9h.01M654.3 1211.7h.01M654.7 1217.1h.01M655.1 1221.3h.01M655.5 1230.0h.01M655.9 1232.7h.01M656.4 1248.1h.01M656.8 1185.6h.01M657.2 1179.2h.01M657.6 1174.0h.01M658.0 1229.9h.01M658.4 1235.7h.01M658.8 1226.6h.01M659.2 1246.5h.01M659.6 1216.4h.01M660.0 1228.9h.01M660.4 1236.5h.01M660.9 1193.9h.01M661.3 1232.9h.01M661.7 1218.9h.01M662.1 1265.2h.01M662.5 1211.6h.01M662.9 1213.2h.01M663.3 1247.3h.01M663.7 1220.4h.01M664.1 1207.0h.01M664.5 1189.5h.01M665.0 1231.8h.01M665.4 1201.6h.01M665.8 1207.0h.01M666.2 1185.5h.01M666.6 1263.6h.01M667.0 1217.4h.01M667.4 1188.3h.01M667.8 1200.4h.01M668.2 1188.4h.01M668.6 1205.1h.01M669.1 1180.1h.01M669.5 1238.2h.01M669.9 1191.0h.01M670.3 1201.7h.01M670.7 1229.4h.01M671.1 1217.5h.01M671.5 1223.2h.01M671.9 1207.5h.01M672.3 1226.1h.01M672.7 1214.6h.01M673.2 1208.4h.01M673.6 1242.5h.01M674.0 1284.0h.01M674.4 1288.3h.01M674.8 1256.3h.01M675.2 1331.1h.01M675.6 1194.0h.01M676.0 1293.5h.01M676.4 1228.3h.01M676.8 1228.7h.01M677.3 1263.6h.01M677.7 1206.5h.01M678.1 1328.1h.01M678.5 1248.7h.01M678.9 1312.5h.01M679.3 1241.5h.01M679.7 1280.4h.01M680.1 1313.1h.01M680.5 1325.9h.01M680.9 1266.5h.01M681.4 1241.9h.01M681.8 1245.3h.01M682.2 1302.6h.01M682.6 1291.8h.01M683.0 1246.0h.01M683.4 1303.1h.01M683.8 1338.6h.01M684.2 1304.2h.01M684.6 1299.3h.01M685.0 1286.3h.01M685.5 1308.8h.01M685.9 1333.4h.01M686.3 1289.4h.01M686.7 1286.6h.01M687.1 1289.7h.01M687.5 1286.7h.01M687.9 1320.6h.01M688.3 1284.3h.01M688.7 1298.2h.01M689.1 1294.2h.01M689.5 1289.4h.01M690.0 1326.7h.01M690.4 1306.8h.01M690.8 1331.5h.01M691.2 1348.3h.01M691.6 1296.6h.01M692.0 1298.7h.01M692.4 1301.0h.01M692.8 1283.8h.01M693.2 1306.3h.01M693.6 1323.0h.01M694.1 1298.0h.01M694.5 1303.6h.01M694.9 1329.9h.01M695.3 1285.8h.01M695.7 1305.2h.01M696.1 1292.5h.01M696.5 1333.0h.01M696.9 1290.3h.01M697.3 1308.5h.01M697.7 1294.4h.01M698.2 1285.9h.01M698.6 1310.2h.01M699.0 1296.5h.01M699.4 1349.9h.01M699.8 1304.0h.01M700.2 1334.6h.01M700.6 1321.3h.01M701.0 1346.6h.01M701.4 1352.8h.01M701.8 1350.6h.01M702.3 1326.6h.01M702.7 1338.9h.01M703.1 1304.4h.01M703.5 1304.3h.01M703.9 1315.5h.01M704.3 1288.5h.01M704.7 1315.1h.01M705.1 1331.7h.01M705.5 1293.6h.01M705.9 1313.4h.01M706.4 1341.9h.01M706.8 1336.1h.01M707.2 1349.6h.01M707.6 1332.8h.01M708.0 1323.2h.01M708.4 1343.1h.01M708.8 1325.3h.01M709.2 1322.9h.01M709.6 1335.0h.01M710.0 1318.1h.01M710.5 1347.0h.01M710.9 1337.7h.01M711.3 1333.5h.01M711.7 1322.3h.01M712.1 1313.6h.01M712.5 1345.3h.01M712.9 1347.9h.01M713.3 1335.0h.01M713.7 1317.6h.01M714.1 1291.7h.01M714.5 1336.6h.01M715.0 1323.8h.01M715.4 1283.7h.01M715.8 1330.0h.01M716.2 1306.9h.01M716.6 1285.4h.01M717.0 1297.9h.01M717.4 1343.4h.01M717.8 1324.1h.01M718.2 1327.5h.01M718.6 1298.0h.01M719.1 1304.2h.01M719.5 1320.3h.01M719.9 1335.3h.01M720.3 1334.3h.01M720.7 1295.9h.01M721.1 1301.2h.01M721.5 1327.1h.01M721.9 1314.1h.01M722.3 1320.7h.01M722.7 1281.8h.01M723.2 1307.2h.01M723.6 1324.3h.01M724.0 1322.2h.01M724.4 1304.1h.01M724.8 1228.1h.01M725.2 1297.9h.01M725.6 1240.9h.01M726.0 1213.0h.01M726.4 1292.0h.01M726.8 1300.4h.01M727.3 1299.3h.01M727.7 1194.0h.01M728.1 1186.2h.01M728.5 1238.7h.01M728.9 1185.5h.01M729.3 1160.1h.01M729.7 1230.8h.01M730.1 1223.7h.01M730.5 1221.2h.01M730.9 1201.1h.01M731.4 1210.0h.01M731.8 1213.5h.01M732.2 1173.4h.01M732.6 1233.3h.01M733.0 1161.5h.01M733.4 1222.9h.01M733.8 1232.4h.01M734.2 1236.9h.01M734.6 1225.2h.01M735.0 1196.1h.01M735.5 1125.3h.01M735.9 1183.5h.01M736.3 1154.8h.01M736.7 1143.3h.01M737.1 1200.1h.01M737.5 1198.8h.01M737.9 1147.7h.01M738.3 1180.7h.01M738.7 1201.0h.01M739.1 1143.5h.01M739.6 1192.0h.01M740.0 1172.3h.01M740.4 1202.1h.01M740.8 1192.7h.01M741.2 1221.1h.01M741.6 1196.8h.01M742.0 1204.9h.01M742.4 1195.6h.01M742.8 1166.8h.01M743.2 1158.9h.01M743.6 1198.3h.01M744.1 1225.2h.01M744.5 1121.3h.01M744.9 1167.3h.01M745.3 1131.7h.01M745.7 1145.0h.01M746.1 1214.8h.01M746.5 1159.7h.01M746.9 1193.4h.01M747.3 1160.9h.01M747.7 1161.4h.01M748.2 1123.1h.01M748.6 1121.7h.01M749.0 1146.1h.01M749.4 1135.7h.01M749.8 1168.0h.01M750.2 1138.5h.01M750.6 1138.9h.01M751.0 1134.3h.01M751.4 1083.1h.01M751.8 1194.4h.01M752.3 1206.3h.01M752.7 1153.1h.01M753.1 1141.5h.01M753.5 1176.7h.01M753.9 1138.7h.01M754.3 1194.6h.01M754.7 1193.1h.01M755.1 1175.6h.01M755.5 1095.6h.01M755.9 1134.1h.01M756.4 1143.1h.01M756.8 1146.5h.01M757.2 1119.2h.01M757.6 1116.5h.01M758.0 1188.7h.01M758.4 1179.9h.01M758.8 1112.3h.01M759.2 1119.5h.01M759.6 1181.7h.01M760.0 1136.1h.01M760.5 1141.6h.01M760.9 1154.5h.01M761.3 1142.7h.01M761.7 1199.3h.01M762.1 1174.6h.01M762.5 1203.2h.01M762.9 1188.2h.01M763.3 1146.5h.01M763.7 1125.0h.01M764.1 1148.3h.01M764.6 1118.2h.01M765.0 1142.5h.01M765.4 1121.0h.01M765.8 1182.6h.01M766.2 1165.1h.01M766.6 1123.1h.01M767.0 1191.1h.01M767.4 1124.9h.01M767.8 1136.3h.01M768.2 1207.2h.01M768.7 1115.4h.01M769.1 1214.1h.01M769.5 1120.7h.01M769.9 1212.0h.01M770.3 1183.6h.01M770.7 1170.7h.01M771.1 1172.0h.01M771.5 1220.6h.01M771.9 1119.8h.01M772.3 1150.3h.01M772.7 1214.7h.01M773.2 1186.3h.01M773.6 1120.8h.01M774.0 1145.1h.01M774.4 1176.9h.01M774.8 1152.4h.01M775.2 1222.8h.01M775.6 1171.0h.01M776.0 1150.5h.01M776.4 1131.7h.01M776.8 1193.6h.01M777.3 1228.8h.01M777.7 1152.3h.01M778.1 1216.0h.01M778.5 1235.9h.01M778.9 1147.4h.01M779.3 1183.0h.01M779.7 1147.9h.01M780.1 1163.4h.01M780.5 1204.7h.01M780.9 1218.2h.01M781.4 1264.7h.01M781.8 1144.7h.01M782.2 1145.4h.01M782.6 1270.6h.01M783.0 1169.4h.01M783.4 1203.5h.01M783.8 1173.9h.01M784.2 1241.1h.01M784.6 1238.5h.01M785.0 1230.8h.01M785.5 1179.6h.01M785.9 1221.5h.01M786.3 1199.1h.01M786.7 1252.2h.01M787.1 1240.9h.01M787.5 1200.8h.01M787.9 1281.4h.01M788.3 1204.1h.01M788.7 1234.0h.01M789.1 1191.3h.01M789.6 1237.6h.01M790.0 1277.0h.01M790.4 1192.7h.01M790.8 1272.1h.01M791.2 1237.6h.01M791.6 1182.8h.01M792.0 1236.0h.01M792.4 1275.5h.01M792.8 1193.5h.01M793.2 1248.3h.01M793.7 1225.8h.01M794.1 1216.8h.01M794.5 1259.5h.01M794.9 1261.6h.01M795.3 1251.2h.01M795.7 1269.9h.01M796.1 1233.9h.01M796.5 1299.0h.01M796.9 1302.9h.01M797.3 1256.2h.01M797.8 1216.3h.01M798.2 1292.3h.01M798.6 1262.3h.01M799.0 1247.6h.01M799.4 1251.6h.01M799.8 1214.9h.01M800.2 1298.0h.01M800.6 1281.0h.01M801.0 1227.3h.01M801.4 1278.7h.01M801.8 1282.7h.01M802.3 1276.9h.01M802.7 1232.6h.01M803.1 1279.1h.01M803.5 1293.8h.01M803.9 1214.0h.01M804.3 1259.0h.01M804.7 1297.0h.01M805.1 1203.2h.01M805.5 1195.0h.01M805.9 1292.0h.01M806.4 1189.4h.01M806.8 1242.0h.01M807.2 1226.9h.01M807.6 1251.5h.01M808.0 1274.0h.01M808.4 1244.9h.01M808.8 1289.8h.01M809.2 1267.6h.01M809.6 1247.2h.01M810.0 1298.8h.01M810.5 1288.9h.01M810.9 1220.9h.01M811.3 1250.6h.01M811.7 1275.3h.01M812.1 1204.7h.01M812.5 1290.3h.01M812.9 1299.1h.01M813.3 1221.1h.01M813.7 1265.9h.01M814.1 1258.5h.01M814.6 1267.5h.01M815.0 1289.7h.01M815.4 1234.6h.01M815.8 1234.4h.01M816.2 1248.6h.01M816.6 1248.9h.01M817.0 1247.3h.01M817.4 1271.6h.01M817.8 1262.5h.01M818.2 1215.6h.01M818.7 1220.4h.01M819.1 1293.0h.01M819.5 1231.5h.01M819.9 1261.5h.01M820.3 1240.3h.01M820.7 1197.3h.01M821.1 1211.5h.01M821.5 1187.8h.01M821.9 1193.9h.01M822.3 1258.5h.01M822.8 1287.8h.01M823.2 1210.4h.01M823.6 1217.9h.01M824.0 1225.3h.01M824.4 1217.2h.01M824.8 1265.6h.01M825.2 1254.8h.01M825.6 1304.0h.01M826.0 1253.8h.01M826.4 1252.5h.01M826.9 1266.7h.01M827.3 1281.1h.01M827.7 1259.4h.01M828.1 1230.6h.01M828.5 1262.6h.01M828.9 1304.1h.01M829.3 1239.7h.01M829.7 1242.2h.01M830.1 1288.6h.01M830.5 1294.6h.01M830.9 1301.5h.01M831.4 1306.6h.01M831.8 1240.9h.01M832.2 1249.3h.01M832.6 1306.8h.01M833.0 1234.8h.01M833.4 1272.8h.01M833.8 1230.5h.01M834.2 1308.5h.01M834.6 1286.1h.01M835.0 1270.3h.01M835.5 1297.2h.01M835.9 1312.7h.01M836.3 1298.0h.01M836.7 1241.2h.01M837.1 1288.6h.01M837.5 1321.1h.01M837.9 1299.9h.01M838.3 1274.3h.01M838.7 1294.8h.01M839.1 1282.5h.01M839.6 1270.0h.01M840.0 1215.0h.01M840.4 1299.4h.01M840.8 1330.1h.01M841.2 1246.4h.01M841.6 1238.5h.01M842.0 1304.9h.01M842.4 1263.3h.01M842.8 1268.8h.01M843.2 1296.3h.01M843.7 1254.7h.01M844.1 1319.7h.01M844.5 1292.8h.01M844.9 1258.8h.01M845.3 1303.2h.01M845.7 1311.8h.01M846.1 1247.9h.01M846.5 1246.2h.01M846.9 1308.0h.01M847.3 1276.6h.01M847.8 1314.3h.01M848.2 1261.8h.01M848.6 1300.1h.01M849.0 1297.6h.01M849.4 1266.0h.01M849.8 1322.1h.01M850.2 1228.7h.01M850.6 1283.3h.01M851.0 1263.9h.01M851.4 1219.2h.01M851.9 1305.8h.01M852.3 1244.4h.01M852.7 1290.1h.01M853.1 1245.2h.01M853.5 1294.4h.01M853.9 1232.3h.01M854.3 1284.1h.01M854.7 1289.4h.01M855.1 1275.8h.01M855.5 1268.4h.01M855.9 1255.1h.01M856.4 1324.6h.01M856.8 1267.8h.01M857.2 1242.3h.01M857.6 1280.0h.01M858.0 1288.6h.01M858.4 1251.8h.01M858.8 1290.7h.01M859.2 1283.9h.01M859.6 1295.1h.01M860.0 1274.1h.01M860.5 1238.3h.01M860.9 1313.0h.01M861.3 1282.1h.01M861.7 1269.5h.01M862.1 1291.2h.01M862.5 1319.0h.01M862.9 1292.1h.01M863.3 1262.8h.01M863.7 1304.3h.01M864.1 1306.0h.01M864.6 1321.3h.01M865.0 1307.1h.01M865.4 1315.8h.01M865.8 1247.2h.01M866.2 1311.4h.01M866.6 1323.2h.01M867.0 1290.6h.01M867.4 1307.2h.01M867.8 1238.1h.01M868.2 1259.5h.01M868.7 1275.1h.01M869.1 1321.4h.01M869.5 1224.4h.01M869.9 1303.3h.01M870.3 1223.9h.01M870.7 1278.0h.01M871.1 1295.8h.01M871.5 1217.6h.01M871.9 1241.2h.01M872.3 1216.7h.01M872.8 1303.2h.01M873.2 1305.0h.01M873.6 1300.7h.01M874.0 1297.0h.01M874.4 1283.9h.01M874.8 1235.2h.01M875.2 1225.7h.01M875.6 1218.3h.01M876.0 1290.0h.01M876.4 1229.3h.01M876.9 1200.2h.01M877.3 1238.5h.01M877.7 1251.9h.01M878.1 1269.8h.01M878.5 1242.9h.01M878.9 1243.1h.01M879.3 1217.7h.01M879.7 1236.3h.01M880.1 1225.5h.01M880.5 1232.2h.01M881.0 1259.5h.01M881.4 1216.9h.01M881.8 1211.1h.01M882.2 1230.4h.01M882.6 1296.9h.01M883.0 1243.3h.01M883.4 1191.4h.01M883.8 1274.3h.01M884.2 1293.9h.01M884.6 1235.6h.01M885.0 1186.6h.01M885.5 1238.4h.01M885.9 1288.6h.01M886.3 1194.9h.01M886.7 1149.5h.01M887.1 1254.7h.01M887.5 1235.1h.01M887.9 1261.1h.01M888.3 1148.4h.01M888.7 1185.2h.01M889.1 1208.2h.01M889.6 1218.7h.01M890.0 1210.7h.01M890.4 1153.4h.01M890.8 1144.1h.01M891.2 1145.1h.01M891.6 1184.9h.01M892.0 1161.7h.01M892.4 1202.9h.01M892.8 1209.4h.01M893.2 1181.4h.01M893.7 1231.7h.01M894.1 1184.5h.01M894.5 1189.6h.01M894.9 1164.5h.01M895.3 1156.4h.01M895.7 1254.2h.01M896.1 1187.0h.01M896.5 1201.5h.01M896.9 1165.1h.01M897.3 1201.5h.01M897.8 1175.7h.01M898.2 1237.1h.01M898.6 1206.3h.01M899.0 1185.5h.01M899.4 1194.6h.01M899.8 1149.6h.01M900.2 1285.1h.01M900.6 1230.9h.01M901.0 1146.3h.01M901.4 1144.4h.01M901.9 1249.4h.01M902.3 1151.2h.01M902.7 1155.4h.01M903.1 1160.7h.01M903.5 1152.9h.01M903.9 1291.3h.01M904.3 1197.5h.01M904.7 1213.4h.01M905.1 1152.8h.01M905.5 1141.6h.01M906.0 1141.2h.01M906.4 1181.6h.01M906.8 1227.1h.01M907.2 1168.4h.01M907.6 1217.6h.01M908.0 1158.7h.01M908.4 1143.8h.01M908.8 1166.8h.01M909.2 1231.0h.01M909.6 1198.4h.01M910.1 1149.3h.01M910.5 1161.0h.01M910.9 1152.1h.01M911.3 1269.3h.01M911.7 1225.5h.01M912.1 1270.8h.01M912.5 1203.1h.01M912.9 1179.0h.01M913.3 1195.9h.01M913.7 1277.6h.01M914.1 1224.5h.01M914.6 1204.0h.01M915.0 1211.4h.01M915.4 1280.3h.01M915.8 1237.8h.01M916.2 1245.7h.01M916.6 1232.2h.01M917.0 1171.4h.01M917.4 1224.3h.01M917.8 1206.3h.01M918.2 1196.9h.01M918.7 1246.5h.01M919.1 1166.7h.01M919.5 1248.5h.01M919.9 1224.5h.01M920.3 1223.3h.01M920.7 1193.8h.01M921.1 1193.1h.01M921.5 1243.9h.01M921.9 1245.0h.01M922.3 1217.0h.01M922.8 1206.3h.01M923.2 1189.4h.01M923.6 1255.8h.01M924.0 1260.0h.01M924.4 1244.0h.01M924.8 1202.0h.01M925.2 1172.0h.01M925.6 1244.9h.01M926.0 1239.5h.01M926.4 1271.6h.01M926.9 1236.8h.01M927.3 1252.0h.01M927.7 1221.3h.01M928.1 1265.7h.01M928.5 1257.4h.01M928.9 1242.9h.01M929.3 1276.1h.01M929.7 1247.0h.01M930.1 1199.0h.01M930.5 1172.4h.01M931.0 1181.2h.01M931.4 1243.8h.01M931.8 1251.7h.01M932.2 1201.5h.01M932.6 1265.1h.01M933.0 1173.2h.01M933.4 1215.0h.01M933.8 1184.3h.01M934.2 1239.1h.01M934.6 1203.0h.01M935.1 1266.1h.01M935.5 1246.2h.01M935.9 1192.8h.01M936.3 1277.9h.01M936.7 1249.4h.01M937.1 1303.1h.01M937.5 1295.0h.01M937.9 1254.1h.01M938.3 1204.4h.01M938.7 1284.1h.01M939.2 1272.5h.01M939.6 1232.0h.01M940.0 1303.4h.01M940.4 1253.0h.01M940.8 1297.9h.01M941.2 1219.0h.01M941.6 1260.9h.01M942.0 1262.8h.01M942.4 1285.9h.01M942.8 1288.6h.01M943.2 1214.1h.01M943.7 1262.5h.01M944.1 1283.8h.01M944.5 1271.8h.01M944.9 1274.7h.01M945.3 1284.1h.01M945.7 1229.8h.01M946.1 1272.6h.01M946.5 1263.6h.01M946.9 1259.3h.01M947.3 1274.2h.01M947.8 1238.8h.01M948.2 1300.3h.01M948.6 1273.1h.01M949.0 1253.5h.01M949.4 1277.5h.01M949.8 1274.2h.01M950.2 1276.6h.01M950.6 1260.2h.01M951.0 1247.6h.01M951.4 1270.9h.01M951.9 1260.0h.01M952.3 1211.6h.01M952.7 1232.3h.01M953.1 1222.2h.01M953.5 1215.4h.01M953.9 1294.2h.01M954.3 1246.8h.01M954.7 1233.1h.01M955.1 1206.6h.01M955.5 1247.2h.01M956.0 1258.6h.01M956.4 1223.3h.01M956.8 1232.9h.01M957.2 1278.9h.01M957.6 1208.2h.01M958.0 1245.5h.01M958.4 1227.0h.01M958.8 1244.5h.01M959.2 1288.8h.01M959.6 1256.6h.01M960.1 1227.1h.01M960.5 1234.3h.01M960.9 1290.4h.01M961.3 1209.6h.01M961.7 1243.9h.01M962.1 1190.4h.01M962.5 1199.2h.01M962.9 1233.1h.01M963.3 1253.1h.01M963.7 1275.1h.01M964.2 1193.9h.01M964.6 1238.4h.01M965.0 1265.7h.01M965.4 1249.8h.01M965.8 1248.6h.01M966.2 1223.4h.01M966.6 1221.3h.01M967.0 1266.6h.01M967.4 1228.7h.01M967.8 1186.4h.01M968.3 1183.7h.01M968.7 1216.4h.01M969.1 1213.8h.01M969.5 1197.7h.01M969.9 1255.9h.01M970.3 1192.2h.01M970.7 1192.5h.01M971.1 1255.8h.01M971.5 1182.4h.01M971.9 1258.6h.01M972.3 1218.4h.01M972.8 1193.9h.01M973.2 1168.6h.01M973.6 1190.5h.01M974.0 1209.0h.01M974.4 1281.3h.01M974.8 1267.2h.01M975.2 1257.9h.01M975.6 1179.7h.01M976.0 1225.3h.01M976.4 1277.6h.01M976.9 1266.2h.01M977.3 1245.3h.01M977.7 1299.2h.01M978.1 1257.2h.01M978.5 1272.2h.01M978.9 1291.3h.01M979.3 1200.4h.01M979.7 1286.3h.01M980.1 1237.2h.01M980.5 1291.9h.01M981.0 1298.1h.01M981.4 1271.3h.01M981.8 1296.0h.01M982.2 1247.2h.01M982.6 1252.6h.01M983.0 1282.0h.01M983.4 1254.3h.01M983.8 1260.2h.01M984.2 1267.6h.01M984.6 1217.8h.01M985.1 1208.9h.01M985.5 1256.7h.01M985.9 1273.7h.01M986.3 1246.8h.01M986.7 1333.4h.01M987.1 1276.9h.01M987.5 1271.3h.01M987.9 1219.8h.01M988.3 1315.7h.01M988.7 1238.8h.01M989.2 1271.2h.01M989.6 1224.5h.01M990.0 1272.7h.01M990.4 1240.0h.01M990.8 1317.0h.01M991.2 1230.0h.01M991.6 1261.7h.01M992.0 1210.7h.01M992.4 1329.7h.01M992.8 1281.5h.01M993.3 1293.9h.01M993.7 1199.9h.01M994.1 1246.1h.01M994.5 1277.9h.01M994.9 1248.4h.01M995.3 1252.6h.01M995.7 1252.3h.01M996.1 1269.4h.01M996.5 1253.0h.01M996.9 1234.7h.01M997.4 1208.9h.01M997.8 1251.9h.01M998.2 1264.4h.01M998.6 1281.3h.01M999.0 1284.0h.01M999.4 1255.2h.01M999.8 1231.9h.01M1000.2 1309.2h.01M1000.6 1214.7h.01M1001.0 1300.1h.01M1001.4 1208.6h.01M1001.9 1281.6h.01M1002.3 1297.8h.01M1002.7 1277.1h.01M1003.1 1225.0h.01M1003.5 1259.0h.01M1003.9 1256.4h.01M1004.3 1255.4h.01M1004.7 1251.5h.01M1005.1 1260.2h.01M1005.5 1302.4h.01M1006.0 1250.6h.01M1006.4 1270.7h.01M1006.8 1220.3h.01M1007.2 1291.7h.01M1007.6 1326.0h.01M1008.0 1306.5h.01M1008.4 1254.3h.01M1008.8 1254.6h.01M1009.2 1304.1h.01M1009.6 1326.5h.01M1010.1 1274.8h.01M1010.5 1271.2h.01M1010.9 1270.4h.01M1011.3 1267.4h.01M1011.7 1310.1h.01M1012.1 1302.0h.01M1012.5 1224.8h.01M1012.9 1252.1h.01M1013.3 1224.9h.01M1013.7 1297.3h.01M1014.2 1225.1h.01M1014.6 1308.7h.01M1015.0 1284.4h.01M1015.4 1313.3h.01M1015.8 1251.8h.01M1016.2 1238.4h.01M1016.6 1299.9h.01M1017.0 1292.0h.01M1017.4 1283.2h.01M1017.8 1259.7h.01M1018.3 1229.6h.01M1018.7 1229.5h.01M1019.1 1257.4h.01M1019.5 1287.8h.01M1019.9 1310.0h.01M1020.3 1280.8h.01M1020.7 1311.3h.01M1021.1 1318.6h.01M1021.5 1322.8h.01M1021.9 1283.6h.01M1022.4 1273.8h.01M1022.8 1263.5h.01M1023.2 1283.6h.01M1023.6 1286.3h.01M1024.0 1314.7h.01M1024.4 1317.3h.01M1024.8 1235.2h.01M1025.2 1290.3h.01M1025.6 1278.8h.01M1026.0 1295.6h.01M1026.4 1244.5h.01M1026.9 1231.2h.01M1027.3 1300.6h.01M1027.7 1306.3h.01M1028.1 1221.5h.01M1028.5 1277.4h.01M1028.9 1282.4h.01M1029.3 1259.8h.01M1029.7 1262.5h.01M1030.1 1268.0h.01M1030.5 1220.9h.01M1031.0 1248.3h.01M1031.4 1302.1h.01M1031.8 1282.0h.01M1032.2 1277.9h.01M1032.6 1313.2h.01M1033.0 1258.7h.01M1033.4 1292.1h.01M1033.8 1266.5h.01M1034.2 1239.6h.01M1034.6 1262.9h.01M1035.1 1220.0h.01M1035.5 1271.8h.01M1035.9 1151.1h.01M1036.3 1279.9h.01M1036.7 1223.7h.01M1037.1 1125.8h.01M1037.5 1235.3h.01M1037.9 1173.8h.01M1038.3 1203.2h.01M1038.7 1270.2h.01M1039.2 1217.4h.01M1039.6 1272.5h.01M1040.0 1129.1h.01M1040.4 1162.6h.01M1040.8 1226.7h.01M1041.2 1201.7h.01M1041.6 1217.3h.01M1042.0 1167.9h.01M1042.4 1164.6h.01M1042.8 1100.1h.01M1043.3 1094.5h.01M1043.7 1099.8h.01M1044.1 1158.7h.01M1044.5 1125.8h.01M1044.9 1086.7h.01M1045.3 1184.8h.01M1045.7 1111.8h.01M1046.1 1110.6h.01M1046.5 1072.5h.01M1046.9 1065.3h.01M1047.4 1175.6h.01M1047.8 1158.1h.01M1048.2 1122.7h.01M1048.6 1128.4h.01M1049.0 1124.7h.01M1049.4 1100.2h.01M1049.8 1072.7h.01M1050.2 1106.2h.01M1050.6 1078.6h.01M1051.0 1149.1h.01M1051.5 1140.1h.01M1051.9 1065.4h.01M1052.3 1138.1h.01M1052.7 1159.5h.01M1053.1 1073.0h.01M1053.5 1162.5h.01M1053.9 1077.0h.01M1054.3 1117.3h.01M1054.7 1136.2h.01M1055.1 1151.4h.01M1055.5 1124.9h.01M1056.0 1111.1h.01M1056.4 1091.5h.01M1056.8 1174.2h.01M1057.2 1071.4h.01M1057.6 1113.1h.01M1058.0 1155.2h.01M1058.4 1082.7h.01M1058.8 1081.0h.01M1059.2 1164.3h.01M1059.6 1133.7h.01M1060.1 1120.0h.01M1060.5 1148.0h.01M1060.9 1173.3h.01M1061.3 1158.1h.01M1061.7 1166.5h.01M1062.1 1116.6h.01M1062.5 1075.6h.01M1062.9 1130.9h.01M1063.3 1067.7h.01M1063.7 1084.3h.01M1064.2 1065.3h.01M1064.6 1083.8h.01M1065.0 1094.9h.01M1065.4 1140.8h.01M1065.8 1094.9h.01M1066.2 1075.7h.01M1066.6 1175.1h.01M1067.0 1131.6h.01M1067.4 1168.4h.01M1067.8 1088.8h.01M1068.3 1169.9h.01M1068.7 1143.5h.01M1069.1 1162.5h.01M1069.5 1164.6h.01M1069.9 1181.9h.01M1070.3 1156.6h.01M1070.7 1170.7h.01M1071.1 1183.8h.01M1071.5 1138.8h.01M1071.9 1200.2h.01M1072.4 1148.3h.01M1072.8 1103.8h.01M1073.2 1193.9h.01M1073.6 1173.9h.01M1074.0 1146.8h.01M1074.4 1165.7h.01M1074.8 1170.6h.01M1075.2 1134.1h.01M1075.6 1111.2h.01M1076.0 1213.7h.01M1076.5 1116.9h.01M1076.9 1101.2h.01M1077.3 1207.7h.01M1077.7 1147.7h.01M1078.1 1179.3h.01M1078.5 1170.0h.01M1078.9 1166.4h.01M1079.3 1183.7h.01M1079.7 1123.1h.01M1080.1 1117.1h.01M1080.6 1118.9h.01M1081.0 1167.9h.01M1081.4 1206.3h.01M1081.8 1115.3h.01M1082.2 1137.5h.01M1082.6 1109.7h.01M1083.0 1168.1h.01M1083.4 1110.4h.01M1083.8 1130.5h.01M1084.2 1138.4h.01M1084.6 1129.2h.01M1085.1 1100.4h.01M1085.5 1202.9h.01M1085.9 1172.2h.01M1086.3 1110.9h.01M1086.7 1167.9h.01M1087.1 1171.5h.01M1087.5 1137.9h.01M1087.9 1130.5h.01M1088.3 1130.9h.01M1088.7 1166.1h.01M1089.2 1200.0h.01M1089.6 1120.2h.01M1090.0 1120.2h.01M1090.4 1104.3h.01M1090.8 1155.8h.01M1091.2 1189.1h.01M1091.6 1107.3h.01M1092.0 1146.2h.01M1092.4 1156.9h.01M1092.8 1168.9h.01M1093.3 1156.2h.01M1093.7 1150.4h.01M1094.1 1127.2h.01M1094.5 1154.5h.01M1094.9 1120.0h.01M1095.3 1106.7h.01M1095.7 1145.3h.01M1096.1 1144.4h.01M1096.5 1136.6h.01M1096.9 1193.5h.01M1097.4 1137.4h.01M1097.8 1123.4h.01M1098.2 1198.8h.01M1098.6 1156.3h.01M1099.0 1126.8h.01M1099.4 1138.3h.01M1099.8 1215.2h.01M1100.2 1169.2h.01M1100.6 1147.3h.01M1101.0 1154.3h.01M1101.5 1136.6h.01M1101.9 1158.7h.01M1102.3 1212.8h.01M1102.7 1207.2h.01M1103.1 1210.0h.01M1103.5 1132.2h.01M1103.9 1176.1h.01M1104.3 1135.0h.01M1104.7 1160.2h.01M1105.1 1131.1h.01M1105.6 1186.8h.01M1106.0 1180.4h.01M1106.4 1155.7h.01M1106.8 1183.2h.01M1107.2 1208.6h.01M1107.6 1167.4h.01M1108.0 1162.4h.01M1108.4 1209.8h.01M1108.8 1137.0h.01M1109.2 1158.4h.01M1109.7 1172.2h.01M1110.1 1162.2h.01M1110.5 1164.7h.01M1110.9 1153.6h.01M1111.3 1181.2h.01M1111.7 1209.2h.01M1112.1 1135.4h.01M1112.5 1138.2h.01M1112.9 1154.4h.01M1113.3 1138.7h.01M1113.7 1193.6h.01M1114.2 1133.9h.01M1114.6 1226.1h.01M1115.0 1135.2h.01M1115.4 1213.4h.01M1115.8 1181.0h.01M1116.2 1157.2h.01M1116.6 1148.9h.01M1117.0 1152.5h.01M1117.4 1176.4h.01M1117.8 1179.2h.01M1118.3 1163.8h.01M1118.7 1149.6h.01M1119.1 1206.7h.01M1119.5 1171.3h.01M1119.9 1183.3h.01M1120.3 1157.0h.01M1120.7 1149.2h.01M1121.1 1184.4h.01M1121.5 1157.6h.01M1121.9 1185.6h.01M1122.4 1190.2h.01M1122.8 1180.3h.01M1123.2 1211.4h.01M1123.6 1255.5h.01M1124.0 1222.4h.01M1124.4 1170.0h.01M1124.8 1197.4h.01M1125.2 1183.8h.01M1125.6 1262.5h.01M1126.0 1219.1h.01M1126.5 1190.6h.01M1126.9 1164.0h.01M1127.3 1165.2h.01M1127.7 1269.8h.01M1128.1 1196.3h.01M1128.5 1277.7h.01M1128.9 1223.2h.01M1129.3 1238.0h.01M1129.7 1262.2h.01M1130.1 1181.6h.01M1130.6 1186.4h.01M1131.0 1245.1h.01M1131.4 1211.5h.01M1131.8 1218.6h.01M1132.2 1257.5h.01M1132.6 1213.3h.01M1133.0 1232.5h.01M1133.4 1292.2h.01M1133.8 1210.7h.01M1134.2 1223.2h.01M1134.7 1194.7h.01M1135.1 1299.5h.01M1135.5 1210.9h.01M1135.9 1236.5h.01M1136.3 1225.8h.01M1136.7 1238.2h.01M1137.1 1233.8h.01M1137.5 1211.0h.01M1137.9 1300.1h.01M1138.3 1348.4h.01M1138.8 1300.9h.01M1139.2 1197.5h.01M1139.6 1190.7h.01M1140.0 1189.9h.01M1140.4 1219.5h.01M1140.8 1214.9h.01M1141.2 1225.1h.01M1141.6 1226.2h.01M1142.0 1249.2h.01M1142.4 1282.6h.01M1142.8 1291.3h.01M1143.3 1340.9h.01M1143.7 1190.3h.01M1144.1 1269.1h.01M1144.5 1199.1h.01M1144.9 1243.7h.01M1145.3 1281.3h.01M1145.7 1217.8h.01M1146.1 1196.9h.01M1146.5 1226.5h.01M1146.9 1200.1h.01M1147.4 1205.7h.01M1147.8 1269.9h.01M1148.2 1289.8h.01M1148.6 1230.4h.01M1149.0 1259.6h.01M1149.4 1249.7h.01M1149.8 1236.6h.01M1150.2 1280.6h.01M1150.6 1241.0h.01M1151.0 1223.7h.01M1151.5 1280.0h.01M1151.9 1242.3h.01M1152.3 1308.0h.01M1152.7 1335.5h.01M1153.1 1297.8h.01M1153.5 1279.9h.01M1153.9 1230.4h.01M1154.3 1220.7h.01M1154.7 1240.1h.01M1155.1 1324.0h.01M1155.6 1298.7h.01M1156.0 1296.9h.01M1156.4 1318.6h.01M1156.8 1281.9h.01M1157.2 1322.3h.01M1157.6 1300.6h.01M1158.0 1313.7h.01M1158.4 1233.3h.01M1158.8 1247.1h.01M1159.2 1294.0h.01M1159.7 1246.1h.01M1160.1 1262.2h.01M1160.5 1233.1h.01M1160.9 1232.7h.01M1161.3 1333.9h.01M1161.7 1240.2h.01M1162.1 1237.2h.01M1162.5 1233.1h.01M1162.9 1271.6h.01M1163.3 1256.6h.01M1163.8 1294.8h.01M1164.2 1314.7h.01M1164.6 1228.4h.01M1165.0 1222.4h.01M1165.4 1226.4h.01M1165.8 1279.5h.01M1166.2 1279.3h.01M1166.6 1298.1h.01M1167.0 1223.6h.01M1167.4 1276.4h.01M1167.8 1252.5h.01M1168.3 1254.1h.01M1168.7 1293.5h.01M1169.1 1267.3h.01M1169.5 1225.2h.01M1169.9 1249.0h.01M1170.3 1305.9h.01M1170.7 1186.7h.01M1171.1 1219.0h.01M1171.5 1247.9h.01M1171.9 1190.6h.01M1172.4 1253.4h.01M1172.8 1204.6h.01M1173.2 1167.9h.01M1173.6 1216.2h.01M1174.0 1218.9h.01M1174.4 1191.3h.01M1174.8 1169.4h.01M1175.2 1240.4h.01M1175.6 1222.3h.01M1176.0 1187.9h.01M1176.5 1208.0h.01M1176.9 1171.1h.01M1177.3 1204.6h.01M1177.7 1180.8h.01M1178.1 1235.7h.01M1178.5 1223.2h.01M1178.9 1229.4h.01M1179.3 1208.1h.01M1179.7 1155.3h.01M1180.1 1252.2h.01M1180.6 1262.9h.01M1181.0 1242.2h.01M1181.4 1214.4h.01M1181.8 1242.6h.01M1182.2 1205.6h.01M1182.6 1185.9h.01M1183.0 1201.2h.01M1183.4 1200.1h.01M1183.8 1227.5h.01M1184.2 1245.3h.01M1184.7 1209.3h.01M1185.1 1245.4h.01M1185.5 1151.3h.01M1185.9 1204.9h.01M1186.3 1167.9h.01M1186.7 1221.6h.01M1187.1 1251.5h.01M1187.5 1153.8h.01M1187.9 1236.0h.01M1188.3 1146.6h.01M1188.8 1219.1h.01M1189.2 1183.6h.01M1189.6 1166.7h.01M1190.0 1186.1h.01M1190.4 1174.7h.01M1190.8 1248.3h.01M1191.2 1109.4h.01M1191.6 1170.3h.01M1192.0 1185.5h.01M1192.4 1238.9h.01M1192.9 1206.6h.01M1193.3 1193.9h.01M1193.7 1224.0h.01M1194.1 1226.6h.01M1194.5 1166.3h.01M1194.9 1191.0h.01M1195.3 1132.7h.01M1195.7 1191.5h.01M1196.1 1140.3h.01M1196.5 1181.3h.01M1196.9 1172.3h.01M1197.4 1222.5h.01M1197.8 1094.8h.01M1198.2 1162.5h.01M1198.6 1172.5h.01M1199.0 1144.9h.01M1199.4 1196.1h.01M1199.8 1121.8h.01M1200.2 1176.7h.01M1200.6 1107.3h.01M1201.0 1214.2h.01M1201.5 1236.5h.01M1201.9 1099.7h.01M1202.3 1132.5h.01M1202.7 1126.5h.01M1203.1 1181.0h.01M1203.5 1112.9h.01M1203.9 1174.3h.01M1204.3 1118.3h.01M1204.7 1191.9h.01M1205.1 1196.0h.01M1205.6 1248.3h.01M1206.0 1164.0h.01M1206.4 1148.4h.01M1206.8 1256.1h.01M1207.2 1156.1h.01M1207.6 1252.7h.01M1208.0 1211.7h.01M1208.4 1190.8h.01M1208.8 1102.2h.01M1209.2 1165.7h.01M1209.7 1129.6h.01M1210.1 1165.7h.01M1210.5 1148.5h.01M1210.9 1088.7h.01M1211.3 1105.5h.01M1211.7 1144.5h.01M1212.1 1084.3h.01M1212.5 1132.8h.01M1212.9 1115.9h.01M1213.3 1121.0h.01M1213.8 1095.0h.01M1214.2 1168.4h.01M1214.6 1091.7h.01M1215.0 1155.6h.01M1215.4 1143.9h.01M1215.8 1181.5h.01M1216.2 1141.9h.01M1216.6 1170.7h.01M1217.0 1139.1h.01M1217.4 1144.2h.01M1217.9 1131.9h.01M1218.3 1135.1h.01M1218.7 1162.0h.01M1219.1 1188.1h.01M1219.5 1107.3h.01M1219.9 1159.5h.01M1220.3 1167.0h.01M1220.7 1165.8h.01M1221.1 1132.4h.01M1221.5 1101.2h.01M1222.0 1185.0h.01M1222.4 1194.3h.01M1222.8 1135.7h.01M1223.2 1198.0h.01M1223.6 1218.9h.01M1224.0 1181.9h.01M1224.4 1231.9h.01M1224.8 1206.5h.01M1225.2 1122.4h.01M1225.6 1221.6h.01M1226.0 1239.8h.01M1226.5 1129.7h.01M1226.9 1220.5h.01M1227.3 1225.2h.01M1227.7 1180.7h.01M1228.1 1232.9h.01M1228.5 1199.2h.01M1228.9 1219.3h.01M1229.3 1190.1h.01M1229.7 1236.2h.01M1230.1 1270.6h.01M1230.6 1182.0h.01M1231.0 1204.2h.01M1231.4 1172.1h.01M1231.8 1174.6h.01M1232.2 1233.5h.01M1232.6 1211.4h.01M1233.0 1163.6h.01M1233.4 1216.0h.01M1233.8 1184.5h.01M1234.2 1246.8h.01M1234.7 1168.2h.01M1235.1 1216.5h.01M1235.5 1245.0h.01M1235.9 1233.6h.01M1236.3 1238.2h.01M1236.7 1250.2h.01M1237.1 1263.8h.01M1237.5 1171.8h.01M1237.9 1207.5h.01M1238.3 1245.8h.01M1238.8 1222.2h.01M1239.2 1171.5h.01M1239.6 1196.8h.01M1240.0 1262.0h.01M1240.4 1183.2h.01M1240.8 1240.5h.01M1241.2 1200.7h.01M1241.6 1212.3h.01M1242.0 1221.8h.01M1242.4 1196.3h.01M1242.9 1232.7h.01M1243.3 1274.5h.01M1243.7 1223.0h.01M1244.1 1273.1h.01M1244.5 1252.5h.01M1244.9 1242.0h.01M1245.3 1219.4h.01M1245.7 1209.7h.01M1246.1 1198.0h.01M1246.5 1241.7h.01M1247.0 1268.5h.01M1247.4 1187.0h.01M1247.8 1216.6h.01M1248.2 1195.7h.01M1248.6 1256.1h.01M1249.0 1198.1h.01M1249.4 1244.3h.01M1249.8 1207.1h.01M1250.2 1207.1h.01M1250.6 1221.4h.01M1251.1 1265.6h.01M1251.5 1259.4h.01M1251.9 1193.0h.01M1252.3 1218.7h.01M1252.7 1184.2h.01M1253.1 1263.9h.01M1253.5 1192.6h.01M1253.9 1195.9h.01M1254.3 1282.8h.01M1254.7 1230.3h.01M1255.1 1230.3h.01M1255.6 1186.8h.01M1256.0 1186.4h.01M1256.4 1185.0h.01M1256.8 1239.9h.01M1257.2 1236.9h.01M1257.6 1181.4h.01M1258.0 1171.4h.01M1258.4 1254.5h.01M1258.8 1214.6h.01M1259.2 1264.1h.01M1259.7 1156.3h.01M1260.1 1248.7h.01M1260.5 1212.1h.01M1260.9 1227.2h.01M1261.3 1201.3h.01M1261.7 1168.7h.01M1262.1 1212.8h.01M1262.5 1216.5h.01M1262.9 1146.7h.01M1263.3 1148.5h.01M1263.8 1247.2h.01M1264.2 1176.1h.01M1264.6 1238.5h.01M1265.0 1240.7h.01M1265.4 1262.0h.01M1265.8 1210.2h.01M1266.2 1183.2h.01M1266.6 1252.3h.01M1267.0 1240.8h.01M1267.4 1260.4h.01M1267.9 1156.4h.01M1268.3 1164.2h.01M1268.7 1232.9h.01M1269.1 1141.0h.01M1269.5 1259.4h.01M1269.9 1192.7h.01M1270.3 1218.0h.01M1270.7 1210.3h.01M1271.1 1230.1h.01M1271.5 1196.6h.01M1272.0 1152.1h.01M1272.4 1220.9h.01M1272.8 1144.8h.01M1273.2 1213.3h.01M1273.6 1192.4h.01M1274.0 1173.2h.01M1274.4 1205.9h.01M1274.8 1300.5h.01M1275.2 1229.3h.01M1275.6 1191.6h.01M1276.1 1223.5h.01M1276.5 1194.7h.01M1276.9 1272.7h.01M1277.3 1218.2h.01M1277.7 1222.5h.01M1278.1 1208.8h.01M1278.5 1239.1h.01M1278.9 1309.7h.01M1279.3 1212.8h.01M1279.7 1267.1h.01M1280.2 1241.6h.01M1280.6 1267.3h.01M1281.0 1333.3h.01M1281.4 1329.2h.01M1281.8 1330.6h.01M1282.2 1310.1h.01M1282.6 1291.9h.01M1283.0 1330.4h.01M1283.4 1323.2h.01M1283.8 1315.8h.01M1284.2 1320.2h.01M1284.7 1277.4h.01M1285.1 1291.9h.01M1285.5 1346.6h.01M1285.9 1340.6h.01M1286.3 1290.7h.01M1286.7 1319.4h.01M1287.1 1337.6h.01M1287.5 1327.2h.01M1287.9 1357.7h.01M1288.3 1335.9h.01M1288.8 1297.4h.01M1289.2 1268.9h.01M1289.6 1335.8h.01M1290.0 1250.5h.01M1290.4 1296.3h.01M1290.8 1310.7h.01M1291.2 1296.9h.01M1291.6 1311.6h.01M1292.0 1276.9h.01M1292.4 1270.5h.01M1292.9 1312.9h.01M1293.3 1328.1h.01M1293.7 1303.1h.01M1294.1 1287.6h.01M1294.5 1330.6h.01M1294.9 1254.6h.01M1295.3 1271.5h.01M1295.7 1326.5h.01M1296.1 1285.0h.01M1296.5 1284.8h.01M1297.0 1286.6h.01M1297.4 1276.8h.01M1297.8 1242.8h.01M1298.2 1263.7h.01M1298.6 1246.2h.01M1299.0 1268.7h.01M1299.4 1322.4h.01M1299.8 1296.6h.01M1300.2 1324.3h.01M1300.6 1292.3h.01M1301.1 1351.6h.01M1301.5 1281.8h.01M1301.9 1345.9h.01M1302.3 1263.2h.01M1302.7 1291.8h.01M1303.1 1340.4h.01M1303.5 1273.2h.01M1303.9 1308.7h.01M1304.3 1279.3h.01M1304.7 1301.7h.01M1305.2 1300.4h.01M1305.6 1276.3h.01M1306.0 1263.4h.01M1306.4 1304.8h.01M1306.8 1294.3h.01M1307.2 1254.4h.01M1307.6 1294.5h.01M1308.0 1289.3h.01M1308.4 1295.0h.01M1308.8 1309.4h.01M1309.2 1318.2h.01M1309.7 1263.3h.01M1310.1 1276.3h.01M1310.5 1309.6h.01M1310.9 1301.7h.01M1311.3 1300.1h.01M1311.7 1332.1h.01M1312.1 1319.5h.01M1312.5 1347.0h.01M1312.9 1314.5h.01M1313.3 1336.4h.01M1313.8 1314.2h.01M1314.2 1278.5h.01M1314.6 1252.4h.01M1315.0 1332.8h.01M1315.4 1271.8h.01M1315.8 1322.5h.01M1316.2 1284.6h.01M1316.6 1311.4h.01M1317.0 1337.2h.01M1317.4 1260.3h.01M1317.9 1257.8h.01M1318.3 1258.1h.01M1318.7 1262.7h.01M1319.1 1273.9h.01M1319.5 1258.7h.01M1319.9 1319.6h.01M1320.3 1333.4h.01M1320.7 1337.9h.01M1321.1 1286.8h.01M1321.5 1331.9h.01M1322.0 1247.4h.01M1322.4 1262.1h.01M1322.8 1240.6h.01M1323.2 1264.6h.01M1323.6 1307.0h.01M1324.0 1292.9h.01M1324.4 1276.7h.01M1324.8 1243.1h.01M1325.2 1265.6h.01M1325.6 1309.1h.01M1326.1 1309.8h.01M1326.5 1330.6h.01M1326.9 1325.5h.01M1327.3 1276.8h.01M1327.7 1299.3h.01M1328.1 1327.3h.01M1328.5 1287.6h.01M1328.9 1320.9h.01M1329.3 1322.2h.01M1329.7 1312.2h.01M1330.2 1280.6h.01M1330.6 1258.4h.01M1331.0 1296.3h.01M1331.4 1307.5h.01M1331.8 1292.2h.01M1332.2 1263.0h.01M1332.6 1240.1h.01M1333.0 1220.8h.01M1333.4 1270.7h.01M1333.8 1244.2h.01M1334.3 1211.6h.01M1334.7 1245.7h.01M1335.1 1251.7h.01M1335.5 1300.2h.01M1335.9 1259.5h.01M1336.3 1221.1h.01M1336.7 1259.7h.01M1337.1 1250.3h.01M1337.5 1248.4h.01M1337.9 1286.5h.01M1338.3 1171.2h.01M1338.8 1270.5h.01M1339.2 1266.9h.01M1339.6 1232.1h.01M1340.0 1221.7h.01M1340.4 1159.4h.01M1340.8 1281.4h.01M1341.2 1259.8h.01M1341.6 1269.0h.01M1342.0 1169.1h.01M1342.4 1255.1h.01M1342.9 1198.2h.01M1343.3 1258.6h.01M1343.7 1219.7h.01M1344.1 1255.9h.01M1344.5 1236.2h.01M1344.9 1266.5h.01M1345.3 1190.7h.01M1345.7 1269.1h.01M1346.1 1190.7h.01M1346.5 1223.0h.01M1347.0 1209.0h.01M1347.4 1255.1h.01M1347.8 1158.6h.01M1348.2 1190.0h.01M1348.6 1179.2h.01M1349.0 1269.0h.01M1349.4 1259.7h.01M1349.8 1239.5h.01M1350.2 1248.9h.01M1350.6 1218.6h.01M1351.1 1218.7h.01M1351.5 1255.2h.01M1351.9 1244.1h.01M1352.3 1211.4h.01M1352.7 1249.1h.01M1353.1 1167.4h.01M1353.5 1166.4h.01M1353.9 1245.6h.01M1354.3 1283.9h.01M1354.7 1228.2h.01M1355.2 1151.4h.01M1355.6 1271.3h.01M1356.0 1272.8h.01M1356.4 1266.8h.01M1356.8 1229.3h.01M1357.2 1245.0h.01M1357.6 1234.0h.01M1358.0 1259.2h.01M1358.4 1206.5h.01M1358.8 1236.7h.01M1359.3 1269.0h.01M1359.7 1198.8h.01M1360.1 1268.1h.01M1360.5 1248.8h.01M1360.9 1268.3h.01M1361.3 1209.9h.01M1361.7 1219.5h.01M1362.1 1239.5h.01M1362.5 1253.5h.01M1362.9 1216.0h.01M1363.4 1226.3h.01M1363.8 1248.6h.01M1364.2 1246.4h.01M1364.6 1307.1h.01M1365.0 1290.9h.01M1365.4 1252.3h.01M1365.8 1251.3h.01M1366.2 1294.4h.01M1366.6 1227.8h.01M1367.0 1238.2h.01M1367.4 1288.8h.01M1367.9 1200.1h.01M1368.3 1197.8h.01M1368.7 1273.5h.01M1369.1 1201.4h.01M1369.5 1231.0h.01M1369.9 1202.4h.01M1370.3 1200.3h.01M1370.7 1158.3h.01M1371.1 1253.8h.01M1371.5 1194.3h.01M1372.0 1162.5h.01M1372.4 1225.5h.01M1372.8 1254.6h.01M1373.2 1263.5h.01M1373.6 1209.8h.01M1374.0 1262.7h.01M1374.4 1199.8h.01M1374.8 1184.3h.01M1375.2 1243.7h.01M1375.6 1255.9h.01M1376.1 1231.8h.01M1376.5 1252.0h.01M1376.9 1169.4h.01M1377.3 1244.4h.01M1377.7 1257.2h.01M1378.1 1199.6h.01M1378.5 1239.3h.01M1378.9 1180.8h.01M1379.3 1221.6h.01M1379.7 1285.8h.01M1380.2 1210.7h.01M1380.6 1174.3h.01M1381.0 1207.7h.01M1381.4 1263.3h.01M1381.8 1208.2h.01M1382.2 1268.9h.01M1382.6 1215.5h.01M1383.0 1208.5h.01M1383.4 1233.1h.01M1383.8 1277.4h.01M1384.3 1191.0h.01M1384.7 1187.3h.01M1385.1 1247.9h.01M1385.5 1190.7h.01M1385.9 1188.3h.01M1386.3 1231.4h.01M1386.7 1203.9h.01M1387.1 1279.8h.01M1387.5 1261.9h.01M1387.9 1275.2h.01M1388.4 1274.1h.01M1388.8 1281.0h.01M1389.2 1261.1h.01M1389.6 1269.6h.01M1390.0 1269.6h.01M1390.4 1179.6h.01M1390.8 1211.5h.01M1391.2 1210.9h.01M1391.6 1177.5h.01M1392.0 1269.2h.01M1392.5 1186.5h.01M1392.9 1200.5h.01M1393.3 1254.3h.01M1393.7 1249.7h.01M1394.1 1210.8h.01M1394.5 1273.8h.01M1394.9 1245.2h.01M1395.3 1218.1h.01M1395.7 1209.5h.01M1396.1 1203.4h.01M1396.5 1220.7h.01M1397.0 1250.2h.01M1397.4 1312.9h.01M1397.8 1267.8h.01M1398.2 1233.7h.01M1398.6 1290.8h.01M1399.0 1265.4h.01M1399.4 1264.9h.01M1399.8 1266.1h.01M1400.2 1282.2h.01M1400.6 1239.8h.01M1401.1 1272.5h.01M1401.5 1265.9h.01M1401.9 1235.9h.01M1402.3 1260.4h.01M1402.7 1303.6h.01M1403.1 1310.6h.01M1403.5 1252.3h.01M1403.9 1280.7h.01M1404.3 1252.0h.01M1404.7 1242.3h.01M1405.2 1267.3h.01M1405.6 1284.7h.01M1406.0 1216.6h.01M1406.4 1229.0h.01M1406.8 1217.5h.01M1407.2 1262.8h.01M1407.6 1258.4h.01M1408.0 1266.0h.01M1408.4 1226.6h.01M1408.8 1233.8h.01M1409.3 1291.4h.01M1409.7 1281.8h.01M1410.1 1228.8h.01M1410.5 1307.1h.01M1410.9 1250.1h.01M1411.3 1264.9h.01M1411.7 1252.8h.01M1412.1 1238.0h.01M1412.5 1299.4h.01M1412.9 1306.6h.01M1413.4 1292.6h.01M1413.8 1259.4h.01M1414.2 1258.6h.01M1414.6 1258.6h.01M1415.0 1248.2h.01M1415.4 1270.0h.01M1415.8 1278.9h.01M1416.2 1295.4h.01M1416.6 1235.0h.01M1417.0 1244.5h.01M1417.5 1311.2h.01M1417.9 1311.7h.01M1418.3 1310.3h.01M1418.7 1305.1h.01M1419.1 1287.0h.01M1419.5 1268.1h.01M1419.9 1304.3h.01M1420.3 1252.9h.01M1420.7 1296.6h.01M1421.1 1316.0h.01M1421.6 1263.9h.01M1422.0 1303.5h.01M1422.4 1253.5h.01M1422.8 1255.3h.01M1423.2 1271.6h.01M1423.6 1286.5h.01M1424.0 1280.9h.01M1424.4 1292.4h.01M1424.8 1303.9h.01M1425.2 1313.9h.01M1425.6 1312.8h.01M1426.1 1294.0h.01M1426.5 1327.9h.01M1426.9 1304.5h.01M1427.3 1293.5h.01M1427.7 1271.2h.01M1428.1 1287.5h.01M1428.5 1333.6h.01M1428.9 1309.2h.01M1429.3 1266.2h.01M1429.7 1301.2h.01M1430.2 1261.3h.01M1430.6 1338.7h.01M1431.0 1338.1h.01M1431.4 1283.0h.01M1431.8 1313.4h.01M1432.2 1319.9h.01M1432.6 1305.7h.01M1433.0 1344.2h.01M1433.4 1309.8h.01M1433.8 1293.3h.01M1434.3 1307.5h.01M1434.7 1315.3h.01M1435.1 1339.0h.01M1435.5 1314.2h.01M1435.9 1324.4h.01M1436.3 1316.8h.01M1436.7 1293.7h.01M1437.1 1293.6h.01M1437.5 1290.3h.01M1437.9 1311.9h.01M1438.4 1310.7h.01M1438.8 1350.2h.01M1439.2 1323.9h.01M1439.6 1332.1h.01M1440.0 1342.1h.01M1440.4 1325.4h.01M1440.8 1318.2h.01M1441.2 1294.4h.01M1441.6 1295.7h.01M1442.0 1319.6h.01M1442.5 1305.5h.01M1442.9 1299.0h.01M1443.3 1334.7h.01M1443.7 1344.7h.01M1444.1 1349.6h.01M1444.5 1334.1h.01M1444.9 1362.9h.01M1445.3 1365.4h.01M1445.7 1346.8h.01M1446.1 1314.9h.01M1446.6 1338.2h.01M1447.0 1307.0h.01M1447.4 1338.1h.01M1447.8 1374.1h.01M1448.2 1323.2h.01M1448.6 1366.0h.01M1449.0 1334.6h.01M1449.4 1310.2h.01M1449.8 1318.3h.01M1450.2 1322.9h.01M1450.6 1324.7h.01M1451.1 1318.8h.01M1451.5 1296.0h.01M1451.9 1326.3h.01M1452.3 1341.5h.01M1452.7 1316.5h.01M1453.1 1325.0h.01M1453.5 1353.2h.01M1453.9 1304.7h.01M1454.3 1317.0h.01M1454.7 1348.6h.01M1455.2 1280.8h.01M1455.6 1351.3h.01M1456.0 1304.5h.01M1456.4 1288.6h.01M1456.8 1302.6h.01M1457.2 1337.8h.01M1457.6 1278.9h.01M1458.0 1291.9h.01M1458.4 1323.4h.01M1458.8 1282.8h.01M1459.3 1293.4h.01M1459.7 1322.4h.01M1460.1 1303.0h.01M1460.5 1284.6h.01M1460.9 1340.8h.01M1461.3 1295.5h.01M1461.7 1280.9h.01M1462.1 1323.4h.01M1462.5 1351.5h.01M1462.9 1304.5h.01M1463.4 1273.9h.01M1463.8 1329.8h.01M1464.2 1282.0h.01M1464.6 1300.0h.01M1465.0 1282.9h.01M1465.4 1339.8h.01M1465.8 1280.3h.01M1466.2 1297.6h.01M1466.6 1278.6h.01M1467.0 1316.4h.01M1467.5 1359.6h.01M1467.9 1345.4h.01M1468.3 1272.4h.01M1468.7 1281.8h.01M1469.1 1347.2h.01M1469.5 1292.1h.01M1469.9 1330.6h.01M1470.3 1307.3h.01M1470.7 1300.5h.01M1471.1 1330.0h.01M1471.6 1294.7h.01M1472.0 1284.7h.01M1472.4 1285.7h.01M1472.8 1315.1h.01M1473.2 1309.1h.01M1473.6 1302.0h.01M1474.0 1279.7h.01M1474.4 1279.6h.01M1474.8 1291.5h.01M1475.2 1302.8h.01M1475.7 1290.7h.01M1476.1 1311.7h.01M1476.5 1311.9h.01M1476.9 1274.9h.01M1477.3 1284.3h.01M1477.7 1310.7h.01M1478.1 1315.9h.01M1478.5 1298.6h.01M1478.9 1300.3h.01M1479.3 1316.8h.01M1479.7 1284.8h.01M1480.2 1287.9h.01M1480.6 1287.4h.01M1481.0 1294.4h.01M1481.4 1269.2h.01M1481.8 1277.8h.01M1482.2 1278.9h.01M1482.6 1274.8h.01M1483.0 1275.2h.01M1483.4 1261.1h.01M1483.8 1291.9h.01M1484.3 1273.7h.01M1484.7 1291.6h.01M1485.1 1245.6h.01M1485.5 1269.0h.01M1485.9 1263.4h.01M1486.3 1284.1h.01M1486.7 1291.7h.01M1487.1 1251.8h.01M1487.5 1241.7h.01M1487.9 1268.1h.01M1488.4 1275.9h.01M1488.8 1252.5h.01M1489.2 1302.5h.01M1489.6 1292.9h.01M1490.0 1268.9h.01M1490.4 1245.5h.01M1490.8 1243.7h.01M1491.2 1299.8h.01M1491.6 1264.8h.01M1492.0 1261.1h.01M1492.5 1284.2h.01M1492.9 1266.1h.01M1493.3 1298.0h.01M1493.7 1258.4h.01M1494.1 1258.0h.01M1494.5 1261.0h.01M1494.9 1277.4h.01M1495.3 1276.9h.01M1495.7 1285.3h.01M1496.1 1274.8h.01M1496.6 1262.6h.01M1497.0 1257.5h.01M1497.4 1299.6h.01M1497.8 1264.0h.01M1498.2 1270.2h.01M1498.6 1274.8h.01M1499.0 1285.1h.01M1499.4 1276.3h.01M1499.8 1275.8h.01M1500.2 1292.0h.01M1500.7 1268.6h.01M1501.1 1271.9h.01M1501.5 1304.7h.01M1501.9 1278.8h.01M1502.3 1306.4h.01M1502.7 1262.6h.01M1503.1 1270.7h.01M1503.5 1252.6h.01M1503.9 1306.4h.01M1504.3 1261.9h.01M1504.8 1289.7h.01M1505.2 1248.6h.01M1505.6 1271.5h.01M1506.0 1257.9h.01M1506.4 1301.8h.01M1506.8 1259.7h.01M1507.2 1306.7h.01M1507.6 1284.1h.01M1508.0 1280.0h.01M1508.4 1290.7h.01M1508.8 1295.7h.01M1509.3 1247.3h.01M1509.7 1296.4h.01M1510.1 1288.9h.01M1510.5 1297.9h.01M1510.9 1277.9h.01M1511.3 1285.8h.01M1511.7 1277.4h.01M1512.1 1287.9h.01M1512.5 1261.5h.01M1512.9 1319.2h.01M1513.4 1275.3h.01M1513.8 1297.6h.01M1514.2 1306.2h.01M1514.6 1278.6h.01M1515.0 1268.4h.01M1515.4 1320.8h.01M1515.8 1304.4h.01M1516.2 1290.1h.01M1516.6 1287.4h.01M1517.0 1268.2h.01M1517.5 1285.2h.01M1517.9 1297.3h.01M1518.3 1311.0h.01M1518.7 1271.4h.01M1519.1 1326.4h.01M1519.5 1337.3h.01M1519.9 1298.4h.01M1520.3 1338.1h.01M1520.7 1287.6h.01M1521.1 1286.5h.01M1521.6 1327.7h.01M1522.0 1286.0h.01M1522.4 1290.7h.01M1522.8 1307.2h.01M1523.2 1301.1h.01M1523.6 1295.4h.01M1524.0 1297.7h.01M1524.4 1331.1h.01M1524.8 1273.7h.01M1525.2 1273.1h.01M1525.7 1301.1h.01M1526.1 1286.8h.01M1526.5 1285.1h.01M1526.9 1285.3h.01M1527.3 1282.8h.01M1527.7 1325.7h.01M1528.1 1311.1h.01M1528.5 1295.7h.01M1528.9 1314.7h.01M1529.3 1311.1h.01M1529.8 1308.8h.01M1530.2 1282.2h.01M1530.6 1271.5h.01M1531.0 1297.7h.01M1531.4 1292.3h.01M1531.8 1301.9h.01M1532.2 1273.5h.01M1532.6 1295.5h.01M1533.0 1315.4h.01M1533.4 1318.8h.01M1533.9 1312.9h.01M1534.3 1332.5h.01M1534.7 1329.3h.01M1535.1 1299.5h.01M1535.5 1308.9h.01M1535.9 1273.2h.01M1536.3 1335.6h.01M1536.7 1335.8h.01M1537.1 1301.2h.01M1537.5 1282.3h.01M1537.9 1298.9h.01M1538.4 1283.3h.01M1538.8 1307.5h.01M1539.2 1334.0h.01M1539.6 1286.0h.01M1540.0 1305.3h.01M1540.4 1316.2h.01M1540.8 1295.0h.01M1541.2 1306.5h.01M1541.6 1303.0h.01M1542.0 1319.9h.01M1542.5 1290.3h.01M1542.9 1285.4h.01M1543.3 1333.2h.01M1543.7 1306.8h.01M1544.1 1294.4h.01M1544.5 1294.9h.01M1544.9 1282.4h.01M1545.3 1295.2h.01M1545.7 1292.2h.01M1546.1 1273.9h.01M1546.6 1298.8h.01M1547.0 1311.8h.01M1547.4 1320.8h.01M1547.8 1320.3h.01M1548.2 1282.3h.01M1548.6 1279.8h.01M1549.0 1302.9h.01M1549.4 1306.9h.01M1549.8 1274.3h.01M1550.2 1314.5h.01M1550.7 1261.0h.01M1551.1 1288.7h.01M1551.5 1296.7h.01M1551.9 1284.2h.01M1552.3 1255.3h.01M1552.7 1256.3h.01M1553.1 1276.4h.01M1553.5 1305.0h.01M1553.9 1324.0h.01M1554.3 1301.7h.01M1554.8 1273.3h.01M1555.2 1262.7h.01M1555.6 1325.6h.01M1556.0 1268.4h.01M1556.4 1262.1h.01M1556.8 1298.8h.01M1557.2 1256.3h.01M1557.6 1308.2h.01M1558.0 1284.4h.01M1558.4 1312.2h.01M1558.9 1314.1h.01M1559.3 1283.8h.01M1559.7 1314.5h.01M1560.1 1267.3h.01M1560.5 1297.3h.01M1560.9 1264.0h.01M1561.3 1242.9h.01M1561.7 1276.3h.01M1562.1 1252.0h.01M1562.5 1315.6h.01M1563.0 1258.2h.01M1563.4 1253.0h.01M1563.8 1250.5h.01M1564.2 1299.5h.01M1564.6 1321.2h.01M1565.0 1251.7h.01M1565.4 1285.8h.01M1565.8 1325.7h.01M1566.2 1286.7h.01M1566.6 1267.2h.01M1567.0 1274.3h.01M1567.5 1303.3h.01M1567.9 1306.5h.01M1568.3 1280.4h.01M1568.7 1314.6h.01M1569.1 1274.9h.01M1569.5 1290.0h.01M1569.9 1284.3h.01M1570.3 1264.4h.01M1570.7 1310.5h.01M1571.1 1348.1h.01M1571.6 1288.5h.01M1572.0 1304.3h.01M1572.4 1325.9h.01M1572.8 1286.6h.01M1573.2 1323.3h.01M1573.6 1317.7h.01M1574.0 1346.9h.01M1574.4 1309.4h.01M1574.8 1293.3h.01M1575.2 1307.6h.01M1575.7 1297.2h.01M1576.1 1323.7h.01M1576.5 1310.3h.01M1576.9 1312.2h.01M1577.3 1321.8h.01M1577.7 1317.6h.01M1578.1 1295.8h.01M1578.5 1352.4h.01M1578.9 1328.5h.01M1579.3 1340.3h.01M1579.8 1334.1h.01M1580.2 1324.2h.01M1580.6 1346.7h.01M1581.0 1312.7h.01M1581.4 1328.0h.01M1581.8 1347.9h.01M1582.2 1331.2h.01M1582.6 1331.8h.01M1583.0 1312.7h.01M1583.4 1333.6h.01M1583.9 1325.4h.01M1584.3 1303.7h.01M1584.7 1317.3h.01M1585.1 1298.0h.01M1585.5 1356.4h.01M1585.9 1327.8h.01M1586.3 1363.6h.01M1586.7 1344.6h.01M1587.1 1365.9h.01M1587.5 1336.6h.01M1588.0 1344.3h.01M1588.4 1348.3h.01M1588.8 1359.9h.01M1589.2 1335.7h.01M1589.6 1348.4h.01M1590.0 1315.5h.01M1590.4 1312.8h.01M1590.8 1353.7h.01M1591.2 1324.6h.01M1591.6 1351.5h.01M1592.1 1373.6h.01M1592.5 1362.5h.01M1592.9 1360.8h.01M1593.3 1356.7h.01M1593.7 1335.8h.01M1594.1 1344.1h.01M1594.5 1378.6h.01M1594.9 1380.5h.01M1595.3 1331.2h.01M1595.7 1381.5h.01M1596.1 1343.2h.01M1596.6 1375.6h.01M1597.0 1355.6h.01M1597.4 1317.1h.01M1597.8 1339.9h.01M1598.2 1348.2h.01M1598.6 1326.0h.01M1599.0 1379.6h.01M1599.4 1347.5h.01M1599.8 1361.9h.01M1600.2 1339.2h.01M1600.7 1386.6h.01M1601.1 1381.9h.01M1601.5 1335.0h.01M1601.9 1362.8h.01M1602.3 1347.7h.01M1602.7 1355.2h.01M1603.1 1379.5h.01M1603.5 1330.0h.01M1603.9 1358.0h.01M1604.3 1346.0h.01M1604.8 1341.5h.01M1605.2 1379.8h.01M1605.6 1340.1h.01M1606.0 1386.4h.01M1606.4 1365.2h.01M1606.8 1337.0h.01M1607.2 1377.9h.01M1607.6 1328.6h.01M1608.0 1352.9h.01M1608.4 1383.1h.01M1608.9 1343.6h.01M1609.3 1377.2h.01M1609.7 1338.2h.01M1610.1 1315.6h.01M1610.5 1350.1h.01M1610.9 1342.3h.01M1611.3 1364.5h.01M1611.7 1363.2h.01M1612.1 1342.5h.01M1612.5 1368.6h.01M1613.0 1341.8h.01M1613.4 1357.8h.01M1613.8 1327.9h.01M1614.2 1344.8h.01M1614.6 1317.5h.01M1615.0 1320.1h.01M1615.4 1325.0h.01M1615.8 1354.4h.01M1616.2 1324.6h.01M1616.6 1341.4h.01M1617.1 1354.0h.01M1617.5 1336.8h.01M1617.9 1313.8h.01M1618.3 1317.2h.01M1618.7 1351.0h.01M1619.1 1311.1h.01M1619.5 1357.4h.01M1619.9 1330.6h.01M1620.3 1302.4h.01M1620.7 1307.9h.01M1621.1 1306.5h.01M1621.6 1304.2h.01M1622.0 1318.0h.01M1622.4 1312.3h.01M1622.8 1331.7h.01M1623.2 1330.1h.01M1623.6 1311.6h.01M1624.0 1323.1h.01M1624.4 1329.7h.01M1624.8 1323.5h.01M1625.2 1320.9h.01M1625.7 1339.7h.01M1626.1 1302.9h.01M1626.5 1282.8h.01M1626.9 1319.6h.01M1627.3 1312.2h.01M1627.7 1289.5h.01M1628.1 1289.6h.01M1628.5 1294.2h.01M1628.9 1311.2h.01M1629.3 1292.6h.01M1629.8 1286.5h.01M1630.2 1282.5h.01M1630.6 1273.0h.01M1631.0 1327.4h.01M1631.4 1315.9h.01M1631.8 1290.8h.01M1632.2 1304.2h.01M1632.6 1273.4h.01M1633.0 1263.1h.01M1633.4 1327.9h.01M1633.9 1269.8h.01M1634.3 1271.6h.01M1634.7 1288.9h.01M1635.1 1309.2h.01M1635.5 1274.6h.01M1635.9 1281.0h.01M1636.3 1279.5h.01M1636.7 1299.3h.01M1637.1 1280.3h.01M1637.5 1284.8h.01M1638.0 1316.1h.01M1638.4 1261.5h.01M1638.8 1305.2h.01M1639.2 1262.3h.01M1639.6 1270.6h.01M1640.0 1313.7h.01M1640.4 1305.7h.01M1640.8 1279.3h.01M1641.2 1280.0h.01M1641.6 1275.1h.01M1642.1 1307.3h.01M1642.5 1262.8h.01M1642.9 1276.8h.01M1643.3 1290.4h.01M1643.7 1304.8h.01M1644.1 1302.3h.01M1644.5 1300.7h.01M1644.9 1274.9h.01M1645.3 1265.1h.01M1645.7 1273.5h.01M1646.2 1296.8h.01M1646.6 1290.5h.01M1647.0 1292.9h.01M1647.4 1306.6h.01M1647.8 1279.2h.01M1648.2 1273.7h.01M1648.6 1289.4h.01M1649.0 1298.0h.01M1649.4 1306.0h.01M1649.8 1296.0h.01M1650.2 1283.3h.01M1650.7 1283.6h.01M1651.1 1327.6h.01M1651.5 1300.3h.01M1651.9 1289.1h.01M1652.3 1311.9h.01M1652.7 1317.7h.01M1653.1 1304.3h.01M1653.5 1260.8h.01M1653.9 1303.4h.01M1654.3 1273.7h.01M1654.8 1329.1h.01M1655.2 1262.4h.01M1655.6 1326.6h.01M1656.0 1308.3h.01M1656.4 1294.0h.01M1656.8 1277.4h.01M1657.2 1330.1h.01M1657.6 1260.5h.01M1658.0 1287.9h.01M1658.4 1312.0h.01M1658.9 1252.6h.01M1659.3 1324.7h.01M1659.7 1299.4h.01M1660.1 1295.1h.01M1660.5 1334.3h.01M1660.9 1274.6h.01M1661.3 1272.5h.01M1661.7 1294.2h.01M1662.1 1316.0h.01M1662.5 1319.1h.01M1663.0 1316.2h.01M1663.4 1302.2h.01M1663.8 1289.9h.01M1664.2 1293.1h.01M1664.6 1302.6h.01M1665.0 1311.1h.01M1665.4 1288.9h.01M1665.8 1261.8h.01M1666.2 1309.1h.01M1666.6 1319.0h.01M1667.1 1299.2h.01M1667.5 1273.8h.01M1667.9 1300.6h.01M1668.3 1289.9h.01M1668.7 1300.4h.01M1669.1 1290.7h.01M1669.5 1273.5h.01M1669.9 1294.9h.01M1670.3 1286.2h.01M1670.7 1285.5h.01M1671.2 1296.8h.01M1671.6 1293.9h.01M1672.0 1306.3h.01M1672.4 1272.3h.01M1672.8 1294.5h.01M1673.2 1312.2h.01M1673.6 1285.4h.01M1674.0 1310.1h.01M1674.4 1279.7h.01M1674.8 1305.4h.01M1675.3 1316.0h.01M1675.7 1282.5h.01M1676.1 1313.0h.01M1676.5 1312.5h.01M1676.9 1261.4h.01M1677.3 1274.5h.01M1677.7 1328.3h.01M1678.1 1304.7h.01M1678.5 1280.5h.01M1678.9 1273.0h.01M1679.3 1301.0h.01M1679.8 1286.0h.01M1680.2 1304.5h.01M1680.6 1311.6h.01M1681.0 1314.1h.01M1681.4 1322.9h.01M1681.8 1303.3h.01M1682.2 1280.3h.01M1682.6 1267.0h.01M1683.0 1313.0h.01M1683.4 1266.3h.01M1683.9 1312.3h.01M1684.3 1302.9h.01M1684.7 1316.5h.01M1685.1 1315.7h.01M1685.5 1323.1h.01M1685.9 1283.1h.01M1686.3 1292.2h.01M1686.7 1288.6h.01M1687.1 1266.3h.01M1687.5 1297.3h.01M1688.0 1260.0h.01M1688.4 1263.8h.01M1688.8 1257.8h.01M1689.2 1251.1h.01M1689.6 1260.9h.01M1690.0 1263.9h.01M1690.4 1319.4h.01M1690.8 1245.3h.01M1691.2 1295.9h.01M1691.6 1301.9h.01M1692.1 1328.2h.01M1692.5 1294.5h.01M1692.9 1299.7h.01M1693.3 1293.0h.01M1693.7 1291.2h.01M1694.1 1306.3h.01M1694.5 1254.1h.01M1694.9 1281.3h.01M1695.3 1295.8h.01M1695.7 1263.1h.01M1696.2 1267.1h.01M1696.6 1272.7h.01M1697.0 1282.3h.01M1697.4 1298.5h.01M1697.8 1265.9h.01M1698.2 1302.0h.01M1698.6 1269.4h.01M1699.0 1272.6h.01M1699.4 1306.0h.01M1699.8 1305.1h.01M1700.3 1306.1h.01M1700.7 1314.3h.01M1701.1 1269.4h.01M1701.5 1334.6h.01M1701.9 1308.1h.01M1702.3 1307.1h.01M1702.7 1304.7h.01M1703.1 1295.1h.01M1703.5 1304.9h.01M1703.9 1311.2h.01M1704.4 1324.3h.01M1704.8 1274.8h.01M1705.2 1290.5h.01M1705.6 1301.5h.01M1706.0 1306.1h.01M1706.4 1309.6h.01M1706.8 1285.0h.01M1707.2 1324.9h.01M1707.6 1327.9h.01M1708.0 1317.0h.01M1708.4 1309.6h.01M1708.9 1318.2h.01M1709.3 1281.8h.01M1709.7 1285.3h.01M1710.1 1283.4h.01M1710.5 1319.4h.01M1710.9 1316.2h.01M1711.3 1281.3h.01M1711.7 1278.9h.01M1712.1 1292.4h.01M1712.5 1332.4h.01M1713.0 1300.3h.01M1713.4 1316.7h.01M1713.8 1303.9h.01M1714.2 1316.1h.01M1714.6 1288.0h.01M1715.0 1311.2h.01M1715.4 1290.2h.01M1715.8 1339.5h.01M1716.2 1336.0h.01M1716.6 1312.7h.01M1717.1 1288.4h.01M1717.5 1331.7h.01M1717.9 1299.1h.01M1718.3 1338.8h.01M1718.7 1316.7h.01M1719.1 1316.3h.01M1719.5 1317.3h.01M1719.9 1326.6h.01M1720.3 1311.5h.01M1720.7 1280.5h.01M1721.2 1302.9h.01M1721.6 1337.0h.01M1722.0 1312.9h.01M1722.4 1351.6h.01M1722.8 1303.5h.01M1723.2 1344.2h.01M1723.6 1324.4h.01M1724.0 1327.5h.01M1724.4 1318.6h.01M1724.8 1302.3h.01M1725.3 1312.0h.01M1725.7 1289.8h.01M1726.1 1359.1h.01M1726.5 1349.9h.01M1726.9 1335.1h.01M1727.3 1333.7h.01M1727.7 1331.8h.01M1728.1 1357.5h.01M1728.5 1298.5h.01M1728.9 1371.0h.01M1729.4 1331.5h.01M1729.8 1308.2h.01M1730.2 1332.7h.01M1730.6 1340.0h.01M1731.0 1325.3h.01M1731.4 1325.5h.01M1731.8 1371.6h.01M1732.2 1369.7h.01M1732.6 1326.8h.01M1733.0 1339.0h.01M1733.5 1356.8h.01M1733.9 1337.7h.01M1734.3 1363.3h.01M1734.7 1361.4h.01M1735.1 1345.4h.01M1735.5 1331.4h.01M1735.9 1343.8h.01M1736.3 1349.4h.01M1736.7 1357.9h.01M1737.1 1362.0h.01M1737.5 1366.6h.01M1738.0 1342.0h.01M1738.4 1369.2h.01M1738.8 1328.9h.01M1739.2 1355.3h.01M1739.6 1346.9h.01M1740.0 1361.4h.01M1740.4 1341.2h.01M1740.8 1366.2h.01M1741.2 1346.6h.01M1741.6 1356.1h.01M1742.1 1383.6h.01M1742.5 1376.4h.01M1742.9 1342.9h.01M1743.3 1353.1h.01M1743.7 1338.6h.01M1744.1 1371.4h.01M1744.5 1354.9h.01M1744.9 1332.6h.01M1745.3 1337.4h.01M1745.7 1373.6h.01M1746.2 1332.9h.01M1746.6 1336.6h.01M1747.0 1341.1h.01M1747.4 1370.0h.01M1747.8 1384.5h.01M1748.2 1333.4h.01M1748.6 1348.9h.01M1749.0 1343.0h.01M1749.4 1334.5h.01M1749.8 1381.7h.01M1750.3 1358.1h.01M1750.7 1366.2h.01M1751.1 1372.2h.01M1751.5 1362.3h.01M1751.9 1348.2h.01M1752.3 1366.7h.01M1752.7 1342.4h.01M1753.1 1369.7h.01M1753.5 1376.5h.01M1753.9 1379.7h.01M1754.4 1380.5h.01M1754.8 1368.2h.01M1755.2 1368.8h.01M1755.6 1353.6h.01M1756.0 1366.4h.01M1756.4 1361.8h.01M1756.8 1350.8h.01M1757.2 1386.3h.01M1757.6 1352.6h.01M1758.0 1373.1h.01M1758.5 1351.9h.01M1758.9 1370.7h.01M1759.3 1360.8h.01M1759.7 1359.1h.01M1760.1 1372.0h.01M1760.5 1375.5h.01M1760.9 1371.6h.01M1761.3 1348.3h.01M1761.7 1371.3h.01M1762.1 1342.9h.01M1762.5 1377.4h.01M1763.0 1352.5h.01M1763.4 1382.1h.01M1763.8 1366.2h.01M1764.2 1373.7h.01M1764.6 1353.2h.01M1765.0 1349.3h.01M1765.4 1367.9h.01M1765.8 1370.3h.01M1766.2 1347.9h.01M1766.6 1371.3h.01M1767.1 1356.7h.01M1767.5 1346.5h.01M1767.9 1360.4h.01M1768.3 1378.0h.01M1768.7 1329.9h.01M1769.1 1347.1h.01M1769.5 1340.4h.01M1769.9 1353.4h.01M1770.3 1322.2h.01M1770.7 1341.6h.01M1771.2 1335.6h.01M1771.6 1331.3h.01M1772.0 1320.1h.01M1772.4 1334.8h.01M1772.8 1311.8h.01M1773.2 1315.5h.01M1773.6 1346.7h.01M1774.0 1328.2h.01M1774.4 1330.1h.01M1774.8 1317.2h.01M1775.3 1321.3h.01M1775.7 1325.6h.01M1776.1 1320.5h.01M1776.5 1283.9h.01M1776.9 1298.8h.01M1777.3 1302.8h.01M1777.7 1301.9h.01M1778.1 1307.9h.01M1778.5 1336.1h.01M1778.9 1324.6h.01M1779.4 1320.6h.01M1779.8 1265.4h.01M1780.2 1305.6h.01M1780.6 1269.9h.01M1781.0 1271.7h.01M1781.4 1270.8h.01M1781.8 1323.0h.01M1782.2 1295.3h.01M1782.6 1302.1h.01M1783.0 1255.8h.01M1783.5 1327.3h.01M1783.9 1318.1h.01M1784.3 1280.2h.01M1784.7 1299.2h.01M1785.1 1263.9h.01M1785.5 1282.5h.01M1785.9 1321.1h.01M1786.3 1320.8h.01M1786.7 1311.5h.01M1787.1 1278.1h.01M1787.6 1269.1h.01M1788.0 1268.1h.01M1788.4 1252.1h.01M1788.8 1266.5h.01M1789.2 1280.3h.01M1789.6 1262.8h.01M1790.0 1280.2h.01M1790.4 1250.6h.01M1790.8 1282.0h.01M1791.2 1257.7h.01M1791.6 1292.8h.01M1792.1 1271.9h.01M1792.5 1241.9h.01M1792.9 1255.4h.01M1793.3 1285.8h.01M1793.7 1280.5h.01M1794.1 1294.1h.01M1794.5 1257.0h.01M1794.9 1270.9h.01M1795.3 1256.9h.01M1795.7 1273.4h.01M1796.2 1241.4h.01M1796.6 1263.6h.01M1797.0 1274.1h.01M1797.4 1298.0h.01M1797.8 1271.7h.01M1798.2 1267.6h.01M1798.6 1292.0h.01M1799.0 1303.4h.01M1799.4 1278.4h.01M1799.8 1279.2h.01M1800.3 1288.6h.01M1800.7 1255.9h.01M1801.1 1281.3h.01M1801.5 1275.2h.01M1801.9 1268.2h.01M1802.3 1284.2h.01M1802.7 1306.1h.01M1803.1 1234.5h.01M1803.5 1270.3h.01M1803.9 1306.6h.01M1804.4 1303.5h.01M1804.8 1254.5h.01M1805.2 1310.3h.01M1805.6 1255.4h.01M1806.0 1291.9h.01M1806.4 1291.8h.01M1806.8 1256.9h.01M1807.2 1245.8h.01M1807.6 1240.2h.01M1808.0 1260.8h.01M1808.5 1311.1h.01M1808.9 1257.6h.01M1809.3 1258.1h.01M1809.7 1277.0h.01M1810.1 1320.5h.01M1810.5 1277.5h.01M1810.9 1289.0h.01M1811.3 1301.7h.01M1811.7 1302.7h.01M1812.1 1245.9h.01M1812.6 1264.0h.01M1813.0 1270.0h.01M1813.4 1324.8h.01M1813.8 1265.5h.01M1814.2 1311.5h.01M1814.6 1316.3h.01M1815.0 1279.8h.01M1815.4 1305.4h.01M1815.8 1283.9h.01M1816.2 1293.6h.01M1816.7 1287.7h.01M1817.1 1304.7h.01M1817.5 1293.7h.01M1817.9 1311.5h.01M1818.3 1302.0h.01M1818.7 1308.2h.01M1819.1 1316.8h.01M1819.5 1281.4h.01M1819.9 1316.1h.01M1820.3 1288.2h.01M1820.7 1314.3h.01M1821.2 1306.6h.01M1821.6 1298.4h.01M1822.0 1299.2h.01M1822.4 1305.8h.01M1822.8 1299.6h.01M1823.2 1309.9h.01M1823.6 1302.8h.01M1824.0 1321.4h.01M1824.4 1295.7h.01M1824.8 1274.4h.01M1825.3 1324.4h.01M1825.7 1324.1h.01M1826.1 1296.2h.01M1826.5 1284.6h.01M1826.9 1285.8h.01M1827.3 1315.5h.01M1827.7 1282.4h.01M1828.1 1293.4h.01M1828.5 1276.9h.01M1828.9 1286.7h.01M1829.4 1302.4h.01M1829.8 1284.0h.01M1830.2 1306.8h.01M1830.6 1289.6h.01M1831.0 1309.4h.01M1831.4 1290.3h.01M1831.8 1312.8h.01M1832.2 1283.9h.01M1832.6 1307.8h.01M1833.0 1290.1h.01M1833.5 1306.3h.01M1833.9 1290.6h.01M1834.3 1314.4h.01M1834.7 1320.3h.01M1835.1 1280.7h.01M1835.5 1318.2h.01M1835.9 1300.1h.01M1836.3 1314.8h.01M1836.7 1321.6h.01M1837.1 1295.5h.01M1837.6 1296.8h.01M1838.0 1308.3h.01M1838.4 1299.6h.01M1838.8 1325.6h.01M1839.2 1288.0h.01M1839.6 1290.7h.01M1840.0 1291.5h.01M1840.4 1291.7h.01M1840.8 1315.2h.01M1841.2 1303.6h.01M1841.7 1302.7h.01M1842.1 1297.8h.01M1842.5 1288.7h.01M1842.9 1296.9h.01M1843.3 1287.4h.01M1843.7 1273.7h.01M1844.1 1312.4h.01M1844.5 1298.0h.01M1844.9 1315.7h.01M1845.3 1292.1h.01M1845.8 1304.5h.01M1846.2 1298.0h.01M1846.6 1306.2h.01M1847.0 1268.6h.01M1847.4 1304.9h.01M1847.8 1306.8h.01M1848.2 1280.8h.01M1848.6 1295.4h.01M1849.0 1266.5h.01M1849.4 1271.9h.01M1849.8 1314.5h.01M1850.3 1283.2h.01M1850.7 1320.5h.01M1851.1 1273.7h.01M1851.5 1283.0h.01M1851.9 1318.3h.01M1852.3 1279.7h.01M1852.7 1299.4h.01M1853.1 1287.7h.01M1853.5 1293.5h.01M1853.9 1282.8h.01M1854.4 1269.7h.01M1854.8 1303.0h.01M1855.2 1320.4h.01M1855.6 1319.4h.01M1856.0 1295.2h.01M1856.4 1271.5h.01M1856.8 1322.8h.01M1857.2 1321.2h.01M1857.6 1282.8h.01M1858.0 1313.2h.01M1858.5 1308.4h.01M1858.9 1313.5h.01M1859.3 1271.6h.01M1859.7 1295.7h.01M1860.1 1301.1h.01M1860.5 1312.1h.01M1860.9 1316.5h.01M1861.3 1318.0h.01M1861.7 1294.6h.01M1862.1 1282.3h.01M1862.6 1279.1h.01M1863.0 1307.9h.01M1863.4 1303.5h.01M1863.8 1316.7h.01M1864.2 1306.3h.01M1864.6 1317.4h.01M1865.0 1299.5h.01M1865.4 1321.1h.01M1865.8 1298.3h.01M1866.2 1293.8h.01M1866.7 1284.9h.01M1867.1 1292.5h.01M1867.5 1283.0h.01M1867.9 1303.1h.01M1868.3 1323.6h.01M1868.7 1290.2h.01M1869.1 1304.7h.01M1869.5 1302.7h.01M1869.9 1314.0h.01M1870.3 1326.9h.01M1870.8 1325.0h.01M1871.2 1349.4h.01M1871.6 1340.2h.01M1872.0 1313.1h.01M1872.4 1318.1h.01M1872.8 1302.5h.01M1873.2 1323.1h.01M1873.6 1320.9h.01M1874.0 1295.3h.01M1874.4 1354.0h.01M1874.9 1328.7h.01M1875.3 1321.7h.01M1875.7 1308.4h.01M1876.1 1355.7h.01M1876.5 1327.6h.01M1876.9 1310.0h.01M1877.3 1341.2h.01M1877.7 1324.5h.01M1878.1 1334.5h.01M1878.5 1348.9h.01M1878.9 1328.2h.01M1879.4 1343.1h.01M1879.8 1326.2h.01M1880.2 1361.2h.01M1880.6 1352.6h.01M1881.0 1310.0h.01M1881.4 1308.0h.01M1881.8 1354.6h.01M1882.2 1332.0h.01M1882.6 1327.4h.01M1883.0 1360.5h.01M1883.5 1347.6h.01M1883.9 1339.5h.01M1884.3 1325.9h.01M1884.7 1349.6h.01M1885.1 1349.8h.01M1885.5 1340.3h.01M1885.9 1323.3h.01M1886.3 1339.2h.01M1886.7 1350.3h.01M1887.1 1347.6h.01M1887.6 1369.2h.01M1888.0 1321.1h.01M1888.4 1357.6h.01M1888.8 1334.0h.01M1889.2 1367.3h.01M1889.6 1330.6h.01M1890.0 1361.4h.01M1890.4 1331.7h.01M1890.8 1369.2h.01M1891.2 1363.2h.01M1891.7 1342.6h.01M1892.1 1348.2h.01M1892.5 1331.3h.01M1892.9 1336.5h.01M1893.3 1361.8h.01M1893.7 1342.3h.01M1894.1 1339.8h.01M1894.5 1351.7h.01M1894.9 1348.4h.01M1895.3 1342.4h.01M1895.8 1357.3h.01M1896.2 1343.9h.01M1896.6 1338.7h.01M1897.0 1348.4h.01M1897.4 1357.6h.01M1897.8 1339.5h.01M1898.2 1374.8h.01M1898.6 1370.2h.01M1899.0 1355.2h.01M1899.4 1377.2h.01M1899.9 1376.9h.01M1900.3 1369.0h.01M1900.7 1353.7h.01M1901.1 1358.1h.01M1901.5 1340.7h.01M1901.9 1357.1h.01M1902.3 1368.6h.01M1902.7 1376.0h.01M1903.1 1360.2h.01M1903.5 1339.5h.01M1903.9 1362.6h.01M1904.4 1339.7h.01M1904.8 1369.1h.01M1905.2 1373.1h.01M1905.6 1358.5h.01M1906.0 1353.6h.01M1906.4 1363.8h.01M1906.8 1342.7h.01M1907.2 1353.2h.01M1907.6 1342.1h.01M1908.0 1363.3h.01M1908.5 1365.1h.01M1908.9 1345.1h.01M1909.3 1346.9h.01M1909.7 1345.6h.01M1910.1 1365.4h.01M1910.5 1375.5h.01M1910.9 1349.9h.01M1911.3 1336.7h.01M1911.7 1338.5h.01M1912.1 1361.4h.01M1912.6 1374.6h.01M1913.0 1353.1h.01M1913.4 1375.0h.01M1913.8 1346.4h.01M1914.2 1336.9h.01M1914.6 1331.8h.01M1915.0 1356.0h.01M1915.4 1351.6h.01M1915.8 1333.1h.01M1916.2 1330.6h.01M1916.7 1343.8h.01M1917.1 1344.5h.01M1917.5 1370.9h.01M1917.9 1370.8h.01M1918.3 1338.7h.01M1918.7 1340.4h.01M1919.1 1345.6h.01M1919.5 1322.8h.01M1919.9 1345.8h.01M1920.3 1335.3h.01M1920.8 1324.5h.01M1921.2 1332.3h.01M1921.6 1323.1h.01M1922.0 1343.4h.01M1922.4 1335.0h.01M1922.8 1314.9h.01M1923.2 1338.6h.01M1923.6 1313.9h.01M1924.0 1333.2h.01M1924.4 1313.8h.01M1924.9 1364.0h.01M1925.3 1339.5h.01M1925.7 1337.2h.01M1926.1 1351.3h.01M1926.5 1334.9h.01M1926.9 1320.0h.01M1927.3 1337.2h.01M1927.7 1330.3h.01M1928.1 1322.1h.01M1928.5 1359.4h.01M1929.0 1338.2h.01M1929.4 1339.1h.01M1929.8 1323.5h.01M1930.2 1328.6h.01M1930.6 1334.2h.01M1931.0 1328.9h.01M1931.4 1329.7h.01M1931.8 1350.7h.01M1932.2 1353.3h.01M1932.6 1324.9h.01M1933.0 1344.4h.01M1933.5 1332.7h.01M1933.9 1324.9h.01M1934.3 1294.5h.01M1934.7 1307.4h.01M1935.1 1303.7h.01M1935.5 1278.9h.01M1935.9 1296.8h.01M1936.3 1279.4h.01M1936.7 1275.7h.01M1937.1 1287.4h.01M1937.6 1274.3h.01M1938.0 1304.3h.01M1938.4 1284.3h.01M1938.8 1315.2h.01M1939.2 1303.2h.01M1939.6 1293.2h.01M1940.0 1292.6h.01M1940.4 1285.5h.01M1940.8 1279.7h.01M1941.2 1288.4h.01M1941.7 1279.1h.01M1942.1 1290.5h.01M1942.5 1271.9h.01M1942.9 1304.9h.01M1943.3 1308.0h.01M1943.7 1310.1h.01M1944.1 1301.7h.01M1944.5 1268.7h.01M1944.9 1281.7h.01M1945.3 1290.6h.01M1945.8 1290.9h.01M1946.2 1292.5h.01M1946.6 1295.4h.01M1947.0 1307.1h.01M1947.4 1298.2h.01M1947.8 1308.8h.01M1948.2 1288.6h.01M1948.6 1261.6h.01M1949.0 1273.1h.01M1949.4 1291.6h.01M1949.9 1286.7h.01M1950.3 1278.8h.01M1950.7 1308.7h.01M1951.1 1297.3h.01M1951.5 1265.6h.01M1951.9 1287.6h.01M1952.3 1303.7h.01M1952.7 1273.3h.01M1953.1 1289.7h.01M1953.5 1294.1h.01M1954.0 1256.0h.01M1954.4 1258.9h.01M1954.8 1303.2h.01M1955.2 1265.0h.01M1955.6 1308.5h.01M1956.0 1278.1h.01M1956.4 1260.4h.01M1956.8 1307.0h.01M1957.2 1264.0h.01M1957.6 1299.7h.01M1958.1 1255.9h.01M1958.5 1280.8h.01M1958.9 1250.1h.01M1959.3 1258.6h.01M1959.7 1296.7h.01M1960.1 1274.0h.01M1960.5 1280.8h.01M1960.9 1286.2h.01M1961.3 1290.2h.01M1961.7 1294.1h.01M1962.1 1305.3h.01M1962.6 1306.5h.01M1963.0 1266.8h.01M1963.4 1299.2h.01M1963.8 1296.4h.01M1964.2 1287.8h.01M1964.6 1271.0h.01M1965.0 1292.4h.01M1965.4 1288.4h.01M1965.8 1300.9h.01M1966.2 1281.2h.01M1966.7 1299.9h.01M1967.1 1287.3h.01M1967.5 1280.2h.01M1967.9 1305.1h.01M1968.3 1294.9h.01M1968.7 1292.3h.01M1969.1 1302.1h.01M1969.5 1286.5h.01M1969.9 1311.1h.01M1970.3 1274.5h.01M1970.8 1313.3h.01M1971.2 1326.4h.01M1971.6 1278.6h.01M1972.0 1282.0h.01M1972.4 1305.7h.01M1972.8 1323.9h.01M1973.2 1311.1h.01M1973.6 1284.0h.01M1974.0 1301.3h.01M1974.4 1279.7h.01M1974.9 1313.0h.01M1975.3 1312.6h.01M1975.7 1279.1h.01M1976.1 1287.9h.01M1976.5 1317.1h.01M1976.9 1305.0h.01M1977.3 1288.2h.01M1977.7 1293.6h.01M1978.1 1298.2h.01M1978.5 1305.5h.01M1979.0 1273.4h.01M1979.4 1310.6h.01M1979.8 1285.9h.01M1980.2 1285.8h.01M1980.6 1316.0h.01M1981.0 1285.6h.01M1981.4 1272.8h.01M1981.8 1283.3h.01M1982.2 1272.3h.01M1982.6 1287.9h.01M1983.1 1316.6h.01M1983.5 1273.4h.01M1983.9 1307.8h.01M1984.3 1324.8h.01M1984.7 1311.2h.01M1985.1 1326.2h.01M1985.5 1312.2h.01M1985.9 1296.6h.01M1986.3 1299.4h.01M1986.7 1275.3h.01M1987.2 1295.8h.01M1987.6 1308.4h.01M1988.0 1304.0h.01M1988.4 1291.8h.01M1988.8 1294.9h.01M1989.2 1313.4h.01M1989.6 1318.8h.01M1990.0 1318.0h.01M1990.4 1299.1h.01M1990.8 1313.3h.01M1991.2 1321.8h.01M1991.7 1305.5h.01M1992.1 1300.9h.01M1992.5 1303.4h.01M1992.9 1292.6h.01M1993.3 1308.4h.01M1993.7 1317.8h.01M1994.1 1294.4h.01M1994.5 1276.1h.01M1994.9 1285.4h.01M1995.3 1288.1h.01M1995.8 1304.5h.01M1996.2 1289.9h.01M1996.6 1313.0h.01M1997.0 1317.8h.01M1997.4 1320.9h.01M1997.8 1314.8h.01M1998.2 1279.7h.01M1998.6 1308.2h.01M1999.0 1297.6h.01M1999.4 1306.6h.01M1999.9 1298.0h.01M2000.3 1299.5h.01M2000.7 1304.6h.01M2001.1 1301.9h.01M2001.5 1310.1h.01M2001.9 1300.5h.01M2002.3 1319.7h.01M2002.7 1307.1h.01M2003.1 1305.4h.01M2003.5 1319.6h.01M2004.0 1309.9h.01M2004.4 1296.6h.01M2004.8 1293.4h.01M2005.2 1311.1h.01M2005.6 1304.9h.01M2006.0 1318.6h.01M2006.4 1296.3h.01M2006.8 1325.3h.01M2007.2 1332.7h.01M2007.6 1296.5h.01M2008.1 1326.2h.01M2008.5 1320.6h.01M2008.9 1314.7h.01M2009.3 1311.9h.01M2009.7 1310.7h.01M2010.1 1293.0h.01M2010.5 1306.8h.01M2010.9 1304.4h.01M2011.3 1314.4h.01M2011.7 1310.5h.01M2012.2 1308.5h.01M2012.6 1314.3h.01M2013.0 1323.3h.01M2013.4 1323.9h.01M2013.8 1305.8h.01M2014.2 1320.2h.01M2014.6 1316.6h.01M2015.0 1325.0h.01M2015.4 1333.7h.01M2015.8 1319.2h.01M2016.3 1311.4h.01M2016.7 1351.8h.01M2017.1 1299.6h.01M2017.5 1316.6h.01M2017.9 1326.8h.01M2018.3 1323.3h.01M2018.7 1345.3h.01M2019.1 1329.8h.01M2019.5 1309.1h.01M2019.9 1298.1h.01M2020.3 1355.2h.01M2020.8 1306.9h.01M2021.2 1314.5h.01M2021.6 1365.1h.01M2022.0 1342.4h.01M2022.4 1314.7h.01M2022.8 1353.0h.01M2023.2 1351.1h.01M2023.6 1371.2h.01M2024.0 1323.5h.01M2024.4 1333.1h.01M2024.9 1353.1h.01M2025.3 1343.1h.01M2025.7 1321.9h.01M2026.1 1352.9h.01M2026.5 1333.2h.01M2026.9 1333.7h.01M2027.3 1362.0h.01M2027.7 1376.5h.01M2028.1 1341.5h.01M2028.5 1345.8h.01M2029.0 1370.2h.01M2029.4 1362.0h.01M2029.8 1375.7h.01M2030.2 1343.1h.01M2030.6 1346.7h.01M2031.0 1354.8h.01M2031.4 1322.3h.01M2031.8 1366.8h.01M2032.2 1330.5h.01M2032.6 1313.8h.01M2033.1 1342.3h.01M2033.5 1349.8h.01M2033.9 1377.2h.01M2034.3 1345.9h.01M2034.7 1379.3h.01M2035.1 1372.7h.01M2035.5 1378.6h.01M2035.9 1376.8h.01M2036.3 1331.7h.01M2036.7 1372.7h.01M2037.2 1352.3h.01M2037.6 1374.6h.01M2038.0 1363.0h.01M2038.4 1358.9h.01M2038.8 1334.4h.01M2039.2 1351.9h.01M2039.6 1356.4h.01M2040.0 1384.3h.01M2040.4 1353.9h.01M2040.8 1368.2h.01M2041.3 1329.6h.01M2041.7 1335.8h.01M2042.1 1371.8h.01M2042.5 1384.6h.01M2042.9 1382.7h.01M2043.3 1374.7h.01M2043.7 1363.0h.01M2044.1 1377.8h.01M2044.5 1364.3h.01M2044.9 1370.2h.01M2045.4 1354.3h.01M2045.8 1342.1h.01M2046.2 1374.8h.01M2046.6 1380.0h.01M2047.0 1396.3h.01M2047.4 1385.9h.01M2047.8 1359.6h.01M2048.2 1349.2h.01M2048.6 1361.0h.01M2049.0 1349.2h.01M2049.4 1356.6h.01M2049.9 1377.8h.01M2050.3 1354.1h.01M2050.7 1366.9h.01M2051.1 1348.6h.01M2051.5 1403.8h.01M2051.9 1363.2h.01M2052.3 1362.1h.01M2052.7 1397.8h.01M2053.1 1363.5h.01M2053.5 1394.4h.01M2054.0 1393.2h.01M2054.4 1380.0h.01M2054.8 1366.7h.01M2055.2 1380.4h.01M2055.6 1392.4h.01M2056.0 1361.6h.01M2056.4 1352.9h.01M2056.8 1375.9h.01M2057.2 1366.8h.01M2057.6 1356.5h.01M2058.1 1357.0h.01M2058.5 1395.5h.01M2058.9 1358.0h.01M2059.3 1374.2h.01M2059.7 1360.4h.01M2060.1 1378.9h.01M2060.5 1389.5h.01M2060.9 1378.2h.01M2061.3 1371.7h.01M2061.7 1362.5h.01M2062.2 1368.4h.01M2062.6 1385.2h.01M2063.0 1354.1h.01M2063.4 1370.3h.01M2063.8 1365.7h.01M2064.2 1371.6h.01M2064.6 1369.6h.01M2065.0 1371.1h.01M2065.4 1379.6h.01M2065.8 1357.9h.01M2066.3 1356.2h.01M2066.7 1380.2h.01M2067.1 1377.5h.01M2067.5 1371.6h.01M2067.9 1362.6h.01M2068.3 1362.2h.01M2068.7 1356.0h.01M2069.1 1381.6h.01M2069.5 1359.3h.01M2069.9 1359.0h.01M2070.4 1366.5h.01M2070.8 1364.3h.01M2071.2 1385.2h.01M2071.6 1327.6h.01M2072.0 1357.6h.01M2072.4 1362.4h.01M2072.8 1340.8h.01M2073.2 1355.8h.01M2073.6 1374.2h.01M2074.0 1336.4h.01M2074.4 1323.8h.01M2074.9 1322.4h.01M2075.3 1348.6h.01M2075.7 1315.5h.01M2076.1 1315.5h.01M2076.5 1321.9h.01M2076.9 1319.5h.01M2077.3 1335.6h.01M2077.7 1309.0h.01M2078.1 1328.4h.01M2078.5 1320.8h.01M2079.0 1321.5h.01M2079.4 1325.0h.01M2079.8 1342.2h.01M2080.2 1345.9h.01M2080.6 1326.3h.01M2081.0 1326.0h.01M2081.4 1341.8h.01M2081.8 1342.8h.01M2082.2 1262.6h.01M2082.6 1271.9h.01M2083.1 1346.5h.01M2083.5 1262.9h.01M2083.9 1334.2h.01M2084.3 1260.6h.01M2084.7 1267.8h.01M2085.1 1354.0h.01M2085.5 1250.2h.01M2085.9 1276.0h.01M2086.3 1280.6h.01M2086.7 1285.5h.01M2087.2 1258.5h.01M2087.6 1275.0h.01M2088.0 1256.0h.01M2088.4 1288.6h.01M2088.8 1279.6h.01M2089.2 1258.4h.01M2089.6 1251.7h.01M2090.0 1240.1h.01M2090.4 1275.6h.01M2090.8 1277.0h.01M2091.3 1270.6h.01M2091.7 1252.9h.01M2092.1 1289.1h.01M2092.5 1281.6h.01M2092.9 1273.6h.01M2093.3 1252.6h.01M2093.7 1280.9h.01M2094.1 1283.6h.01M2094.5 1272.3h.01M2094.9 1259.7h.01M2095.4 1257.8h.01M2095.8 1247.4h.01M2096.2 1271.7h.01M2096.6 1240.8h.01M2097.0 1260.5h.01M2097.4 1252.8h.01M2097.8 1268.6h.01M2098.2 1249.4h.01M2098.6 1274.4h.01M2099.0 1254.1h.01M2099.5 1280.3h.01M2099.9 1269.9h.01M2100.3 1256.4h.01M2100.7 1280.3h.01M2101.1 1277.9h.01M2101.5 1247.9h.01M2101.9 1280.2h.01M2102.3 1283.9h.01M2102.7 1262.3h.01M2103.1 1262.4h.01M2103.5 1289.0h.01M2104.0 1269.2h.01M2104.4 1263.1h.01M2104.8 1245.5h.01M2105.2 1236.3h.01M2105.6 1261.3h.01M2106.0 1275.8h.01M2106.4 1280.4h.01M2106.8 1246.3h.01M2107.2 1242.3h.01M2107.6 1260.5h.01M2108.1 1293.6h.01M2108.5 1266.4h.01M2108.9 1287.1h.01M2109.3 1258.2h.01M2109.7 1267.4h.01M2110.1 1297.7h.01M2110.5 1285.7h.01M2110.9 1274.8h.01M2111.3 1294.8h.01M2111.7 1287.1h.01M2112.2 1277.5h.01M2112.6 1292.6h.01M2113.0 1267.4h.01M2113.4 1271.1h.01M2113.8 1286.6h.01M2114.2 1272.9h.01M2114.6 1254.3h.01M2115.0 1280.5h.01M2115.4 1302.0h.01M2115.8 1276.1h.01M2116.3 1310.8h.01M2116.7 1300.9h.01M2117.1 1306.9h.01M2117.5 1263.7h.01M2117.9 1258.3h.01M2118.3 1282.9h.01M2118.7 1267.0h.01M2119.1 1318.0h.01M2119.5 1290.4h.01M2119.9 1307.9h.01M2120.4 1290.1h.01M2120.8 1292.8h.01M2121.2 1268.8h.01M2121.6 1282.1h.01M2122.0 1312.3h.01M2122.4 1288.4h.01M2122.8 1324.2h.01M2123.2 1305.5h.01M2123.6 1299.2h.01M2124.0 1288.3h.01M2124.5 1288.2h.01M2124.9 1318.8h.01M2125.3 1296.9h.01M2125.7 1304.1h.01M2126.1 1299.8h.01M2126.5 1290.3h.01M2126.9 1304.6h.01M2127.3 1316.4h.01M2127.7 1320.1h.01M2128.1 1302.9h.01M2128.6 1277.1h.01M2129.0 1337.6h.01M2129.4 1340.5h.01M2129.8 1323.1h.01M2130.2 1298.5h.01M2130.6 1310.7h.01M2131.0 1315.4h.01M2131.4 1320.0h.01M2131.8 1328.0h.01M2132.2 1321.3h.01M2132.6 1328.7h.01M2133.1 1335.9h.01M2133.5 1331.3h.01M2133.9 1323.2h.01M2134.3 1324.4h.01M2134.7 1319.1h.01M2135.1 1345.0h.01M2135.5 1294.6h.01M2135.9 1338.8h.01M2136.3 1306.5h.01M2136.7 1315.2h.01M2137.2 1311.4h.01M2137.6 1323.0h.01M2138.0 1328.9h.01M2138.4 1319.3h.01M2138.8 1306.2h.01M2139.2 1336.0h.01M2139.6 1320.6h.01M2140.0 1314.0h.01M2140.4 1344.9h.01M2140.8 1329.4h.01M2141.3 1323.2h.01M2141.7 1328.8h.01M2142.1 1341.9h.01M2142.5 1307.0h.01M2142.9 1324.4h.01M2143.3 1339.3h.01M2143.7 1317.4h.01M2144.1 1327.1h.01M2144.5 1312.0h.01M2144.9 1317.3h.01M2145.4 1329.1h.01M2145.8 1292.0h.01M2146.2 1318.7h.01M2146.6 1299.9h.01M2147.0 1305.9h.01M2147.4 1304.8h.01M2147.8 1286.0h.01M2148.2 1310.8h.01M2148.6 1333.6h.01M2149.0 1305.7h.01M2149.5 1281.5h.01M2149.9 1297.9h.01M2150.3 1278.9h.01M2150.7 1280.1h.01M2151.1 1318.2h.01M2151.5 1292.7h.01M2151.9 1315.9h.01M2152.3 1314.6h.01M2152.7 1300.3h.01M2153.1 1326.0h.01M2153.6 1317.4h.01M2154.0 1313.1h.01M2154.4 1292.1h.01M2154.8 1300.5h.01M2155.2 1289.7h.01M2155.6 1303.4h.01M2156.0 1303.8h.01M2156.4 1307.4h.01M2156.8 1300.5h.01M2157.2 1316.3h.01M2157.7 1304.6h.01M2158.1 1309.8h.01M2158.5 1311.2h.01M2158.9 1318.5h.01M2159.3 1301.8h.01M2159.7 1327.2h.01M2160.1 1329.2h.01M2160.5 1307.0h.01M2160.9 1303.5h.01M2161.3 1310.7h.01M2161.7 1320.3h.01M2162.2 1323.8h.01M2162.6 1305.3h.01M2163.0 1305.8h.01M2163.4 1318.1h.01M2163.8 1325.2h.01M2164.2 1320.2h.01M2164.6 1323.9h.01M2165.0 1303.0h.01M2165.4 1316.9h.01M2165.8 1305.9h.01M2166.3 1304.9h.01M2166.7 1314.6h.01M2167.1 1318.7h.01M2167.5 1316.5h.01M2167.9 1328.5h.01M2168.3 1322.9h.01M2168.7 1308.6h.01M2169.1 1319.3h.01M2169.5 1312.6h.01M2169.9 1328.2h.01M2170.4 1320.0h.01M2170.8 1320.9h.01M2171.2 1324.3h.01M2171.6 1329.2h.01M2172.0 1306.2h.01M2172.4 1325.5h.01M2172.8 1310.3h.01M2173.2 1334.5h.01M2173.6 1316.9h.01M2174.0 1318.9h.01M2174.5 1341.0h.01M2174.9 1318.1h.01M2175.3 1311.0h.01M2175.7 1319.0h.01M2176.1 1329.4h.01M2176.5 1319.0h.01M2176.9 1316.1h.01M2177.3 1300.6h.01M2177.7 1333.4h.01M2178.1 1329.9h.01M2178.6 1306.0h.01M2179.0 1329.6h.01M2179.4 1347.1h.01M2179.8 1300.2h.01M2180.2 1324.5h.01M2180.6 1328.3h.01M2181.0 1293.8h.01M2181.4 1341.7h.01M2181.8 1297.0h.01M2182.2 1300.1h.01M2182.7 1340.7h.01M2183.1 1339.7h.01M2183.5 1329.5h.01M2183.9 1333.5h.01M2184.3 1312.1h.01M2184.7 1309.7h.01M2185.1 1314.3h.01M2185.5 1349.7h.01M2185.9 1351.1h.01M2186.3 1340.3h.01M2186.8 1348.8h.01M2187.2 1310.5h.01M2187.6 1311.1h.01M2188.0 1319.5h.01M2188.4 1340.0h.01M2188.8 1323.9h.01M2189.2 1355.6h.01M2189.6 1357.5h.01M2190.0 1328.6h.01M2190.4 1364.2h.01M2190.8 1382.4h.01M2191.3 1357.1h.01M2191.7 1388.1h.01M2192.1 1366.0h.01M2192.5 1334.6h.01M2192.9 1333.7h.01M2193.3 1356.7h.01M2193.7 1377.7h.01M2194.1 1345.8h.01M2194.5 1330.9h.01M2194.9 1348.4h.01M2195.4 1365.8h.01M2195.8 1368.9h.01M2196.2 1382.5h.01M2196.6 1397.5h.01M2197.0 1345.7h.01M2197.4 1383.3h.01M2197.8 1328.5h.01M2198.2 1393.1h.01M2198.6 1390.7h.01M2199.0 1398.4h.01M2199.5 1338.4h.01M2199.9 1358.4h.01M2200.3 1389.4h.01M2200.7 1334.6h.01M2201.1 1366.1h.01M2201.5 1380.9h.01M2201.9 1364.1h.01M2202.3 1361.6h.01M2202.7 1387.1h.01M2203.1 1392.4h.01M2203.6 1390.0h.01M2204.0 1344.3h.01M2204.4 1350.2h.01M2204.8 1340.8h.01M2205.2 1344.9h.01M2205.6 1404.2h.01M2206.0 1337.6h.01M2206.4 1404.6h.01M2206.8 1379.8h.01M2207.2 1332.9h.01M2207.7 1399.6h.01M2208.1 1331.6h.01M2208.5 1348.5h.01M2208.9 1382.2h.01M2209.3 1394.0h.01M2209.7 1381.1h.01M2210.1 1396.3h.01M2210.5 1340.7h.01M2210.9 1383.4h.01M2211.3 1376.6h.01M2211.8 1385.6h.01M2212.2 1335.8h.01M2212.6 1345.0h.01M2213.0 1333.5h.01M2213.4 1337.6h.01M2213.8 1327.5h.01M2214.2 1367.7h.01M2214.6 1346.2h.01M2215.0 1349.7h.01M2215.4 1343.0h.01M2215.8 1378.7h.01M2216.3 1370.2h.01M2216.7 1331.5h.01M2217.1 1375.2h.01M2217.5 1369.2h.01M2217.9 1366.2h.01M2218.3 1366.6h.01M2218.7 1357.8h.01M2219.1 1382.8h.01M2219.5 1357.9h.01M2219.9 1377.1h.01M2220.4 1377.7h.01M2220.8 1352.6h.01M2221.2 1344.7h.01M2221.6 1348.3h.01M2222.0 1294.7h.01M2222.4 1368.6h.01M2222.8 1332.6h.01M2223.2 1294.2h.01M2223.6 1301.8h.01M2224.0 1302.8h.01M2224.5 1284.4h.01M2224.9 1308.0h.01M2225.3 1298.8h.01M2225.7 1336.4h.01M2226.1 1341.8h.01M2226.5 1298.6h.01M2226.9 1312.8h.01M2227.3 1313.4h.01M2227.7 1270.8h.01M2228.1 1275.7h.01M2228.6 1262.7h.01M2229.0 1325.3h.01M2229.4 1322.9h.01M2229.8 1271.9h.01M2230.2 1294.2h.01M2230.6 1275.9h.01M2231.0 1341.7h.01M2231.4 1267.9h.01M2231.8 1347.5h.01M2232.2 1344.0h.01M2232.7 1268.0h.01M2233.1 1273.0h.01M2233.5 1328.2h.01M2233.9 1239.2h.01M2234.3 1349.8h.01M2234.7 1244.0h.01M2235.1 1309.3h.01M2235.5 1289.7h.01M2235.9 1256.0h.01M2236.3 1330.3h.01M2236.8 1264.5h.01M2237.2 1291.5h.01M2237.6 1349.0h.01M2238.0 1306.9h.01M2238.4 1258.1h.01M2238.8 1320.3h.01M2239.2 1287.6h.01M2239.6 1279.3h.01M2240.0 1305.1h.01M2240.4 1265.3h.01M2240.9 1253.5h.01M2241.3 1283.0h.01M2241.7 1306.1h.01M2242.1 1320.1h.01M2242.5 1300.6h.01M2242.9 1277.4h.01M2243.3 1284.1h.01M2243.7 1305.4h.01M2244.1 1281.9h.01M2244.5 1262.8h.01M2244.9 1257.8h.01M2245.4 1296.7h.01M2245.8 1271.5h.01M2246.2 1277.4h.01M2246.6 1312.8h.01M2247.0 1221.8h.01M2247.4 1235.7h.01M2247.8 1328.7h.01M2248.2 1252.7h.01M2248.6 1270.8h.01M2249.0 1258.8h.01M2249.5 1260.6h.01M2249.9 1300.4h.01M2250.3 1313.9h.01M2250.7 1231.6h.01M2251.1 1214.9h.01M2251.5 1308.5h.01M2251.9 1263.1h.01M2252.3 1218.2h.01M2252.7 1316.5h.01M2253.1 1283.8h.01M2253.6 1251.8h.01M2254.0 1233.3h.01M2254.4 1293.7h.01M2254.8 1214.2h.01M2255.2 1204.9h.01M2255.6 1233.8h.01M2256.0 1251.4h.01M2256.4 1276.4h.01M2256.8 1296.6h.01M2257.2 1298.0h.01M2257.7 1341.7h.01M2258.1 1234.1h.01M2258.5 1246.3h.01M2258.9 1334.2h.01M2259.3 1300.4h.01M2259.7 1207.3h.01M2260.1 1271.0h.01M2260.5 1237.8h.01M2260.9 1263.3h.01M2261.3 1291.4h.01M2261.8 1273.6h.01M2262.2 1264.9h.01M2262.6 1274.8h.01M2263.0 1311.0h.01M2263.4 1224.9h.01M2263.8 1287.6h.01M2264.2 1208.6h.01M2264.6 1214.9h.01M2265.0 1228.1h.01M2265.4 1264.0h.01M2265.9 1314.6h.01M2266.3 1283.4h.01M2266.7 1170.5h.01M2267.1 1274.4h.01M2267.5 1213.2h.01M2267.9 1303.0h.01M2268.3 1229.9h.01M2268.7 1205.6h.01M293.3 1238.0h.01M301.5 1310.2h.01M301.5 1325.3h.01M348.9 1335.0h.01M359.0 1249.2h.01M378.0 1345.7h.01M427.6 1246.2h.01M536.5 1278.5h.01M564.1 1254.1h.01M504.8 1244.4h.01M200.2 1329.6h.01M469.6 1219.6h.01M409.3 1369.5h.01M179.6 1238.0h.01M179.7 1248.7h.01M179.6 1259.5h.01M210.0 1230.4h.01M211.2 1240.1h.01M210.8 1249.8h.01M211.0 1267.1h.01M275.2 1272.5h.01M275.3 1278.9h.01M275.9 1286.5h.01M479.7 1194.8h.01M480.3 1211.0h.01M489.6 1194.8h.01M489.8 1211.0h.01M557.4 1291.9h.01M556.7 1300.5h.01M576.4 1272.5h.01M576.9 1281.1h.01M576.0 1289.7h.01M712.0 1259.7h.01M714.3 1214.0h.01M782.3 1090.4h.01M766.4 1235.1h.01M821.4 1102.0h.01M875.0 1123.7h.01M889.4 1107.7h.01M903.9 1086.0h.01M912.6 1298.8h.01M954.6 1156.9h.01M973.4 1110.6h.01M973.4 1125.1h.01M987.8 1141.0h.01M640.5 1311.8h.01M640.5 1323.4h.01M610.1 1245.2h.01M999.4 1204.7h.01M940.1 1303.1h.01M958.9 1303.1h.01M898.1 1116.4h.01M903.9 1120.8h.01M843.1 1203.3h.01M651.0 1017.1h.01M652.8 1083.7h.01M652.3 1130.9h.01M652.5 1141.0h.01M652.4 1151.2h.01M753.1 1001.5h.01M751.6 1032.5h.01M752.6 1036.8h.01M751.6 1048.4h.01M752.1 1054.2h.01M752.3 1068.7h.01M803.6 1149.7h.01M803.1 1161.3h.01M804.0 1172.9h.01M804.6 1181.5h.01M821.6 1133.8h.01M821.3 1146.8h.01M821.8 1155.5h.01M820.7 1164.2h.01M853.4 1171.4h.01M853.7 1187.3h.01M854.9 1193.1h.01M845.3 1336.4h.01M845.1 1343.6h.01M845.1 1349.4h.01M873.9 1154.1h.01M874.4 1162.7h.01M927.2 1009.3h.01M927.8 1036.8h.01M926.7 1042.6h.01M926.7 1052.7h.01M926.6 1106.3h.01M926.6 1120.8h.01M927.7 1129.5h.01M927.2 1149.7h.01M900.4 1262.6h.01M900.1 1274.2h.01M901.7 1285.7h.01M913.1 1268.4h.01M913.4 1280.0h.01M987.1 1141.8h.01M1071.1 1225.7h.01M1079.3 1234.6h.01M1081.1 1250.0h.01M1061.4 1203.2h.01M1265.7 1106.1h.01M1264.6 1125.7h.01M1293.6 1193.6h.01M1349.6 1113.2h.01M1185.4 1095.4h.01M1187.1 1115.0h.01M1187.1 1134.6h.01M1103.2 1241.8h.01M1361.4 1306.1h.01M1387.1 1166.8h.01M1382.9 1294.3h.01M1335.4 1170.4h.01M1052.6 964.3h.01M1053.3 989.3h.01M1054.2 1006.1h.01M1053.4 1034.6h.01M1054.3 1052.5h.01M1074.9 875.0h.01M1076.9 891.8h.01M1074.6 908.9h.01M1075.5 962.5h.01M1074.6 1011.4h.01M1076.5 1027.5h.01M1076.2 1072.1h.01M1089.0 941.8h.01M1088.6 947.1h.01M1088.9 973.9h.01M1087.9 991.8h.01M1089.0 1023.2h.01M1088.5 1070.4h.01M1087.5 1091.8h.01M1118.6 1084.6h.01M1117.2 1097.1h.01M1116.8 1107.9h.01M1116.5 1122.1h.01M1151.3 1136.4h.01M1150.7 1156.1h.01M1152.5 1172.1h.01M1195.4 870.4h.01M1193.6 882.1h.01M1193.3 894.3h.01M1194.4 918.6h.01M1193.5 946.1h.01M1194.4 1006.1h.01M1195.0 1013.2h.01M1193.7 1032.9h.01M1210.2 981.1h.01M1211.3 982.9h.01M1210.2 1015.0h.01M1210.0 1041.8h.01M1211.3 1063.2h.01M1211.1 1072.1h.01M1219.5 965.0h.01M1219.0 968.6h.01M1218.4 1006.1h.01M1219.0 1013.2h.01M1229.0 965.7h.01M1235.7 1095.4h.01M1234.7 1106.1h.01M1234.9 1116.8h.01M1282.6 1347.1h.01M1283.5 1359.6h.01M1386.9 1167.2h.01M1416.2 1188.2h.01M1400.2 1209.4h.01M1492.5 1164.1h.01M1497.2 1228.8h.01M1498.7 1323.9h.01M1474.7 1235.6h.01M1584.0 1246.3h.01M1604.0 1297.8h.01M1624.3 970.2h.01M1769.3 1271.9h.01M1734.8 1284.2h.01M1406.9 1324.9h.01M1382.3 1294.1h.01M1591.7 1374.1h.01M1630.2 1360.3h.01M1734.8 1380.3h.01M1548.6 1261.7h.01M1568.6 1262.7h.01M1414.8 1206.3h.01M1414.8 1217.1h.01M1415.4 1229.4h.01M1457.7 1207.2h.01M1459.0 1223.3h.01M1458.3 1229.4h.01M1458.8 1241.7h.01M1459.5 1251.0h.01M1458.1 1261.7h.01M1489.6 1186.3h.01M1487.5 1195.5h.01M1488.7 1212.5h.01M1624.1 1207.9h.01M1623.4 1217.1h.01M1624.1 1227.9h.01M1623.9 1257.1h.01M1623.9 1272.5h.01M1624.5 1278.7h.01M1634.2 1230.9h.01M1635.1 1238.6h.01M1636.1 1246.3h.01M1559.4 1237.1h.01M1561.2 1247.9h.01M1997.5 1262.4h.01M2097.0 1307.6h.01M2249.6 1359.9h.01M2244.4 1205.5h.01M2245.2 1201.6h.01M2257.4 1218.4h.01M2258.7 1231.4h.01M1810.6 1243.0h.01M1811.7 1252.1h.01M1810.5 1259.8h.01M1855.9 1239.1h.01M1855.8 1246.9h.01M1855.0 1254.6h.01M2096.2 1221.0h.01M2095.7 1227.5h.01M2096.2 1235.2h.01M2103.6 1191.3h.01M2103.6 1196.5h.01M2103.6 1202.9h.01M2103.0 1209.4h.01M2110.9 1192.6h.01M2109.0 1197.7h.01M2110.9 1214.6h.01M2108.8 1120.2h.01M2107.9 1133.1h.01M2108.6 1139.6h.01M2108.3 1146.0h.01M2108.2 1159.0h.01M2107.4 1165.4h.01M2244.8 1164.1h.01M2244.9 1169.3h.01M2244.7 1175.8h.01M2269.3 1131.8h.01M2267.9 1140.9h.01M2268.0 1148.6h.01M2268.0 1156.4h.01M2269.0 1164.1h.01M2268.2 1171.9h.01"/>
<g id="frame-top">
<line x1="174.0" y1="50.5" x2="2273.5" y2="50.5" stroke="#000" stroke-width="3.4"/>
<line x1="2272.0" y1="50.5" x2="2272.0" y2="735.5" stroke="#000" stroke-width="3.4"/>
<line x1="174.0" y1="735.5" x2="2273.5" y2="735.5" stroke="#000" stroke-width="3.4"/>
<line x1="176.3" y1="49.0" x2="176.3" y2="737.2" stroke="#565656" stroke-width="5"/>
</g>
<g id="frame-bot">
<line x1="174.0" y1="812.5" x2="2273.5" y2="812.5" stroke="#000" stroke-width="3.4"/>
<line x1="2272.0" y1="812.5" x2="2272.0" y2="1498.4" stroke="#000" stroke-width="3.4"/>
<line x1="174.0" y1="1498.4" x2="2273.5" y2="1498.4" stroke="#3a3a3a" stroke-width="4.6"/>
<line x1="176.3" y1="811.0" x2="176.3" y2="1500.7" stroke="#565656" stroke-width="5"/>
</g>
<g id="labels">
<text x="159.5" y="73.1" text-anchor="end">15</text>
<text x="159.5" y="187.1" text-anchor="end">10</text>
<text x="159.5" y="301.4" text-anchor="end">5</text>
<text x="159.5" y="415.6" text-anchor="end">0</text>
<text x="159.5" y="530.0" text-anchor="end">-5</text>
<text x="159.5" y="644.3" text-anchor="end">-10</text>
<text x="159.5" y="760.0" text-anchor="end">-15</text>
<text x="159.5" y="835.2" text-anchor="end">8</text>
<text x="159.5" y="1007.0" text-anchor="end">6</text>
<text x="159.5" y="1178.6" text-anchor="end">4</text>
<text x="159.5" y="1350.1" text-anchor="end">2</text>
<text x="159.5" y="1508.2" text-anchor="end">0</text>
<text transform="translate(74.5 394.6) rotate(-90)" text-anchor="middle" letter-spacing="-0.9">bias [TECU]</text>
<text transform="translate(74.5 1148.7) rotate(-90)" text-anchor="middle" letter-spacing="-1.3">STD [TECU]</text>
<text x="1728" y="136" word-spacing="1.1">Mean:   1.53 TECU</text>
<text x="1728" y="898.2">Mean: 2.59 TECU</text>

<text x="151.5" y="1566.3" text-anchor="middle">2008-001</text>
<text x="450.9" y="1566.3" text-anchor="middle">2010-001</text>
<text x="750.4" y="1566.3" text-anchor="middle">2012-001</text>
<text x="1049.8" y="1566.3" text-anchor="middle">2014-001</text>
<text x="1349.2" y="1566.3" text-anchor="middle">2016-001</text>
<text x="1648.6" y="1566.3" text-anchor="middle">2018-001</text>
<text x="1948.1" y="1566.3" text-anchor="middle">2020-001</text>
<text x="2247.5" y="1566.3" text-anchor="middle">2021-365</text>
<text x="1217" y="1664.6" text-anchor="middle" font-size="68.6">Time [Year-DOY]</text>
</g>
</svg>
</body></html>
